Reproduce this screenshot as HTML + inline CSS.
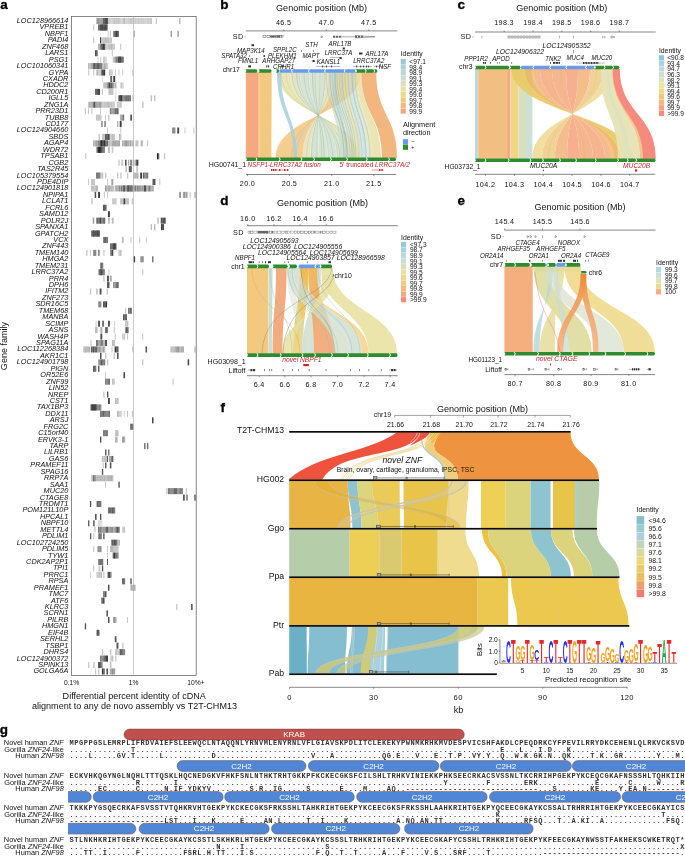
<!DOCTYPE html>
<html><head><meta charset="utf-8"><style>
html,body{margin:0;padding:0;background:#fff;}
body{width:685px;height:856px;overflow:hidden;}
svg{display:block;font-family:"Liberation Sans",sans-serif;will-change:transform;}
.ga{font-size:7.3px;font-style:italic;text-anchor:end;fill:#111;}
.tk{font-size:7.2px;fill:#111;letter-spacing:0.35px;}
.ttl{font-size:9.05px;fill:#111;}
.pl{font-size:13.5px;font-weight:bold;fill:#000;stroke:#000;stroke-width:0.3px;}
.gl{font-size:7.4px;fill:#111;}
.sq{font-family:"Liberation Mono",monospace;font-size:7.0px;font-weight:bold;fill:#333;}
.bl{font-size:8.0px;fill:#fff;}
.gn{font-size:6.7px;font-style:italic;fill:#111;}
.lg{font-size:6.85px;fill:#111;}
.tl{font-size:6.9px;fill:#111;}
.fl{font-size:8.7px;fill:#111;}
</style></head>
<body><svg width="685" height="856" viewBox="0 0 685 856">
<defs><linearGradient id="ge1" x1="0" y1="0" x2="0" y2="1"><stop offset="0" stop-color="#EE8A38"/><stop offset="0.5" stop-color="#F2A060"/><stop offset="1" stop-color="#F4B282"/></linearGradient><linearGradient id="ge2" x1="0" y1="0" x2="0" y2="1"><stop offset="0" stop-color="#EE8A38"/><stop offset="0.4" stop-color="#F2A468"/><stop offset="1" stop-color="#F4B486"/></linearGradient><linearGradient id="gd1" x1="0" y1="0" x2="0" y2="1"><stop offset="0" stop-color="#EEB44A"/><stop offset="0.45" stop-color="#F0A868"/><stop offset="1" stop-color="#F2A878"/></linearGradient><linearGradient id="gd2" x1="0" y1="0" x2="0" y2="1"><stop offset="0" stop-color="#EDAE30"/><stop offset="0.5" stop-color="#EDC050"/><stop offset="1" stop-color="#EDD070"/></linearGradient><clipPath id="gclip"><rect x="68" y="720" width="617" height="136"/></clipPath></defs>
<rect x="96.57" y="18.00" width="1.04" height="6.04" fill="#bfbfbf"/>
<rect x="97.56" y="18.00" width="1.34" height="6.04" fill="#bdbdbd"/>
<rect x="98.85" y="18.00" width="1.23" height="6.04" fill="#c4c4c4"/>
<rect x="100.03" y="18.00" width="0.80" height="6.04" fill="#c8c8c8"/>
<rect x="100.78" y="18.00" width="0.78" height="6.04" fill="#c6c6c6"/>
<rect x="101.52" y="18.00" width="0.81" height="6.04" fill="#bebebe"/>
<rect x="102.28" y="18.00" width="1.13" height="6.04" fill="#cfcfcf"/>
<rect x="103.36" y="18.00" width="0.86" height="6.04" fill="#c1c1c1"/>
<rect x="104.17" y="18.00" width="1.31" height="6.04" fill="#d2d2d2"/>
<rect x="105.44" y="18.00" width="1.27" height="6.04" fill="#c5c5c5"/>
<rect x="106.66" y="18.00" width="1.63" height="6.04" fill="#bdbdbd"/>
<rect x="108.24" y="18.00" width="1.52" height="6.04" fill="#c2c2c2"/>
<rect x="109.71" y="18.00" width="0.88" height="6.04" fill="#bebebe"/>
<rect x="110.54" y="18.00" width="1.03" height="6.04" fill="#cfcfcf"/>
<rect x="111.52" y="18.00" width="0.91" height="6.04" fill="#c9c9c9"/>
<rect x="112.38" y="18.00" width="1.33" height="6.04" fill="#c4c4c4"/>
<rect x="113.65" y="18.00" width="1.24" height="6.04" fill="#bdbdbd"/>
<rect x="114.85" y="18.00" width="0.80" height="6.04" fill="#c0c0c0"/>
<rect x="115.60" y="18.00" width="1.36" height="6.04" fill="#c6c6c6"/>
<rect x="116.91" y="18.00" width="1.03" height="6.04" fill="#cacaca"/>
<rect x="117.89" y="18.00" width="1.16" height="6.04" fill="#c3c3c3"/>
<rect x="119.00" y="18.00" width="1.46" height="6.04" fill="#cccccc"/>
<rect x="120.42" y="18.00" width="0.97" height="6.04" fill="#c9c9c9"/>
<rect x="121.34" y="18.00" width="1.22" height="6.04" fill="#d1d1d1"/>
<rect x="122.51" y="18.00" width="1.41" height="6.04" fill="#c2c2c2"/>
<rect x="123.87" y="18.00" width="1.63" height="6.04" fill="#bebebe"/>
<rect x="125.45" y="18.00" width="1.13" height="6.04" fill="#cecece"/>
<rect x="126.52" y="18.00" width="0.89" height="6.04" fill="#c7c7c7"/>
<rect x="127.36" y="18.00" width="0.79" height="6.04" fill="#cccccc"/>
<rect x="128.10" y="18.00" width="1.44" height="6.04" fill="#c9c9c9"/>
<rect x="129.48" y="18.00" width="1.54" height="6.04" fill="#c3c3c3"/>
<rect x="130.97" y="18.00" width="1.38" height="6.04" fill="#cacaca"/>
<rect x="132.30" y="18.00" width="1.27" height="6.04" fill="#c6c6c6"/>
<rect x="133.52" y="18.00" width="1.51" height="6.04" fill="#d2d2d2"/>
<rect x="134.98" y="18.00" width="1.18" height="6.04" fill="#cbcbcb"/>
<rect x="136.10" y="18.00" width="0.80" height="6.04" fill="#cccccc"/>
<rect x="136.86" y="18.00" width="1.33" height="6.04" fill="#d3d3d3"/>
<rect x="138.14" y="18.00" width="1.49" height="6.04" fill="#c2c2c2"/>
<rect x="139.58" y="18.00" width="1.10" height="6.04" fill="#cccccc"/>
<rect x="140.63" y="18.00" width="0.77" height="6.04" fill="#c7c7c7"/>
<rect x="141.35" y="18.00" width="0.90" height="6.04" fill="#bebebe"/>
<rect x="142.20" y="18.00" width="0.80" height="6.04" fill="#cecece"/>
<rect x="142.95" y="18.00" width="0.87" height="6.04" fill="#c1c1c1"/>
<rect x="143.77" y="18.00" width="1.10" height="6.04" fill="#d0d0d0"/>
<rect x="144.82" y="18.00" width="0.82" height="6.04" fill="#c6c6c6"/>
<rect x="145.59" y="18.00" width="1.24" height="6.04" fill="#d1d1d1"/>
<rect x="146.79" y="18.00" width="1.49" height="6.04" fill="#d0d0d0"/>
<rect x="148.22" y="18.00" width="1.00" height="6.04" fill="#c5c5c5"/>
<rect x="149.17" y="18.00" width="1.07" height="6.04" fill="#d1d1d1"/>
<rect x="150.20" y="18.00" width="1.61" height="6.04" fill="#bfbfbf"/>
<rect x="151.76" y="18.00" width="0.28" height="6.04" fill="#c1c1c1"/>
<rect x="96.57" y="18.00" width="0.96" height="6.04" fill="#959595"/>
<rect x="97.48" y="18.00" width="1.28" height="6.04" fill="#888888"/>
<rect x="98.71" y="18.00" width="0.75" height="6.04" fill="#919191"/>
<rect x="99.41" y="18.00" width="1.08" height="6.04" fill="#999999"/>
<rect x="100.45" y="18.00" width="1.61" height="6.04" fill="#a0a0a0"/>
<rect x="102.00" y="18.00" width="1.21" height="6.04" fill="#9c9c9c"/>
<rect x="103.17" y="18.00" width="0.09" height="6.04" fill="#7d7d7d"/>
<rect x="103.21" y="18.00" width="1.56" height="6.04" fill="#4b4b4b"/>
<rect x="104.72" y="18.00" width="1.54" height="6.04" fill="#4c4c4c"/>
<rect x="106.21" y="18.00" width="1.10" height="6.04" fill="#363636"/>
<rect x="107.26" y="18.00" width="0.74" height="6.04" fill="#434343"/>
<rect x="155.78" y="18.00" width="1.14" height="6.04" fill="#c8c8c8"/>
<rect x="179.13" y="18.00" width="1.33" height="6.04" fill="#b4b4b4"/>
<rect x="93.15" y="24.44" width="1.14" height="6.04" fill="#c8c8c8"/>
<rect x="98.09" y="24.44" width="0.81" height="6.04" fill="#555555"/>
<rect x="98.84" y="24.44" width="0.94" height="6.04" fill="#5b5b5b"/>
<rect x="99.73" y="24.44" width="1.06" height="6.04" fill="#545454"/>
<rect x="100.74" y="24.44" width="0.75" height="6.04" fill="#5a5a5a"/>
<rect x="101.44" y="24.44" width="0.84" height="6.04" fill="#666666"/>
<rect x="102.23" y="24.44" width="0.77" height="6.04" fill="#828282"/>
<rect x="102.95" y="24.44" width="1.30" height="6.04" fill="#5a5a5a"/>
<rect x="104.21" y="24.44" width="0.98" height="6.04" fill="#656565"/>
<rect x="105.13" y="24.44" width="1.08" height="6.04" fill="#585858"/>
<rect x="106.16" y="24.44" width="1.51" height="6.04" fill="#898989"/>
<rect x="107.62" y="24.44" width="0.38" height="6.04" fill="#6d6d6d"/>
<rect x="100.37" y="24.44" width="0.83" height="6.04" fill="#3e3e3e"/>
<rect x="101.14" y="24.44" width="1.06" height="6.04" fill="#474747"/>
<rect x="102.15" y="24.44" width="1.50" height="6.04" fill="#424242"/>
<rect x="103.60" y="24.44" width="0.77" height="6.04" fill="#6e6e6e"/>
<rect x="104.32" y="24.44" width="1.23" height="6.04" fill="#414141"/>
<rect x="105.49" y="24.44" width="1.24" height="6.04" fill="#3a3a3a"/>
<rect x="106.68" y="24.44" width="0.38" height="6.04" fill="#6f6f6f"/>
<rect x="107.58" y="30.88" width="0.95" height="6.04" fill="#c8c8c8"/>
<rect x="109.86" y="30.88" width="1.14" height="6.04" fill="#c8c8c8"/>
<rect x="113.27" y="30.88" width="1.53" height="6.04" fill="#646464"/>
<rect x="114.75" y="30.88" width="0.99" height="6.04" fill="#525252"/>
<rect x="115.68" y="30.88" width="0.90" height="6.04" fill="#696969"/>
<rect x="116.53" y="30.88" width="1.23" height="6.04" fill="#696969"/>
<rect x="117.71" y="30.88" width="1.05" height="6.04" fill="#4a4a4a"/>
<rect x="118.71" y="30.88" width="0.31" height="6.04" fill="#757575"/>
<rect x="115.55" y="30.88" width="1.90" height="6.04" fill="#3c3c3c"/>
<rect x="133.77" y="30.88" width="1.14" height="6.04" fill="#aaaaaa"/>
<rect x="170.59" y="30.88" width="1.33" height="6.04" fill="#969696"/>
<rect x="177.42" y="30.88" width="1.33" height="6.04" fill="#969696"/>
<rect x="93.15" y="37.32" width="1.14" height="6.04" fill="#c8c8c8"/>
<rect x="99.99" y="37.32" width="1.33" height="6.04" fill="#3c3c3c"/>
<rect x="101.32" y="37.32" width="1.52" height="6.04" fill="#c5c5c5"/>
<rect x="102.78" y="37.32" width="1.49" height="6.04" fill="#c3c3c3"/>
<rect x="104.22" y="37.32" width="0.95" height="6.04" fill="#bebebe"/>
<rect x="105.12" y="37.32" width="1.07" height="6.04" fill="#b2b2b2"/>
<rect x="106.14" y="37.32" width="0.78" height="6.04" fill="#b8b8b8"/>
<rect x="106.87" y="37.32" width="0.98" height="6.04" fill="#c2c2c2"/>
<rect x="107.80" y="37.32" width="1.61" height="6.04" fill="#bcbcbc"/>
<rect x="109.36" y="37.32" width="1.59" height="6.04" fill="#c9c9c9"/>
<rect x="110.91" y="37.32" width="0.90" height="6.04" fill="#bababa"/>
<rect x="98.09" y="43.76" width="0.95" height="6.04" fill="#adadad"/>
<rect x="98.99" y="43.76" width="0.93" height="6.04" fill="#acacac"/>
<rect x="99.86" y="43.76" width="0.55" height="6.04" fill="#bdbdbd"/>
<rect x="100.37" y="43.76" width="1.51" height="6.04" fill="#585858"/>
<rect x="101.82" y="43.76" width="1.34" height="6.04" fill="#6a6a6a"/>
<rect x="103.11" y="43.76" width="0.83" height="6.04" fill="#626262"/>
<rect x="103.89" y="43.76" width="1.27" height="6.04" fill="#696969"/>
<rect x="102.64" y="43.76" width="1.90" height="6.04" fill="#3c3c3c"/>
<rect x="105.11" y="43.76" width="1.43" height="6.04" fill="#bdbdbd"/>
<rect x="106.49" y="43.76" width="0.91" height="6.04" fill="#c4c4c4"/>
<rect x="107.35" y="43.76" width="1.05" height="6.04" fill="#c5c5c5"/>
<rect x="108.35" y="43.76" width="1.62" height="6.04" fill="#bbbbbb"/>
<rect x="109.92" y="43.76" width="1.11" height="6.04" fill="#c8c8c8"/>
<rect x="110.98" y="43.76" width="1.40" height="6.04" fill="#b6b6b6"/>
<rect x="112.33" y="43.76" width="0.86" height="6.04" fill="#b5b5b5"/>
<rect x="113.15" y="43.76" width="1.56" height="6.04" fill="#c5c5c5"/>
<rect x="114.66" y="43.76" width="0.18" height="6.04" fill="#c5c5c5"/>
<rect x="120.10" y="43.76" width="1.14" height="6.04" fill="#c8c8c8"/>
<rect x="95.05" y="50.20" width="1.63" height="6.04" fill="#444444"/>
<rect x="96.63" y="50.20" width="0.93" height="6.04" fill="#3e3e3e"/>
<rect x="111.75" y="50.20" width="1.14" height="6.04" fill="#c8c8c8"/>
<rect x="97.52" y="56.64" width="0.95" height="6.04" fill="#c8c8c8"/>
<rect x="99.99" y="56.64" width="1.33" height="6.04" fill="#d2d2d2"/>
<rect x="103.21" y="56.64" width="0.87" height="6.04" fill="#bcbcbc"/>
<rect x="104.03" y="56.64" width="1.62" height="6.04" fill="#cbcbcb"/>
<rect x="105.60" y="56.64" width="1.07" height="6.04" fill="#d2d2d2"/>
<rect x="112.70" y="56.64" width="1.14" height="6.04" fill="#c6c6c6"/>
<rect x="113.79" y="56.64" width="1.49" height="6.04" fill="#b7b7b7"/>
<rect x="115.24" y="56.64" width="0.36" height="6.04" fill="#b9b9b9"/>
<rect x="115.55" y="56.64" width="0.97" height="6.04" fill="#5e5e5e"/>
<rect x="116.47" y="56.64" width="0.98" height="6.04" fill="#555555"/>
<rect x="117.40" y="56.64" width="0.87" height="6.04" fill="#707070"/>
<rect x="118.22" y="56.64" width="1.07" height="6.04" fill="#575757"/>
<rect x="119.24" y="56.64" width="1.28" height="6.04" fill="#707070"/>
<rect x="120.46" y="56.64" width="1.13" height="6.04" fill="#717171"/>
<rect x="121.54" y="56.64" width="1.20" height="6.04" fill="#5b5b5b"/>
<rect x="122.69" y="56.64" width="0.88" height="6.04" fill="#3f3f3f"/>
<rect x="118.40" y="56.64" width="1.15" height="6.04" fill="#2a2a2a"/>
<rect x="119.49" y="56.64" width="0.75" height="6.04" fill="#4c4c4c"/>
<rect x="120.20" y="56.64" width="0.91" height="6.04" fill="#3a3a3a"/>
<rect x="121.05" y="56.64" width="0.24" height="6.04" fill="#3f3f3f"/>
<rect x="88.22" y="63.08" width="1.04" height="6.04" fill="#ababab"/>
<rect x="89.21" y="63.08" width="1.25" height="6.04" fill="#b9b9b9"/>
<rect x="90.41" y="63.08" width="0.85" height="6.04" fill="#adadad"/>
<rect x="91.21" y="63.08" width="0.97" height="6.04" fill="#9d9d9d"/>
<rect x="92.13" y="63.08" width="0.69" height="6.04" fill="#aaaaaa"/>
<rect x="92.77" y="63.08" width="1.26" height="6.04" fill="#686868"/>
<rect x="93.98" y="63.08" width="1.57" height="6.04" fill="#565656"/>
<rect x="95.50" y="63.08" width="1.30" height="6.04" fill="#5a5a5a"/>
<rect x="96.75" y="63.08" width="1.21" height="6.04" fill="#646464"/>
<rect x="97.91" y="63.08" width="1.16" height="6.04" fill="#5b5b5b"/>
<rect x="99.02" y="63.08" width="1.18" height="6.04" fill="#727272"/>
<rect x="100.15" y="63.08" width="1.38" height="6.04" fill="#6f6f6f"/>
<rect x="101.48" y="63.08" width="0.83" height="6.04" fill="#4c4c4c"/>
<rect x="102.26" y="63.08" width="1.25" height="6.04" fill="#bebebe"/>
<rect x="103.47" y="63.08" width="1.51" height="6.04" fill="#ababab"/>
<rect x="104.92" y="63.08" width="0.86" height="6.04" fill="#b2b2b2"/>
<rect x="105.73" y="63.08" width="0.82" height="6.04" fill="#adadad"/>
<rect x="106.50" y="63.08" width="0.82" height="6.04" fill="#b8b8b8"/>
<rect x="107.26" y="63.08" width="0.74" height="6.04" fill="#bdbdbd"/>
<rect x="88.22" y="69.52" width="1.14" height="6.04" fill="#c8c8c8"/>
<rect x="93.15" y="69.52" width="1.14" height="6.04" fill="#c8c8c8"/>
<rect x="96.19" y="69.52" width="0.89" height="6.04" fill="#c3c3c3"/>
<rect x="97.03" y="69.52" width="1.34" height="6.04" fill="#b5b5b5"/>
<rect x="98.32" y="69.52" width="1.54" height="6.04" fill="#c9c9c9"/>
<rect x="99.82" y="69.52" width="0.95" height="6.04" fill="#c8c8c8"/>
<rect x="100.72" y="69.52" width="0.65" height="6.04" fill="#bdbdbd"/>
<rect x="101.32" y="69.52" width="1.64" height="6.04" fill="#4e4e4e"/>
<rect x="102.91" y="69.52" width="0.90" height="6.04" fill="#383838"/>
<rect x="103.75" y="69.52" width="1.21" height="6.04" fill="#323232"/>
<rect x="104.92" y="69.52" width="0.25" height="6.04" fill="#313131"/>
<rect x="108.91" y="69.52" width="1.40" height="6.04" fill="#bcbcbc"/>
<rect x="110.26" y="69.52" width="1.25" height="6.04" fill="#c6c6c6"/>
<rect x="111.46" y="69.52" width="0.77" height="6.04" fill="#c3c3c3"/>
<rect x="112.17" y="69.52" width="0.58" height="6.04" fill="#c8c8c8"/>
<rect x="114.98" y="69.52" width="0.95" height="6.04" fill="#c8c8c8"/>
<rect x="118.40" y="69.52" width="0.95" height="6.04" fill="#c8c8c8"/>
<rect x="122.19" y="69.52" width="0.95" height="6.04" fill="#c8c8c8"/>
<rect x="132.25" y="69.52" width="0.95" height="6.04" fill="#c8c8c8"/>
<rect x="102.26" y="75.96" width="0.57" height="6.04" fill="#c8c8c8"/>
<rect x="110.24" y="75.96" width="1.90" height="6.04" fill="#646464"/>
<rect x="113.27" y="75.96" width="1.90" height="6.04" fill="#3c3c3c"/>
<rect x="103.21" y="82.40" width="0.81" height="6.04" fill="#c5c5c5"/>
<rect x="103.97" y="82.40" width="1.46" height="6.04" fill="#c4c4c4"/>
<rect x="105.38" y="82.40" width="0.84" height="6.04" fill="#9c9c9c"/>
<rect x="106.17" y="82.40" width="0.79" height="6.04" fill="#b9b9b9"/>
<rect x="106.91" y="82.40" width="0.72" height="6.04" fill="#959595"/>
<rect x="107.58" y="82.40" width="1.13" height="6.04" fill="#676767"/>
<rect x="108.66" y="82.40" width="1.49" height="6.04" fill="#424242"/>
<rect x="110.10" y="82.40" width="0.88" height="6.04" fill="#676767"/>
<rect x="110.93" y="82.40" width="1.26" height="6.04" fill="#5b5b5b"/>
<rect x="112.14" y="82.40" width="0.61" height="6.04" fill="#373737"/>
<rect x="112.70" y="82.40" width="1.37" height="6.04" fill="#a5a5a5"/>
<rect x="114.02" y="82.40" width="0.82" height="6.04" fill="#c2c2c2"/>
<rect x="114.79" y="82.40" width="1.32" height="6.04" fill="#bababa"/>
<rect x="116.06" y="82.40" width="0.49" height="6.04" fill="#bdbdbd"/>
<rect x="120.29" y="82.40" width="0.81" height="6.04" fill="#d0d0d0"/>
<rect x="121.05" y="82.40" width="1.16" height="6.04" fill="#c4c4c4"/>
<rect x="122.16" y="82.40" width="1.25" height="6.04" fill="#d2d2d2"/>
<rect x="123.36" y="82.40" width="0.21" height="6.04" fill="#bfbfbf"/>
<rect x="95.24" y="88.84" width="1.22" height="6.04" fill="#414141"/>
<rect x="96.42" y="88.84" width="0.85" height="6.04" fill="#3d3d3d"/>
<rect x="97.21" y="88.84" width="0.80" height="6.04" fill="#3f3f3f"/>
<rect x="97.96" y="88.84" width="1.03" height="6.04" fill="#454545"/>
<rect x="98.94" y="88.84" width="1.10" height="6.04" fill="#444444"/>
<rect x="101.88" y="88.84" width="1.14" height="6.04" fill="#c8c8c8"/>
<rect x="108.53" y="88.84" width="1.20" height="6.04" fill="#b6b6b6"/>
<rect x="109.68" y="88.84" width="1.06" height="6.04" fill="#b2b2b2"/>
<rect x="110.69" y="88.84" width="0.98" height="6.04" fill="#b2b2b2"/>
<rect x="111.62" y="88.84" width="1.41" height="6.04" fill="#bfbfbf"/>
<rect x="112.97" y="88.84" width="0.35" height="6.04" fill="#bdbdbd"/>
<rect x="115.55" y="88.84" width="0.76" height="6.04" fill="#d2d2d2"/>
<rect x="115.17" y="95.28" width="1.14" height="6.04" fill="#d2d2d2"/>
<rect x="118.40" y="95.28" width="1.59" height="6.04" fill="#4d4d4d"/>
<rect x="119.94" y="95.28" width="1.49" height="6.04" fill="#606060"/>
<rect x="121.37" y="95.28" width="1.20" height="6.04" fill="#767676"/>
<rect x="122.52" y="95.28" width="1.10" height="6.04" fill="#646464"/>
<rect x="123.57" y="95.28" width="1.37" height="6.04" fill="#7f7f7f"/>
<rect x="124.89" y="95.28" width="1.06" height="6.04" fill="#767676"/>
<rect x="125.90" y="95.28" width="1.39" height="6.04" fill="#6b6b6b"/>
<rect x="127.24" y="95.28" width="1.11" height="6.04" fill="#5b5b5b"/>
<rect x="128.30" y="95.28" width="0.80" height="6.04" fill="#4f4f4f"/>
<rect x="129.05" y="95.28" width="0.81" height="6.04" fill="#717171"/>
<rect x="129.81" y="95.28" width="0.97" height="6.04" fill="#515151"/>
<rect x="120.29" y="95.28" width="1.90" height="6.04" fill="#3c3c3c"/>
<rect x="132.25" y="95.28" width="0.95" height="6.04" fill="#c8c8c8"/>
<rect x="150.66" y="95.28" width="1.33" height="6.04" fill="#bebebe"/>
<rect x="154.08" y="95.28" width="1.33" height="6.04" fill="#bebebe"/>
<rect x="88.22" y="101.72" width="0.83" height="6.04" fill="#bdbdbd"/>
<rect x="89.00" y="101.72" width="1.53" height="6.04" fill="#b3b3b3"/>
<rect x="90.48" y="101.72" width="1.00" height="6.04" fill="#9b9b9b"/>
<rect x="91.43" y="101.72" width="1.01" height="6.04" fill="#a7a7a7"/>
<rect x="92.40" y="101.72" width="0.43" height="6.04" fill="#a6a6a6"/>
<rect x="92.77" y="101.72" width="0.99" height="6.04" fill="#696969"/>
<rect x="93.71" y="101.72" width="1.63" height="6.04" fill="#525252"/>
<rect x="95.29" y="101.72" width="0.38" height="6.04" fill="#6a6a6a"/>
<rect x="95.62" y="101.72" width="1.03" height="6.04" fill="#8d8d8d"/>
<rect x="96.60" y="101.72" width="0.75" height="6.04" fill="#8f8f8f"/>
<rect x="97.30" y="101.72" width="1.18" height="6.04" fill="#969696"/>
<rect x="98.43" y="101.72" width="0.93" height="6.04" fill="#969696"/>
<rect x="99.31" y="101.72" width="0.75" height="6.04" fill="#888888"/>
<rect x="100.01" y="101.72" width="0.83" height="6.04" fill="#909090"/>
<rect x="100.79" y="101.72" width="0.57" height="6.04" fill="#7b7b7b"/>
<rect x="101.32" y="101.72" width="1.02" height="6.04" fill="#b7b7b7"/>
<rect x="102.29" y="101.72" width="1.28" height="6.04" fill="#bebebe"/>
<rect x="103.52" y="101.72" width="1.43" height="6.04" fill="#c1c1c1"/>
<rect x="104.89" y="101.72" width="1.39" height="6.04" fill="#c7c7c7"/>
<rect x="106.24" y="101.72" width="1.10" height="6.04" fill="#b9b9b9"/>
<rect x="107.29" y="101.72" width="1.64" height="6.04" fill="#b5b5b5"/>
<rect x="108.87" y="101.72" width="1.40" height="6.04" fill="#c1c1c1"/>
<rect x="110.22" y="101.72" width="0.79" height="6.04" fill="#c6c6c6"/>
<rect x="110.96" y="101.72" width="1.55" height="6.04" fill="#c1c1c1"/>
<rect x="112.47" y="101.72" width="1.41" height="6.04" fill="#c5c5c5"/>
<rect x="113.83" y="101.72" width="0.82" height="6.04" fill="#bebebe"/>
<rect x="117.07" y="101.72" width="1.20" height="6.04" fill="#c6c6c6"/>
<rect x="118.22" y="101.72" width="1.47" height="6.04" fill="#c5c5c5"/>
<rect x="119.65" y="101.72" width="1.28" height="6.04" fill="#c7c7c7"/>
<rect x="120.87" y="101.72" width="0.80" height="6.04" fill="#c2c2c2"/>
<rect x="142.12" y="101.72" width="1.52" height="6.04" fill="#c8c8c8"/>
<rect x="84.80" y="108.16" width="1.14" height="6.04" fill="#c8c8c8"/>
<rect x="88.03" y="108.16" width="0.95" height="6.04" fill="#c8c8c8"/>
<rect x="91.26" y="108.16" width="1.14" height="6.04" fill="#c8c8c8"/>
<rect x="99.99" y="108.16" width="0.95" height="6.04" fill="#c8c8c8"/>
<rect x="109.86" y="108.16" width="0.96" height="6.04" fill="#676767"/>
<rect x="110.76" y="108.16" width="0.87" height="6.04" fill="#7a7a7a"/>
<rect x="111.58" y="108.16" width="0.84" height="6.04" fill="#949494"/>
<rect x="112.38" y="108.16" width="1.25" height="6.04" fill="#898989"/>
<rect x="113.58" y="108.16" width="1.31" height="6.04" fill="#8c8c8c"/>
<rect x="114.84" y="108.16" width="0.38" height="6.04" fill="#666666"/>
<rect x="115.17" y="108.16" width="1.47" height="6.04" fill="#5d5d5d"/>
<rect x="116.59" y="108.16" width="1.20" height="6.04" fill="#515151"/>
<rect x="117.74" y="108.16" width="0.71" height="6.04" fill="#373737"/>
<rect x="96.19" y="114.60" width="1.41" height="6.04" fill="#b8b8b8"/>
<rect x="97.55" y="114.60" width="0.82" height="6.04" fill="#b8b8b8"/>
<rect x="98.32" y="114.60" width="1.41" height="6.04" fill="#b6b6b6"/>
<rect x="99.68" y="114.60" width="1.42" height="6.04" fill="#c9c9c9"/>
<rect x="101.04" y="114.60" width="0.32" height="6.04" fill="#bbbbbb"/>
<rect x="105.11" y="114.60" width="0.95" height="6.04" fill="#c8c8c8"/>
<rect x="107.96" y="114.60" width="1.52" height="6.04" fill="#c8c8c8"/>
<rect x="120.29" y="114.60" width="1.18" height="6.04" fill="#969696"/>
<rect x="121.43" y="114.60" width="1.44" height="6.04" fill="#929292"/>
<rect x="122.82" y="114.60" width="1.32" height="6.04" fill="#747474"/>
<rect x="130.35" y="114.60" width="1.52" height="6.04" fill="#3c3c3c"/>
<rect x="101.32" y="121.04" width="1.33" height="6.04" fill="#787878"/>
<rect x="104.16" y="121.04" width="1.90" height="6.04" fill="#969696"/>
<rect x="117.07" y="121.04" width="1.33" height="6.04" fill="#b4b4b4"/>
<rect x="119.72" y="121.04" width="1.90" height="6.04" fill="#3c3c3c"/>
<rect x="107.01" y="127.48" width="0.95" height="6.04" fill="#c8c8c8"/>
<rect x="120.29" y="127.48" width="0.95" height="6.04" fill="#c8c8c8"/>
<rect x="172.11" y="127.48" width="0.88" height="6.04" fill="#888888"/>
<rect x="172.94" y="127.48" width="1.42" height="6.04" fill="#8b8b8b"/>
<rect x="174.31" y="127.48" width="1.07" height="6.04" fill="#7a7a7a"/>
<rect x="177.23" y="127.48" width="1.90" height="6.04" fill="#464646"/>
<rect x="184.44" y="127.48" width="0.95" height="6.04" fill="#c8c8c8"/>
<rect x="193.36" y="127.48" width="0.95" height="6.04" fill="#c8c8c8"/>
<rect x="98.47" y="133.92" width="1.52" height="6.04" fill="#c8c8c8"/>
<rect x="102.26" y="133.92" width="0.80" height="6.04" fill="#b8b8b8"/>
<rect x="103.02" y="133.92" width="1.35" height="6.04" fill="#c2c2c2"/>
<rect x="104.32" y="133.92" width="0.84" height="6.04" fill="#b8b8b8"/>
<rect x="105.11" y="133.92" width="1.21" height="6.04" fill="#4e4e4e"/>
<rect x="106.28" y="133.92" width="1.17" height="6.04" fill="#3a3a3a"/>
<rect x="107.40" y="133.92" width="1.55" height="6.04" fill="#3f3f3f"/>
<rect x="108.90" y="133.92" width="1.01" height="6.04" fill="#686868"/>
<rect x="109.86" y="133.92" width="0.77" height="6.04" fill="#bdbdbd"/>
<rect x="110.57" y="133.92" width="1.49" height="6.04" fill="#c9c9c9"/>
<rect x="112.01" y="133.92" width="1.15" height="6.04" fill="#b8b8b8"/>
<rect x="113.11" y="133.92" width="0.94" height="6.04" fill="#c8c8c8"/>
<rect x="114.00" y="133.92" width="0.94" height="6.04" fill="#bfbfbf"/>
<rect x="114.89" y="133.92" width="0.14" height="6.04" fill="#bebebe"/>
<rect x="118.97" y="133.92" width="1.61" height="6.04" fill="#b5b5b5"/>
<rect x="120.52" y="133.92" width="0.77" height="6.04" fill="#bebebe"/>
<rect x="93.15" y="140.36" width="1.55" height="6.04" fill="#ababab"/>
<rect x="94.65" y="140.36" width="0.96" height="6.04" fill="#b6b6b6"/>
<rect x="95.56" y="140.36" width="1.19" height="6.04" fill="#858585"/>
<rect x="96.70" y="140.36" width="0.75" height="6.04" fill="#9f9f9f"/>
<rect x="97.40" y="140.36" width="1.12" height="6.04" fill="#949494"/>
<rect x="98.47" y="140.36" width="0.88" height="6.04" fill="#515151"/>
<rect x="99.30" y="140.36" width="1.03" height="6.04" fill="#6d6d6d"/>
<rect x="100.28" y="140.36" width="0.75" height="6.04" fill="#686868"/>
<rect x="100.98" y="140.36" width="1.51" height="6.04" fill="#444444"/>
<rect x="102.44" y="140.36" width="1.58" height="6.04" fill="#656565"/>
<rect x="103.97" y="140.36" width="1.56" height="6.04" fill="#4e4e4e"/>
<rect x="105.48" y="140.36" width="1.08" height="6.04" fill="#545454"/>
<rect x="106.52" y="140.36" width="1.49" height="6.04" fill="#5e5e5e"/>
<rect x="100.37" y="140.36" width="1.07" height="6.04" fill="#373737"/>
<rect x="101.39" y="140.36" width="1.00" height="6.04" fill="#232323"/>
<rect x="102.34" y="140.36" width="0.84" height="6.04" fill="#4e4e4e"/>
<rect x="103.13" y="140.36" width="1.01" height="6.04" fill="#545454"/>
<rect x="104.09" y="140.36" width="0.97" height="6.04" fill="#2e2e2e"/>
<rect x="105.01" y="140.36" width="0.15" height="6.04" fill="#2a2a2a"/>
<rect x="107.96" y="140.36" width="1.09" height="6.04" fill="#c3c3c3"/>
<rect x="108.99" y="140.36" width="1.55" height="6.04" fill="#bbbbbb"/>
<rect x="110.49" y="140.36" width="1.32" height="6.04" fill="#c1c1c1"/>
<rect x="111.76" y="140.36" width="1.60" height="6.04" fill="#acacac"/>
<rect x="113.30" y="140.36" width="1.40" height="6.04" fill="#909090"/>
<rect x="114.65" y="140.36" width="1.41" height="6.04" fill="#a7a7a7"/>
<rect x="116.01" y="140.36" width="1.43" height="6.04" fill="#b2b2b2"/>
<rect x="117.39" y="140.36" width="1.01" height="6.04" fill="#909090"/>
<rect x="118.35" y="140.36" width="1.43" height="6.04" fill="#959595"/>
<rect x="122.19" y="140.36" width="1.17" height="6.04" fill="#a1a1a1"/>
<rect x="123.32" y="140.36" width="1.02" height="6.04" fill="#b7b7b7"/>
<rect x="124.29" y="140.36" width="1.63" height="6.04" fill="#9c9c9c"/>
<rect x="125.86" y="140.36" width="1.34" height="6.04" fill="#9e9e9e"/>
<rect x="127.15" y="140.36" width="1.25" height="6.04" fill="#a4a4a4"/>
<rect x="128.36" y="140.36" width="0.90" height="6.04" fill="#979797"/>
<rect x="129.21" y="140.36" width="0.94" height="6.04" fill="#c0c0c0"/>
<rect x="130.09" y="140.36" width="1.20" height="6.04" fill="#9a9a9a"/>
<rect x="131.24" y="140.36" width="1.57" height="6.04" fill="#c5c5c5"/>
<rect x="132.76" y="140.36" width="0.87" height="6.04" fill="#959595"/>
<rect x="135.48" y="140.36" width="0.92" height="6.04" fill="#b4b4b4"/>
<rect x="136.35" y="140.36" width="1.06" height="6.04" fill="#b4b4b4"/>
<rect x="137.36" y="140.36" width="0.97" height="6.04" fill="#b8b8b8"/>
<rect x="138.27" y="140.36" width="0.10" height="6.04" fill="#c7c7c7"/>
<rect x="140.60" y="140.36" width="1.42" height="6.04" fill="#bbbbbb"/>
<rect x="141.98" y="140.36" width="1.12" height="6.04" fill="#bebebe"/>
<rect x="143.05" y="140.36" width="0.07" height="6.04" fill="#bababa"/>
<rect x="146.86" y="140.36" width="1.33" height="6.04" fill="#c8c8c8"/>
<rect x="96.57" y="146.80" width="0.81" height="6.04" fill="#434343"/>
<rect x="97.33" y="146.80" width="1.62" height="6.04" fill="#3b3b3b"/>
<rect x="98.90" y="146.80" width="1.20" height="6.04" fill="#575757"/>
<rect x="100.05" y="146.80" width="1.53" height="6.04" fill="#404040"/>
<rect x="101.53" y="146.80" width="0.99" height="6.04" fill="#414141"/>
<rect x="102.47" y="146.80" width="1.11" height="6.04" fill="#4c4c4c"/>
<rect x="103.53" y="146.80" width="1.25" height="6.04" fill="#636363"/>
<rect x="98.47" y="146.80" width="1.54" height="6.04" fill="#232323"/>
<rect x="99.95" y="146.80" width="0.78" height="6.04" fill="#3d3d3d"/>
<rect x="100.68" y="146.80" width="0.68" height="6.04" fill="#303030"/>
<rect x="107.96" y="146.80" width="1.90" height="6.04" fill="#bebebe"/>
<rect x="111.75" y="146.80" width="1.52" height="6.04" fill="#c8c8c8"/>
<rect x="85.18" y="153.24" width="1.14" height="6.04" fill="#c8c8c8"/>
<rect x="156.92" y="153.24" width="1.28" height="6.04" fill="#232323"/>
<rect x="158.15" y="153.24" width="1.10" height="6.04" fill="#535353"/>
<rect x="163.95" y="153.24" width="1.33" height="6.04" fill="#c8c8c8"/>
<rect x="118.40" y="159.68" width="1.33" height="6.04" fill="#c8c8c8"/>
<rect x="121.24" y="159.68" width="1.90" height="6.04" fill="#c8c8c8"/>
<rect x="125.04" y="159.68" width="1.52" height="6.04" fill="#505050"/>
<rect x="127.89" y="159.68" width="1.33" height="6.04" fill="#aaaaaa"/>
<rect x="130.35" y="159.68" width="1.33" height="6.04" fill="#505050"/>
<rect x="132.63" y="159.68" width="1.90" height="6.04" fill="#b4b4b4"/>
<rect x="135.48" y="159.68" width="1.49" height="6.04" fill="#636363"/>
<rect x="136.92" y="159.68" width="1.45" height="6.04" fill="#414141"/>
<rect x="125.42" y="166.12" width="1.52" height="6.04" fill="#bebebe"/>
<rect x="128.83" y="166.12" width="0.85" height="6.04" fill="#282828"/>
<rect x="129.63" y="166.12" width="1.22" height="6.04" fill="#464646"/>
<rect x="130.80" y="166.12" width="0.93" height="6.04" fill="#484848"/>
<rect x="136.43" y="166.12" width="1.52" height="6.04" fill="#bebebe"/>
<rect x="96.19" y="172.56" width="1.33" height="6.04" fill="#5e5e5e"/>
<rect x="97.47" y="172.56" width="1.16" height="6.04" fill="#525252"/>
<rect x="98.59" y="172.56" width="0.79" height="6.04" fill="#5f5f5f"/>
<rect x="99.32" y="172.56" width="0.96" height="6.04" fill="#676767"/>
<rect x="100.23" y="172.56" width="0.19" height="6.04" fill="#454545"/>
<rect x="101.32" y="172.56" width="1.90" height="6.04" fill="#bebebe"/>
<rect x="105.11" y="172.56" width="1.33" height="6.04" fill="#c8c8c8"/>
<rect x="117.07" y="172.56" width="1.33" height="6.04" fill="#c8c8c8"/>
<rect x="120.29" y="172.56" width="1.33" height="6.04" fill="#c8c8c8"/>
<rect x="126.94" y="172.56" width="1.33" height="6.04" fill="#c8c8c8"/>
<rect x="133.58" y="172.56" width="0.87" height="6.04" fill="#9c9c9c"/>
<rect x="134.39" y="172.56" width="1.32" height="6.04" fill="#b5b5b5"/>
<rect x="135.67" y="172.56" width="0.85" height="6.04" fill="#919191"/>
<rect x="136.47" y="172.56" width="1.22" height="6.04" fill="#aeaeae"/>
<rect x="137.64" y="172.56" width="0.73" height="6.04" fill="#9a9a9a"/>
<rect x="140.22" y="172.56" width="1.90" height="6.04" fill="#3c3c3c"/>
<rect x="143.07" y="172.56" width="1.29" height="6.04" fill="#5c5c5c"/>
<rect x="144.31" y="172.56" width="1.02" height="6.04" fill="#757575"/>
<rect x="145.28" y="172.56" width="1.61" height="6.04" fill="#808080"/>
<rect x="146.84" y="172.56" width="1.40" height="6.04" fill="#767676"/>
<rect x="88.03" y="179.00" width="0.95" height="6.04" fill="#c8c8c8"/>
<rect x="91.26" y="179.00" width="0.96" height="6.04" fill="#b7b7b7"/>
<rect x="92.17" y="179.00" width="1.61" height="6.04" fill="#c2c2c2"/>
<rect x="93.73" y="179.00" width="0.99" height="6.04" fill="#b2b2b2"/>
<rect x="107.01" y="179.00" width="0.95" height="6.04" fill="#c8c8c8"/>
<rect x="111.37" y="179.00" width="1.90" height="6.04" fill="#a0a0a0"/>
<rect x="152.56" y="179.00" width="1.20" height="6.04" fill="#454545"/>
<rect x="153.71" y="179.00" width="1.13" height="6.04" fill="#2e2e2e"/>
<rect x="154.78" y="179.00" width="0.67" height="6.04" fill="#535353"/>
<rect x="159.20" y="179.00" width="1.14" height="6.04" fill="#c8c8c8"/>
<rect x="91.26" y="185.44" width="0.95" height="6.04" fill="#b2b2b2"/>
<rect x="92.16" y="185.44" width="1.05" height="6.04" fill="#bcbcbc"/>
<rect x="93.16" y="185.44" width="1.36" height="6.04" fill="#b6b6b6"/>
<rect x="94.48" y="185.44" width="1.47" height="6.04" fill="#c3c3c3"/>
<rect x="95.90" y="185.44" width="1.20" height="6.04" fill="#b6b6b6"/>
<rect x="97.05" y="185.44" width="1.09" height="6.04" fill="#b9b9b9"/>
<rect x="105.11" y="185.44" width="1.49" height="6.04" fill="#909090"/>
<rect x="106.55" y="185.44" width="0.95" height="6.04" fill="#aeaeae"/>
<rect x="107.45" y="185.44" width="1.02" height="6.04" fill="#b9b9b9"/>
<rect x="108.41" y="185.44" width="1.20" height="6.04" fill="#8e8e8e"/>
<rect x="109.56" y="185.44" width="0.95" height="6.04" fill="#9b9b9b"/>
<rect x="110.46" y="185.44" width="1.35" height="6.04" fill="#b9b9b9"/>
<rect x="111.76" y="185.44" width="0.88" height="6.04" fill="#9a9a9a"/>
<rect x="112.59" y="185.44" width="0.94" height="6.04" fill="#bababa"/>
<rect x="113.48" y="185.44" width="0.22" height="6.04" fill="#868686"/>
<rect x="114.79" y="185.44" width="0.80" height="6.04" fill="#909090"/>
<rect x="115.54" y="185.44" width="1.56" height="6.04" fill="#ababab"/>
<rect x="117.05" y="185.44" width="1.41" height="6.04" fill="#b1b1b1"/>
<rect x="118.41" y="185.44" width="1.59" height="6.04" fill="#8c8c8c"/>
<rect x="119.95" y="185.44" width="0.92" height="6.04" fill="#aeaeae"/>
<rect x="120.82" y="185.44" width="1.42" height="6.04" fill="#7b7b7b"/>
<rect x="122.19" y="185.44" width="1.35" height="6.04" fill="#8f8f8f"/>
<rect x="123.49" y="185.44" width="1.09" height="6.04" fill="#8c8c8c"/>
<rect x="124.52" y="185.44" width="0.90" height="6.04" fill="#7a7a7a"/>
<rect x="125.38" y="185.44" width="1.00" height="6.04" fill="#8d8d8d"/>
<rect x="126.33" y="185.44" width="1.61" height="6.04" fill="#808080"/>
<rect x="127.89" y="185.44" width="1.62" height="6.04" fill="#858585"/>
<rect x="129.46" y="185.44" width="1.07" height="6.04" fill="#a8a8a8"/>
<rect x="130.48" y="185.44" width="1.49" height="6.04" fill="#929292"/>
<rect x="131.92" y="185.44" width="0.79" height="6.04" fill="#949494"/>
<rect x="132.66" y="185.44" width="1.09" height="6.04" fill="#adadad"/>
<rect x="133.70" y="185.44" width="0.92" height="6.04" fill="#8e8e8e"/>
<rect x="134.57" y="185.44" width="1.56" height="6.04" fill="#7b7b7b"/>
<rect x="136.08" y="185.44" width="1.12" height="6.04" fill="#a7a7a7"/>
<rect x="137.15" y="185.44" width="1.44" height="6.04" fill="#7c7c7c"/>
<rect x="138.54" y="185.44" width="0.78" height="6.04" fill="#7d7d7d"/>
<rect x="139.27" y="185.44" width="1.58" height="6.04" fill="#888888"/>
<rect x="140.80" y="185.44" width="1.42" height="6.04" fill="#acacac"/>
<rect x="142.17" y="185.44" width="1.06" height="6.04" fill="#898989"/>
<rect x="143.17" y="185.44" width="1.61" height="6.04" fill="#9c9c9c"/>
<rect x="144.74" y="185.44" width="0.99" height="6.04" fill="#a2a2a2"/>
<rect x="145.67" y="185.44" width="1.03" height="6.04" fill="#898989"/>
<rect x="146.66" y="185.44" width="0.75" height="6.04" fill="#a4a4a4"/>
<rect x="147.36" y="185.44" width="1.57" height="6.04" fill="#9d9d9d"/>
<rect x="148.89" y="185.44" width="1.60" height="6.04" fill="#7b7b7b"/>
<rect x="150.43" y="185.44" width="0.96" height="6.04" fill="#949494"/>
<rect x="151.34" y="185.44" width="1.61" height="6.04" fill="#afafaf"/>
<rect x="152.91" y="185.44" width="0.65" height="6.04" fill="#888888"/>
<rect x="123.14" y="185.44" width="1.90" height="6.04" fill="#5a5a5a"/>
<rect x="126.94" y="185.44" width="1.14" height="6.04" fill="#636363"/>
<rect x="128.02" y="185.44" width="1.59" height="6.04" fill="#525252"/>
<rect x="129.56" y="185.44" width="1.47" height="6.04" fill="#717171"/>
<rect x="130.98" y="185.44" width="1.49" height="6.04" fill="#737373"/>
<rect x="132.42" y="185.44" width="0.26" height="6.04" fill="#5a5a5a"/>
<rect x="144.02" y="185.44" width="1.90" height="6.04" fill="#505050"/>
<rect x="94.67" y="191.88" width="1.52" height="6.04" fill="#505050"/>
<rect x="98.09" y="191.88" width="1.90" height="6.04" fill="#3c3c3c"/>
<rect x="103.78" y="191.88" width="1.14" height="6.04" fill="#c8c8c8"/>
<rect x="107.01" y="191.88" width="0.95" height="6.04" fill="#c8c8c8"/>
<rect x="179.13" y="191.88" width="1.90" height="6.04" fill="#969696"/>
<rect x="182.92" y="191.88" width="1.04" height="6.04" fill="#a2a2a2"/>
<rect x="183.91" y="191.88" width="1.45" height="6.04" fill="#929292"/>
<rect x="185.32" y="191.88" width="0.93" height="6.04" fill="#b8b8b8"/>
<rect x="186.19" y="191.88" width="0.97" height="6.04" fill="#919191"/>
<rect x="187.12" y="191.88" width="0.60" height="6.04" fill="#acacac"/>
<rect x="189.57" y="191.88" width="1.14" height="6.04" fill="#c8c8c8"/>
<rect x="194.31" y="191.88" width="1.33" height="6.04" fill="#b4b4b4"/>
<rect x="91.26" y="198.32" width="1.52" height="6.04" fill="#c8c8c8"/>
<rect x="112.13" y="198.32" width="1.04" height="6.04" fill="#c9c9c9"/>
<rect x="113.13" y="198.32" width="1.55" height="6.04" fill="#c9c9c9"/>
<rect x="114.62" y="198.32" width="0.99" height="6.04" fill="#b4b4b4"/>
<rect x="115.56" y="198.32" width="0.84" height="6.04" fill="#bdbdbd"/>
<rect x="116.35" y="198.32" width="0.20" height="6.04" fill="#bcbcbc"/>
<rect x="120.29" y="198.32" width="0.96" height="6.04" fill="#b2b2b2"/>
<rect x="121.20" y="198.32" width="1.31" height="6.04" fill="#b8b8b8"/>
<rect x="122.46" y="198.32" width="1.11" height="6.04" fill="#bcbcbc"/>
<rect x="123.52" y="198.32" width="1.52" height="6.04" fill="#3c3c3c"/>
<rect x="125.04" y="198.32" width="1.35" height="6.04" fill="#b4b4b4"/>
<rect x="126.34" y="198.32" width="1.51" height="6.04" fill="#b9b9b9"/>
<rect x="127.79" y="198.32" width="1.09" height="6.04" fill="#bababa"/>
<rect x="131.68" y="198.32" width="1.33" height="6.04" fill="#c8c8c8"/>
<rect x="103.21" y="204.76" width="1.41" height="6.04" fill="#2b2b2b"/>
<rect x="104.58" y="204.76" width="0.97" height="6.04" fill="#2d2d2d"/>
<rect x="105.50" y="204.76" width="0.89" height="6.04" fill="#515151"/>
<rect x="106.34" y="204.76" width="0.15" height="6.04" fill="#323232"/>
<rect x="107.96" y="211.20" width="1.90" height="6.04" fill="#3c3c3c"/>
<rect x="92.77" y="217.64" width="1.52" height="6.04" fill="#a0a0a0"/>
<rect x="96.19" y="217.64" width="1.11" height="6.04" fill="#757575"/>
<rect x="97.25" y="217.64" width="1.21" height="6.04" fill="#4a4a4a"/>
<rect x="98.40" y="217.64" width="1.48" height="6.04" fill="#626262"/>
<rect x="99.83" y="217.64" width="1.64" height="6.04" fill="#434343"/>
<rect x="101.42" y="217.64" width="1.18" height="6.04" fill="#6b6b6b"/>
<rect x="102.55" y="217.64" width="1.51" height="6.04" fill="#717171"/>
<rect x="104.01" y="217.64" width="0.79" height="6.04" fill="#4e4e4e"/>
<rect x="104.74" y="217.64" width="0.42" height="6.04" fill="#484848"/>
<rect x="107.96" y="217.64" width="1.90" height="6.04" fill="#bebebe"/>
<rect x="111.75" y="217.64" width="1.90" height="6.04" fill="#bebebe"/>
<rect x="157.30" y="217.64" width="1.52" height="6.04" fill="#bebebe"/>
<rect x="160.72" y="217.64" width="1.63" height="6.04" fill="#545454"/>
<rect x="162.29" y="217.64" width="1.59" height="6.04" fill="#484848"/>
<rect x="163.83" y="217.64" width="1.53" height="6.04" fill="#4d4d4d"/>
<rect x="165.31" y="217.64" width="0.58" height="6.04" fill="#5f5f5f"/>
<rect x="150.66" y="224.08" width="1.33" height="6.04" fill="#bebebe"/>
<rect x="154.08" y="224.08" width="1.33" height="6.04" fill="#b4b4b4"/>
<rect x="161.10" y="224.08" width="1.60" height="6.04" fill="#252525"/>
<rect x="162.65" y="224.08" width="1.29" height="6.04" fill="#424242"/>
<rect x="163.89" y="224.08" width="0.11" height="6.04" fill="#343434"/>
<rect x="91.26" y="230.52" width="0.88" height="6.04" fill="#535353"/>
<rect x="92.08" y="230.52" width="0.98" height="6.04" fill="#696969"/>
<rect x="93.01" y="230.52" width="1.34" height="6.04" fill="#535353"/>
<rect x="94.30" y="230.52" width="0.76" height="6.04" fill="#5a5a5a"/>
<rect x="95.01" y="230.52" width="1.36" height="6.04" fill="#525252"/>
<rect x="96.32" y="230.52" width="1.03" height="6.04" fill="#535353"/>
<rect x="97.30" y="230.52" width="1.47" height="6.04" fill="#666666"/>
<rect x="98.72" y="230.52" width="0.81" height="6.04" fill="#4d4d4d"/>
<rect x="99.47" y="230.52" width="0.56" height="6.04" fill="#666666"/>
<rect x="92.77" y="230.52" width="1.90" height="6.04" fill="#505050"/>
<rect x="96.57" y="230.52" width="1.33" height="6.04" fill="#393939"/>
<rect x="97.85" y="230.52" width="0.90" height="6.04" fill="#5a5a5a"/>
<rect x="98.69" y="230.52" width="0.77" height="6.04" fill="#434343"/>
<rect x="103.21" y="236.96" width="1.03" height="6.04" fill="#696969"/>
<rect x="104.19" y="236.96" width="1.03" height="6.04" fill="#535353"/>
<rect x="105.17" y="236.96" width="1.07" height="6.04" fill="#4b4b4b"/>
<rect x="106.19" y="236.96" width="1.53" height="6.04" fill="#6b6b6b"/>
<rect x="107.67" y="236.96" width="0.34" height="6.04" fill="#3f3f3f"/>
<rect x="122.19" y="236.96" width="1.33" height="6.04" fill="#aaaaaa"/>
<rect x="130.35" y="236.96" width="1.14" height="6.04" fill="#c8c8c8"/>
<rect x="139.27" y="236.96" width="0.95" height="6.04" fill="#c8c8c8"/>
<rect x="145.92" y="236.96" width="0.95" height="6.04" fill="#c8c8c8"/>
<rect x="110.24" y="243.40" width="1.41" height="6.04" fill="#3f3f3f"/>
<rect x="111.59" y="243.40" width="0.76" height="6.04" fill="#666666"/>
<rect x="112.30" y="243.40" width="1.13" height="6.04" fill="#616161"/>
<rect x="113.38" y="243.40" width="1.12" height="6.04" fill="#656565"/>
<rect x="114.44" y="243.40" width="1.16" height="6.04" fill="#3d3d3d"/>
<rect x="115.56" y="243.40" width="0.76" height="6.04" fill="#525252"/>
<rect x="116.27" y="243.40" width="0.28" height="6.04" fill="#666666"/>
<rect x="112.70" y="243.40" width="0.83" height="6.04" fill="#424242"/>
<rect x="113.48" y="243.40" width="1.08" height="6.04" fill="#3c3c3c"/>
<rect x="114.52" y="243.40" width="0.88" height="6.04" fill="#2f2f2f"/>
<rect x="115.35" y="243.40" width="0.25" height="6.04" fill="#535353"/>
<rect x="86.13" y="249.84" width="1.33" height="6.04" fill="#c8c8c8"/>
<rect x="89.93" y="249.84" width="0.95" height="6.04" fill="#c8c8c8"/>
<rect x="93.34" y="249.84" width="0.85" height="6.04" fill="#636363"/>
<rect x="94.14" y="249.84" width="1.47" height="6.04" fill="#7e7e7e"/>
<rect x="95.57" y="249.84" width="0.67" height="6.04" fill="#4f4f4f"/>
<rect x="98.09" y="249.84" width="1.52" height="6.04" fill="#787878"/>
<rect x="103.40" y="249.84" width="1.14" height="6.04" fill="#c8c8c8"/>
<rect x="110.24" y="249.84" width="1.60" height="6.04" fill="#747474"/>
<rect x="111.78" y="249.84" width="1.18" height="6.04" fill="#404040"/>
<rect x="112.92" y="249.84" width="0.40" height="6.04" fill="#535353"/>
<rect x="118.40" y="249.84" width="1.56" height="6.04" fill="#cacaca"/>
<rect x="119.91" y="249.84" width="1.49" height="6.04" fill="#bfbfbf"/>
<rect x="121.35" y="249.84" width="0.32" height="6.04" fill="#c1c1c1"/>
<rect x="133.58" y="256.28" width="1.52" height="6.04" fill="#3c3c3c"/>
<rect x="140.22" y="256.28" width="1.11" height="6.04" fill="#9f9f9f"/>
<rect x="141.29" y="256.28" width="1.50" height="6.04" fill="#7a7a7a"/>
<rect x="142.73" y="256.28" width="0.95" height="6.04" fill="#868686"/>
<rect x="151.99" y="256.28" width="1.52" height="6.04" fill="#787878"/>
<rect x="100.37" y="262.72" width="1.22" height="6.04" fill="#494949"/>
<rect x="101.53" y="262.72" width="0.86" height="6.04" fill="#414141"/>
<rect x="102.34" y="262.72" width="0.92" height="6.04" fill="#666666"/>
<rect x="98.47" y="269.16" width="0.79" height="6.04" fill="#717171"/>
<rect x="99.21" y="269.16" width="1.43" height="6.04" fill="#545454"/>
<rect x="100.59" y="269.16" width="1.50" height="6.04" fill="#585858"/>
<rect x="102.04" y="269.16" width="1.29" height="6.04" fill="#707070"/>
<rect x="103.28" y="269.16" width="1.31" height="6.04" fill="#636363"/>
<rect x="104.55" y="269.16" width="0.24" height="6.04" fill="#727272"/>
<rect x="100.37" y="269.16" width="1.90" height="6.04" fill="#505050"/>
<rect x="108.34" y="269.16" width="1.14" height="6.04" fill="#d2d2d2"/>
<rect x="142.12" y="269.16" width="1.14" height="6.04" fill="#c8c8c8"/>
<rect x="103.21" y="275.60" width="1.33" height="6.04" fill="#c8c8c8"/>
<rect x="107.01" y="275.60" width="1.90" height="6.04" fill="#505050"/>
<rect x="109.86" y="275.60" width="1.90" height="6.04" fill="#aaaaaa"/>
<rect x="107.01" y="282.04" width="1.13" height="6.04" fill="#585858"/>
<rect x="108.09" y="282.04" width="1.15" height="6.04" fill="#4c4c4c"/>
<rect x="109.19" y="282.04" width="0.33" height="6.04" fill="#565656"/>
<rect x="113.27" y="282.04" width="1.19" height="6.04" fill="#737373"/>
<rect x="114.41" y="282.04" width="1.44" height="6.04" fill="#919191"/>
<rect x="115.80" y="282.04" width="1.16" height="6.04" fill="#707070"/>
<rect x="116.91" y="282.04" width="1.18" height="6.04" fill="#6b6b6b"/>
<rect x="118.04" y="282.04" width="0.79" height="6.04" fill="#7e7e7e"/>
<rect x="89.93" y="288.48" width="1.33" height="6.04" fill="#c8c8c8"/>
<rect x="96.19" y="288.48" width="1.52" height="6.04" fill="#bebebe"/>
<rect x="99.61" y="288.48" width="1.90" height="6.04" fill="#505050"/>
<rect x="106.63" y="288.48" width="1.33" height="6.04" fill="#c8c8c8"/>
<rect x="98.09" y="301.36" width="0.83" height="6.04" fill="#9c9c9c"/>
<rect x="98.87" y="301.36" width="1.21" height="6.04" fill="#868686"/>
<rect x="100.03" y="301.36" width="1.32" height="6.04" fill="#888888"/>
<rect x="101.30" y="301.36" width="0.06" height="6.04" fill="#afafaf"/>
<rect x="103.21" y="301.36" width="1.21" height="6.04" fill="#2d2d2d"/>
<rect x="104.37" y="301.36" width="1.20" height="6.04" fill="#3f3f3f"/>
<rect x="105.53" y="301.36" width="1.53" height="6.04" fill="#313131"/>
<rect x="125.04" y="307.80" width="1.14" height="6.04" fill="#c8c8c8"/>
<rect x="128.08" y="307.80" width="1.52" height="6.04" fill="#6b6b6b"/>
<rect x="129.55" y="307.80" width="1.41" height="6.04" fill="#616161"/>
<rect x="130.91" y="307.80" width="0.92" height="6.04" fill="#6a6a6a"/>
<rect x="131.78" y="307.80" width="0.14" height="6.04" fill="#696969"/>
<rect x="123.14" y="314.24" width="1.57" height="6.04" fill="#3d3d3d"/>
<rect x="124.67" y="314.24" width="1.46" height="6.04" fill="#686868"/>
<rect x="126.07" y="314.24" width="0.81" height="6.04" fill="#474747"/>
<rect x="126.83" y="314.24" width="0.15" height="6.04" fill="#3c3c3c"/>
<rect x="95.62" y="320.68" width="0.95" height="6.04" fill="#c8c8c8"/>
<rect x="98.09" y="320.68" width="1.90" height="6.04" fill="#505050"/>
<rect x="102.26" y="320.68" width="1.52" height="6.04" fill="#505050"/>
<rect x="107.96" y="320.68" width="1.90" height="6.04" fill="#505050"/>
<rect x="114.03" y="320.68" width="0.76" height="6.04" fill="#c8c8c8"/>
<rect x="125.04" y="320.68" width="1.56" height="6.04" fill="#c2c2c2"/>
<rect x="126.55" y="320.68" width="1.48" height="6.04" fill="#bfbfbf"/>
<rect x="127.98" y="320.68" width="0.53" height="6.04" fill="#d2d2d2"/>
<rect x="95.05" y="327.12" width="0.94" height="6.04" fill="#b8b8b8"/>
<rect x="95.94" y="327.12" width="1.21" height="6.04" fill="#b9b9b9"/>
<rect x="97.10" y="327.12" width="0.47" height="6.04" fill="#b6b6b6"/>
<rect x="100.37" y="327.12" width="1.90" height="6.04" fill="#aaaaaa"/>
<rect x="105.11" y="327.12" width="0.90" height="6.04" fill="#686868"/>
<rect x="105.96" y="327.12" width="1.36" height="6.04" fill="#666666"/>
<rect x="107.27" y="327.12" width="0.74" height="6.04" fill="#5f5f5f"/>
<rect x="113.65" y="327.12" width="1.14" height="6.04" fill="#c8c8c8"/>
<rect x="125.42" y="327.12" width="0.85" height="6.04" fill="#474747"/>
<rect x="126.22" y="327.12" width="1.32" height="6.04" fill="#3e3e3e"/>
<rect x="127.49" y="327.12" width="1.01" height="6.04" fill="#494949"/>
<rect x="100.37" y="333.56" width="1.90" height="6.04" fill="#505050"/>
<rect x="114.79" y="333.56" width="1.14" height="6.04" fill="#c8c8c8"/>
<rect x="122.19" y="333.56" width="1.27" height="6.04" fill="#c7c7c7"/>
<rect x="123.41" y="333.56" width="0.84" height="6.04" fill="#c9c9c9"/>
<rect x="124.21" y="333.56" width="0.88" height="6.04" fill="#bbbbbb"/>
<rect x="126.94" y="333.56" width="1.14" height="6.04" fill="#c8c8c8"/>
<rect x="142.12" y="333.56" width="1.14" height="6.04" fill="#c8c8c8"/>
<rect x="90.50" y="340.00" width="1.14" height="6.04" fill="#c8c8c8"/>
<rect x="96.19" y="340.00" width="1.47" height="6.04" fill="#565656"/>
<rect x="97.61" y="340.00" width="0.91" height="6.04" fill="#686868"/>
<rect x="98.47" y="340.00" width="1.07" height="6.04" fill="#a4a4a4"/>
<rect x="99.49" y="340.00" width="1.15" height="6.04" fill="#838383"/>
<rect x="100.59" y="340.00" width="1.42" height="6.04" fill="#7c7c7c"/>
<rect x="101.96" y="340.00" width="1.49" height="6.04" fill="#888888"/>
<rect x="103.40" y="340.00" width="1.33" height="6.04" fill="#b1b1b1"/>
<rect x="104.67" y="340.00" width="0.49" height="6.04" fill="#9f9f9f"/>
<rect x="105.11" y="340.00" width="1.90" height="6.04" fill="#505050"/>
<rect x="112.13" y="340.00" width="1.03" height="6.04" fill="#b2b2b2"/>
<rect x="113.11" y="340.00" width="0.78" height="6.04" fill="#b5b5b5"/>
<rect x="113.85" y="340.00" width="1.00" height="6.04" fill="#bcbcbc"/>
<rect x="83.29" y="346.44" width="1.21" height="6.04" fill="#bdbdbd"/>
<rect x="84.45" y="346.44" width="0.87" height="6.04" fill="#adadad"/>
<rect x="85.27" y="346.44" width="1.34" height="6.04" fill="#a8a8a8"/>
<rect x="86.55" y="346.44" width="0.75" height="6.04" fill="#b0b0b0"/>
<rect x="87.26" y="346.44" width="0.85" height="6.04" fill="#b0b0b0"/>
<rect x="88.05" y="346.44" width="0.95" height="6.04" fill="#b6b6b6"/>
<rect x="88.95" y="346.44" width="1.02" height="6.04" fill="#acacac"/>
<rect x="90.88" y="346.44" width="1.31" height="6.04" fill="#585858"/>
<rect x="92.14" y="346.44" width="0.87" height="6.04" fill="#727272"/>
<rect x="92.96" y="346.44" width="0.97" height="6.04" fill="#464646"/>
<rect x="93.88" y="346.44" width="0.84" height="6.04" fill="#616161"/>
<rect x="94.67" y="346.44" width="1.53" height="6.04" fill="#696969"/>
<rect x="96.15" y="346.44" width="1.11" height="6.04" fill="#4c4c4c"/>
<rect x="97.21" y="346.44" width="0.36" height="6.04" fill="#626262"/>
<rect x="97.52" y="346.44" width="1.26" height="6.04" fill="#979797"/>
<rect x="98.73" y="346.44" width="1.33" height="6.04" fill="#9c9c9c"/>
<rect x="100.01" y="346.44" width="1.59" height="6.04" fill="#adadad"/>
<rect x="101.55" y="346.44" width="0.97" height="6.04" fill="#b6b6b6"/>
<rect x="102.47" y="346.44" width="0.79" height="6.04" fill="#a1a1a1"/>
<rect x="103.21" y="346.44" width="1.12" height="6.04" fill="#919191"/>
<rect x="104.28" y="346.44" width="0.80" height="6.04" fill="#afafaf"/>
<rect x="105.03" y="346.44" width="0.13" height="6.04" fill="#a2a2a2"/>
<rect x="111.37" y="346.44" width="1.33" height="6.04" fill="#d2d2d2"/>
<rect x="114.60" y="346.44" width="1.60" height="6.04" fill="#3b3b3b"/>
<rect x="116.15" y="346.44" width="0.93" height="6.04" fill="#565656"/>
<rect x="117.03" y="346.44" width="1.21" height="6.04" fill="#575757"/>
<rect x="118.18" y="346.44" width="0.26" height="6.04" fill="#3d3d3d"/>
<rect x="132.25" y="346.44" width="1.14" height="6.04" fill="#bebebe"/>
<rect x="145.54" y="346.44" width="1.52" height="6.04" fill="#505050"/>
<rect x="170.59" y="346.44" width="1.03" height="6.04" fill="#9e9e9e"/>
<rect x="171.57" y="346.44" width="0.79" height="6.04" fill="#bfbfbf"/>
<rect x="172.31" y="346.44" width="1.45" height="6.04" fill="#b6b6b6"/>
<rect x="173.72" y="346.44" width="0.76" height="6.04" fill="#bdbdbd"/>
<rect x="174.42" y="346.44" width="1.42" height="6.04" fill="#a8a8a8"/>
<rect x="175.79" y="346.44" width="1.42" height="6.04" fill="#a7a7a7"/>
<rect x="177.16" y="346.44" width="0.95" height="6.04" fill="#939393"/>
<rect x="178.06" y="346.44" width="0.96" height="6.04" fill="#909090"/>
<rect x="178.97" y="346.44" width="1.05" height="6.04" fill="#b7b7b7"/>
<rect x="179.97" y="346.44" width="1.38" height="6.04" fill="#bdbdbd"/>
<rect x="181.30" y="346.44" width="1.39" height="6.04" fill="#9c9c9c"/>
<rect x="182.64" y="346.44" width="1.25" height="6.04" fill="#a6a6a6"/>
<rect x="183.84" y="346.44" width="0.09" height="6.04" fill="#ababab"/>
<rect x="194.31" y="346.44" width="1.33" height="6.04" fill="#bebebe"/>
<rect x="99.99" y="352.88" width="1.52" height="6.04" fill="#505050"/>
<rect x="105.11" y="352.88" width="1.33" height="6.04" fill="#c8c8c8"/>
<rect x="113.65" y="352.88" width="1.14" height="6.04" fill="#bebebe"/>
<rect x="117.07" y="352.88" width="1.52" height="6.04" fill="#505050"/>
<rect x="98.09" y="359.32" width="0.99" height="6.04" fill="#a7a7a7"/>
<rect x="99.03" y="359.32" width="1.39" height="6.04" fill="#909090"/>
<rect x="100.37" y="359.32" width="1.54" height="6.04" fill="#525252"/>
<rect x="101.86" y="359.32" width="0.98" height="6.04" fill="#5f5f5f"/>
<rect x="102.79" y="359.32" width="1.42" height="6.04" fill="#868686"/>
<rect x="104.16" y="359.32" width="1.00" height="6.04" fill="#646464"/>
<rect x="107.01" y="359.32" width="1.33" height="6.04" fill="#c8c8c8"/>
<rect x="142.12" y="359.32" width="1.14" height="6.04" fill="#bebebe"/>
<rect x="187.67" y="359.32" width="1.52" height="6.04" fill="#464646"/>
<rect x="93.15" y="365.76" width="1.54" height="6.04" fill="#3c3c3c"/>
<rect x="94.65" y="365.76" width="0.97" height="6.04" fill="#5c5c5c"/>
<rect x="95.56" y="365.76" width="0.68" height="6.04" fill="#505050"/>
<rect x="98.09" y="365.76" width="1.33" height="6.04" fill="#505050"/>
<rect x="105.11" y="372.20" width="0.95" height="6.04" fill="#c8c8c8"/>
<rect x="123.52" y="372.20" width="1.52" height="6.04" fill="#464646"/>
<rect x="105.11" y="378.64" width="1.35" height="6.04" fill="#747474"/>
<rect x="106.41" y="378.64" width="1.17" height="6.04" fill="#6d6d6d"/>
<rect x="107.53" y="378.64" width="1.38" height="6.04" fill="#6e6e6e"/>
<rect x="108.86" y="378.64" width="1.05" height="6.04" fill="#666666"/>
<rect x="112.13" y="378.64" width="1.26" height="6.04" fill="#b9b9b9"/>
<rect x="113.35" y="378.64" width="0.94" height="6.04" fill="#c0c0c0"/>
<rect x="114.24" y="378.64" width="0.60" height="6.04" fill="#c7c7c7"/>
<rect x="172.49" y="378.64" width="1.14" height="6.04" fill="#c8c8c8"/>
<rect x="103.21" y="391.52" width="1.33" height="6.04" fill="#c8c8c8"/>
<rect x="107.01" y="391.52" width="1.33" height="6.04" fill="#505050"/>
<rect x="107.96" y="397.96" width="1.90" height="6.04" fill="#464646"/>
<rect x="115.17" y="397.96" width="0.88" height="6.04" fill="#b2b2b2"/>
<rect x="116.00" y="397.96" width="0.85" height="6.04" fill="#c8c8c8"/>
<rect x="116.80" y="397.96" width="1.06" height="6.04" fill="#b5b5b5"/>
<rect x="117.81" y="397.96" width="0.64" height="6.04" fill="#b2b2b2"/>
<rect x="90.50" y="404.40" width="1.37" height="6.04" fill="#757575"/>
<rect x="91.82" y="404.40" width="1.38" height="6.04" fill="#7b7b7b"/>
<rect x="93.15" y="404.40" width="0.81" height="6.04" fill="#737373"/>
<rect x="93.91" y="404.40" width="1.08" height="6.04" fill="#7f7f7f"/>
<rect x="94.93" y="404.40" width="1.49" height="6.04" fill="#838383"/>
<rect x="96.37" y="404.40" width="0.81" height="6.04" fill="#828282"/>
<rect x="97.13" y="404.40" width="1.57" height="6.04" fill="#868686"/>
<rect x="98.65" y="404.40" width="0.85" height="6.04" fill="#5d5d5d"/>
<rect x="99.45" y="404.40" width="0.85" height="6.04" fill="#535353"/>
<rect x="100.25" y="404.40" width="1.11" height="6.04" fill="#7f7f7f"/>
<rect x="90.88" y="404.40" width="1.32" height="6.04" fill="#585858"/>
<rect x="92.15" y="404.40" width="1.32" height="6.04" fill="#3a3a3a"/>
<rect x="93.42" y="404.40" width="0.84" height="6.04" fill="#2f2f2f"/>
<rect x="94.21" y="404.40" width="1.43" height="6.04" fill="#353535"/>
<rect x="95.59" y="404.40" width="1.03" height="6.04" fill="#414141"/>
<rect x="99.99" y="410.84" width="0.77" height="6.04" fill="#565656"/>
<rect x="100.71" y="410.84" width="1.00" height="6.04" fill="#707070"/>
<rect x="101.66" y="410.84" width="1.08" height="6.04" fill="#595959"/>
<rect x="102.69" y="410.84" width="1.62" height="6.04" fill="#646464"/>
<rect x="104.26" y="410.84" width="1.52" height="6.04" fill="#6a6a6a"/>
<rect x="105.72" y="410.84" width="0.78" height="6.04" fill="#5f5f5f"/>
<rect x="106.45" y="410.84" width="1.14" height="6.04" fill="#737373"/>
<rect x="107.55" y="410.84" width="1.06" height="6.04" fill="#6f6f6f"/>
<rect x="108.56" y="410.84" width="1.23" height="6.04" fill="#545454"/>
<rect x="109.74" y="410.84" width="0.16" height="6.04" fill="#4d4d4d"/>
<rect x="117.07" y="410.84" width="1.49" height="6.04" fill="#b6b6b6"/>
<rect x="118.51" y="410.84" width="0.75" height="6.04" fill="#b6b6b6"/>
<rect x="119.21" y="410.84" width="1.44" height="6.04" fill="#c9c9c9"/>
<rect x="120.59" y="410.84" width="0.75" height="6.04" fill="#bdbdbd"/>
<rect x="121.30" y="410.84" width="0.38" height="6.04" fill="#c5c5c5"/>
<rect x="123.71" y="410.84" width="0.95" height="6.04" fill="#c8c8c8"/>
<rect x="126.94" y="410.84" width="1.14" height="6.04" fill="#bebebe"/>
<rect x="131.87" y="410.84" width="1.14" height="6.04" fill="#c8c8c8"/>
<rect x="151.99" y="417.28" width="1.52" height="6.04" fill="#464646"/>
<rect x="130.35" y="423.72" width="0.92" height="6.04" fill="#454545"/>
<rect x="131.22" y="423.72" width="1.06" height="6.04" fill="#585858"/>
<rect x="132.23" y="423.72" width="0.98" height="6.04" fill="#5e5e5e"/>
<rect x="133.17" y="423.72" width="0.08" height="6.04" fill="#363636"/>
<rect x="103.21" y="430.16" width="1.38" height="6.04" fill="#595959"/>
<rect x="104.54" y="430.16" width="0.85" height="6.04" fill="#616161"/>
<rect x="105.34" y="430.16" width="0.82" height="6.04" fill="#6a6a6a"/>
<rect x="106.11" y="430.16" width="1.38" height="6.04" fill="#6a6a6a"/>
<rect x="107.44" y="430.16" width="0.57" height="6.04" fill="#515151"/>
<rect x="115.17" y="430.16" width="1.11" height="6.04" fill="#bbbbbb"/>
<rect x="116.23" y="430.16" width="1.55" height="6.04" fill="#b4b4b4"/>
<rect x="117.73" y="430.16" width="0.71" height="6.04" fill="#b2b2b2"/>
<rect x="99.99" y="436.60" width="1.33" height="6.04" fill="#505050"/>
<rect x="115.17" y="436.60" width="0.94" height="6.04" fill="#aeaeae"/>
<rect x="116.06" y="436.60" width="1.56" height="6.04" fill="#b4b4b4"/>
<rect x="117.57" y="436.60" width="0.31" height="6.04" fill="#bdbdbd"/>
<rect x="122.19" y="436.60" width="0.96" height="6.04" fill="#898989"/>
<rect x="123.10" y="436.60" width="1.23" height="6.04" fill="#9a9a9a"/>
<rect x="124.28" y="436.60" width="0.81" height="6.04" fill="#949494"/>
<rect x="144.02" y="443.04" width="1.52" height="6.04" fill="#787878"/>
<rect x="146.86" y="443.04" width="1.52" height="6.04" fill="#787878"/>
<rect x="105.11" y="449.48" width="1.33" height="6.04" fill="#505050"/>
<rect x="107.96" y="449.48" width="1.52" height="6.04" fill="#787878"/>
<rect x="101.88" y="455.92" width="1.06" height="6.04" fill="#b9b9b9"/>
<rect x="102.90" y="455.92" width="0.89" height="6.04" fill="#c6c6c6"/>
<rect x="103.74" y="455.92" width="1.35" height="6.04" fill="#c3c3c3"/>
<rect x="105.03" y="455.92" width="0.90" height="6.04" fill="#bcbcbc"/>
<rect x="105.89" y="455.92" width="1.17" height="6.04" fill="#bfbfbf"/>
<rect x="107.01" y="455.92" width="0.95" height="6.04" fill="#505050"/>
<rect x="108.91" y="455.92" width="1.90" height="6.04" fill="#aaaaaa"/>
<rect x="110.80" y="455.92" width="0.86" height="6.04" fill="#6b6b6b"/>
<rect x="111.62" y="455.92" width="1.55" height="6.04" fill="#5f5f5f"/>
<rect x="113.11" y="455.92" width="0.21" height="6.04" fill="#626262"/>
<rect x="102.64" y="462.36" width="1.14" height="6.04" fill="#c8c8c8"/>
<rect x="105.11" y="462.36" width="1.33" height="6.04" fill="#505050"/>
<rect x="109.86" y="462.36" width="1.52" height="6.04" fill="#505050"/>
<rect x="101.88" y="468.80" width="1.33" height="6.04" fill="#505050"/>
<rect x="91.26" y="475.24" width="1.38" height="6.04" fill="#b7b7b7"/>
<rect x="92.59" y="475.24" width="0.89" height="6.04" fill="#a6a6a6"/>
<rect x="93.43" y="475.24" width="0.97" height="6.04" fill="#aaaaaa"/>
<rect x="94.35" y="475.24" width="1.22" height="6.04" fill="#a6a6a6"/>
<rect x="95.52" y="475.24" width="1.05" height="6.04" fill="#a7a7a7"/>
<rect x="96.52" y="475.24" width="1.63" height="6.04" fill="#b4b4b4"/>
<rect x="98.09" y="475.24" width="0.84" height="6.04" fill="#bababa"/>
<rect x="98.89" y="475.24" width="0.84" height="6.04" fill="#acacac"/>
<rect x="99.68" y="475.24" width="1.64" height="6.04" fill="#b6b6b6"/>
<rect x="101.26" y="475.24" width="1.41" height="6.04" fill="#adadad"/>
<rect x="102.62" y="475.24" width="0.93" height="6.04" fill="#b2b2b2"/>
<rect x="103.50" y="475.24" width="0.85" height="6.04" fill="#a7a7a7"/>
<rect x="104.30" y="475.24" width="1.10" height="6.04" fill="#a3a3a3"/>
<rect x="105.34" y="475.24" width="1.11" height="6.04" fill="#b5b5b5"/>
<rect x="106.40" y="475.24" width="1.37" height="6.04" fill="#afafaf"/>
<rect x="107.73" y="475.24" width="1.32" height="6.04" fill="#aeaeae"/>
<rect x="109.00" y="475.24" width="0.88" height="6.04" fill="#b1b1b1"/>
<rect x="109.82" y="475.24" width="1.11" height="6.04" fill="#b4b4b4"/>
<rect x="110.89" y="475.24" width="1.57" height="6.04" fill="#adadad"/>
<rect x="112.41" y="475.24" width="0.92" height="6.04" fill="#b4b4b4"/>
<rect x="93.15" y="475.24" width="1.13" height="6.04" fill="#686868"/>
<rect x="94.23" y="475.24" width="1.40" height="6.04" fill="#8d8d8d"/>
<rect x="95.58" y="475.24" width="0.09" height="6.04" fill="#838383"/>
<rect x="105.11" y="481.68" width="0.95" height="6.04" fill="#c8c8c8"/>
<rect x="118.40" y="481.68" width="1.33" height="6.04" fill="#505050"/>
<rect x="165.84" y="488.12" width="0.95" height="6.04" fill="#c8c8c8"/>
<rect x="167.74" y="488.12" width="1.52" height="6.04" fill="#787878"/>
<rect x="169.21" y="488.12" width="1.33" height="6.04" fill="#6b6b6b"/>
<rect x="170.49" y="488.12" width="1.03" height="6.04" fill="#757575"/>
<rect x="171.47" y="488.12" width="0.84" height="6.04" fill="#696969"/>
<rect x="172.26" y="488.12" width="1.45" height="6.04" fill="#797979"/>
<rect x="173.66" y="488.12" width="1.32" height="6.04" fill="#606060"/>
<rect x="174.93" y="488.12" width="1.13" height="6.04" fill="#6b6b6b"/>
<rect x="176.01" y="488.12" width="1.31" height="6.04" fill="#686868"/>
<rect x="177.27" y="488.12" width="1.36" height="6.04" fill="#868686"/>
<rect x="178.58" y="488.12" width="0.91" height="6.04" fill="#767676"/>
<rect x="179.44" y="488.12" width="1.45" height="6.04" fill="#676767"/>
<rect x="180.84" y="488.12" width="1.19" height="6.04" fill="#888888"/>
<rect x="181.98" y="488.12" width="0.78" height="6.04" fill="#707070"/>
<rect x="182.72" y="488.12" width="0.26" height="6.04" fill="#7d7d7d"/>
<rect x="185.77" y="488.12" width="0.95" height="6.04" fill="#bebebe"/>
<rect x="182.92" y="494.56" width="1.90" height="6.04" fill="#5a5a5a"/>
<rect x="186.34" y="494.56" width="1.33" height="6.04" fill="#646464"/>
<rect x="194.31" y="494.56" width="1.33" height="6.04" fill="#505050"/>
<rect x="89.93" y="501.00" width="1.33" height="6.04" fill="#505050"/>
<rect x="96.57" y="501.00" width="1.60" height="6.04" fill="#656565"/>
<rect x="98.12" y="501.00" width="0.84" height="6.04" fill="#686868"/>
<rect x="98.91" y="501.00" width="1.24" height="6.04" fill="#707070"/>
<rect x="100.09" y="501.00" width="1.21" height="6.04" fill="#6b6b6b"/>
<rect x="101.26" y="501.00" width="0.11" height="6.04" fill="#656565"/>
<rect x="107.96" y="507.44" width="1.12" height="6.04" fill="#737373"/>
<rect x="109.03" y="507.44" width="0.94" height="6.04" fill="#646464"/>
<rect x="109.92" y="507.44" width="1.10" height="6.04" fill="#686868"/>
<rect x="110.97" y="507.44" width="0.86" height="6.04" fill="#757575"/>
<rect x="111.78" y="507.44" width="1.07" height="6.04" fill="#414141"/>
<rect x="112.80" y="507.44" width="1.00" height="6.04" fill="#545454"/>
<rect x="113.75" y="507.44" width="0.76" height="6.04" fill="#555555"/>
<rect x="114.46" y="507.44" width="0.76" height="6.04" fill="#656565"/>
<rect x="95.05" y="513.88" width="1.52" height="6.04" fill="#505050"/>
<rect x="99.99" y="513.88" width="1.33" height="6.04" fill="#505050"/>
<rect x="88.03" y="520.32" width="1.33" height="6.04" fill="#5a5a5a"/>
<rect x="93.15" y="520.32" width="1.52" height="6.04" fill="#5a5a5a"/>
<rect x="98.09" y="520.32" width="1.07" height="6.04" fill="#d1d1d1"/>
<rect x="99.11" y="520.32" width="0.95" height="6.04" fill="#dcdcdc"/>
<rect x="100.01" y="520.32" width="1.60" height="6.04" fill="#d7d7d7"/>
<rect x="101.55" y="520.32" width="0.76" height="6.04" fill="#dedede"/>
<rect x="94.29" y="526.76" width="1.33" height="6.04" fill="#c8c8c8"/>
<rect x="98.09" y="526.76" width="1.10" height="6.04" fill="#676767"/>
<rect x="99.14" y="526.76" width="0.87" height="6.04" fill="#878787"/>
<rect x="99.96" y="526.76" width="1.48" height="6.04" fill="#7f7f7f"/>
<rect x="101.39" y="526.76" width="1.17" height="6.04" fill="#7b7b7b"/>
<rect x="102.51" y="526.76" width="0.95" height="6.04" fill="#919191"/>
<rect x="103.41" y="526.76" width="1.07" height="6.04" fill="#7f7f7f"/>
<rect x="104.43" y="526.76" width="1.49" height="6.04" fill="#898989"/>
<rect x="105.87" y="526.76" width="1.17" height="6.04" fill="#6c6c6c"/>
<rect x="106.99" y="526.76" width="1.02" height="6.04" fill="#636363"/>
<rect x="107.96" y="526.76" width="1.50" height="6.04" fill="#979797"/>
<rect x="109.41" y="526.76" width="1.52" height="6.04" fill="#929292"/>
<rect x="110.87" y="526.76" width="1.09" height="6.04" fill="#929292"/>
<rect x="111.91" y="526.76" width="1.13" height="6.04" fill="#8e8e8e"/>
<rect x="113.00" y="526.76" width="0.75" height="6.04" fill="#acacac"/>
<rect x="113.70" y="526.76" width="1.00" height="6.04" fill="#919191"/>
<rect x="114.65" y="526.76" width="0.95" height="6.04" fill="#9e9e9e"/>
<rect x="115.55" y="526.76" width="1.14" height="6.04" fill="#616161"/>
<rect x="116.64" y="526.76" width="1.34" height="6.04" fill="#525252"/>
<rect x="117.93" y="526.76" width="1.59" height="6.04" fill="#6d6d6d"/>
<rect x="119.46" y="526.76" width="0.31" height="6.04" fill="#6c6c6c"/>
<rect x="122.19" y="526.76" width="1.57" height="6.04" fill="#c4c4c4"/>
<rect x="123.71" y="526.76" width="0.88" height="6.04" fill="#c5c5c5"/>
<rect x="124.53" y="526.76" width="0.56" height="6.04" fill="#b2b2b2"/>
<rect x="89.93" y="533.20" width="1.33" height="6.04" fill="#5a5a5a"/>
<rect x="93.15" y="533.20" width="1.14" height="6.04" fill="#c8c8c8"/>
<rect x="98.09" y="533.20" width="0.76" height="6.04" fill="#919191"/>
<rect x="98.80" y="533.20" width="1.34" height="6.04" fill="#6a6a6a"/>
<rect x="100.09" y="533.20" width="0.84" height="6.04" fill="#636363"/>
<rect x="100.88" y="533.20" width="0.96" height="6.04" fill="#878787"/>
<rect x="101.79" y="533.20" width="0.14" height="6.04" fill="#646464"/>
<rect x="103.21" y="533.20" width="1.33" height="6.04" fill="#505050"/>
<rect x="111.37" y="539.64" width="1.56" height="6.04" fill="#565656"/>
<rect x="112.89" y="539.64" width="0.90" height="6.04" fill="#5b5b5b"/>
<rect x="113.74" y="539.64" width="1.30" height="6.04" fill="#555555"/>
<rect x="114.99" y="539.64" width="1.35" height="6.04" fill="#5c5c5c"/>
<rect x="116.29" y="539.64" width="1.21" height="6.04" fill="#585858"/>
<rect x="118.40" y="539.64" width="1.33" height="6.04" fill="#a0a0a0"/>
<rect x="93.15" y="546.08" width="1.14" height="6.04" fill="#c8c8c8"/>
<rect x="97.52" y="546.08" width="0.93" height="6.04" fill="#787878"/>
<rect x="98.40" y="546.08" width="1.23" height="6.04" fill="#7b7b7b"/>
<rect x="99.57" y="546.08" width="1.14" height="6.04" fill="#838383"/>
<rect x="100.67" y="546.08" width="0.70" height="6.04" fill="#606060"/>
<rect x="107.01" y="546.08" width="0.95" height="6.04" fill="#c8c8c8"/>
<rect x="110.24" y="546.08" width="0.96" height="6.04" fill="#ababab"/>
<rect x="111.15" y="546.08" width="1.19" height="6.04" fill="#a9a9a9"/>
<rect x="112.29" y="546.08" width="1.17" height="6.04" fill="#ababab"/>
<rect x="113.41" y="546.08" width="1.19" height="6.04" fill="#b3b3b3"/>
<rect x="114.55" y="546.08" width="1.24" height="6.04" fill="#bcbcbc"/>
<rect x="115.74" y="546.08" width="0.76" height="6.04" fill="#bcbcbc"/>
<rect x="116.44" y="546.08" width="1.17" height="6.04" fill="#b5b5b5"/>
<rect x="117.57" y="546.08" width="0.88" height="6.04" fill="#bcbcbc"/>
<rect x="107.01" y="552.52" width="0.95" height="6.04" fill="#c8c8c8"/>
<rect x="112.70" y="552.52" width="1.09" height="6.04" fill="#4b4b4b"/>
<rect x="113.74" y="552.52" width="1.61" height="6.04" fill="#383838"/>
<rect x="115.30" y="552.52" width="1.32" height="6.04" fill="#575757"/>
<rect x="116.58" y="552.52" width="0.78" height="6.04" fill="#565656"/>
<rect x="117.30" y="552.52" width="1.14" height="6.04" fill="#686868"/>
<rect x="98.09" y="558.96" width="1.05" height="6.04" fill="#888888"/>
<rect x="99.09" y="558.96" width="1.21" height="6.04" fill="#6d6d6d"/>
<rect x="100.25" y="558.96" width="1.56" height="6.04" fill="#535353"/>
<rect x="101.75" y="558.96" width="1.40" height="6.04" fill="#757575"/>
<rect x="103.10" y="558.96" width="0.16" height="6.04" fill="#828282"/>
<rect x="107.01" y="558.96" width="0.95" height="6.04" fill="#505050"/>
<rect x="93.15" y="565.40" width="1.14" height="6.04" fill="#c8c8c8"/>
<rect x="98.47" y="565.40" width="1.90" height="6.04" fill="#c8c8c8"/>
<rect x="101.88" y="565.40" width="1.33" height="6.04" fill="#505050"/>
<rect x="89.93" y="571.84" width="0.95" height="6.04" fill="#d2d2d2"/>
<rect x="96.57" y="571.84" width="1.08" height="6.04" fill="#bdbdbd"/>
<rect x="97.60" y="571.84" width="1.22" height="6.04" fill="#c4c4c4"/>
<rect x="98.77" y="571.84" width="0.94" height="6.04" fill="#bcbcbc"/>
<rect x="99.66" y="571.84" width="1.13" height="6.04" fill="#bfbfbf"/>
<rect x="100.74" y="571.84" width="1.19" height="6.04" fill="#b9b9b9"/>
<rect x="103.21" y="571.84" width="1.33" height="6.04" fill="#c8c8c8"/>
<rect x="107.58" y="571.84" width="1.49" height="6.04" fill="#545454"/>
<rect x="109.02" y="571.84" width="1.20" height="6.04" fill="#4d4d4d"/>
<rect x="110.18" y="571.84" width="1.21" height="6.04" fill="#747474"/>
<rect x="111.33" y="571.84" width="0.09" height="6.04" fill="#6a6a6a"/>
<rect x="122.19" y="578.28" width="1.05" height="6.04" fill="#454545"/>
<rect x="123.19" y="578.28" width="1.02" height="6.04" fill="#545454"/>
<rect x="124.16" y="578.28" width="0.93" height="6.04" fill="#5f5f5f"/>
<rect x="130.35" y="578.28" width="1.33" height="6.04" fill="#505050"/>
<rect x="107.96" y="584.72" width="1.52" height="6.04" fill="#505050"/>
<rect x="130.35" y="584.72" width="0.79" height="6.04" fill="#b6b6b6"/>
<rect x="131.09" y="584.72" width="1.55" height="6.04" fill="#acacac"/>
<rect x="132.59" y="584.72" width="0.79" height="6.04" fill="#9e9e9e"/>
<rect x="133.33" y="584.72" width="0.76" height="6.04" fill="#989898"/>
<rect x="134.04" y="584.72" width="1.49" height="6.04" fill="#b0b0b0"/>
<rect x="103.21" y="591.16" width="1.34" height="6.04" fill="#606060"/>
<rect x="104.51" y="591.16" width="1.57" height="6.04" fill="#565656"/>
<rect x="106.02" y="591.16" width="0.47" height="6.04" fill="#575757"/>
<rect x="101.32" y="597.60" width="1.38" height="6.04" fill="#5f5f5f"/>
<rect x="102.64" y="597.60" width="1.36" height="6.04" fill="#494949"/>
<rect x="103.95" y="597.60" width="0.64" height="6.04" fill="#575757"/>
<rect x="176.28" y="604.04" width="1.14" height="6.04" fill="#bebebe"/>
<rect x="191.09" y="604.04" width="1.52" height="6.04" fill="#505050"/>
<rect x="106.44" y="610.48" width="1.52" height="6.04" fill="#505050"/>
<rect x="107.96" y="616.92" width="1.52" height="6.04" fill="#505050"/>
<rect x="113.27" y="616.92" width="1.44" height="6.04" fill="#7f7f7f"/>
<rect x="114.66" y="616.92" width="0.91" height="6.04" fill="#7c7c7c"/>
<rect x="115.52" y="616.92" width="1.03" height="6.04" fill="#adadad"/>
<rect x="126.94" y="616.92" width="1.14" height="6.04" fill="#c8c8c8"/>
<rect x="84.80" y="623.36" width="1.33" height="6.04" fill="#505050"/>
<rect x="96.57" y="629.80" width="1.34" height="6.04" fill="#484848"/>
<rect x="97.86" y="629.80" width="1.49" height="6.04" fill="#606060"/>
<rect x="99.30" y="629.80" width="0.17" height="6.04" fill="#424242"/>
<rect x="114.79" y="636.24" width="1.71" height="6.04" fill="#505050"/>
<rect x="116.50" y="642.68" width="1.90" height="6.04" fill="#505050"/>
<rect x="122.19" y="642.68" width="1.33" height="6.04" fill="#c8c8c8"/>
<rect x="101.88" y="649.12" width="1.33" height="6.04" fill="#c8c8c8"/>
<rect x="109.86" y="649.12" width="1.52" height="6.04" fill="#c8c8c8"/>
<rect x="115.17" y="649.12" width="1.02" height="6.04" fill="#bcbcbc"/>
<rect x="116.14" y="649.12" width="1.04" height="6.04" fill="#bcbcbc"/>
<rect x="117.13" y="649.12" width="1.33" height="6.04" fill="#c8c8c8"/>
<rect x="118.41" y="649.12" width="0.80" height="6.04" fill="#bfbfbf"/>
<rect x="119.16" y="649.12" width="0.62" height="6.04" fill="#b4b4b4"/>
<rect x="119.72" y="649.12" width="1.48" height="6.04" fill="#5e5e5e"/>
<rect x="121.15" y="649.12" width="1.58" height="6.04" fill="#575757"/>
<rect x="122.68" y="649.12" width="0.76" height="6.04" fill="#535353"/>
<rect x="123.39" y="649.12" width="1.28" height="6.04" fill="#727272"/>
<rect x="124.63" y="649.12" width="0.46" height="6.04" fill="#585858"/>
<rect x="99.99" y="655.56" width="1.12" height="6.04" fill="#7f7f7f"/>
<rect x="101.06" y="655.56" width="1.33" height="6.04" fill="#858585"/>
<rect x="102.34" y="655.56" width="0.89" height="6.04" fill="#7a7a7a"/>
<rect x="103.17" y="655.56" width="0.09" height="6.04" fill="#a0a0a0"/>
<rect x="103.21" y="655.56" width="0.86" height="6.04" fill="#6a6a6a"/>
<rect x="104.02" y="655.56" width="0.83" height="6.04" fill="#646464"/>
<rect x="104.80" y="655.56" width="0.87" height="6.04" fill="#343434"/>
<rect x="105.62" y="655.56" width="1.40" height="6.04" fill="#414141"/>
<rect x="106.97" y="655.56" width="1.04" height="6.04" fill="#3e3e3e"/>
<rect x="109.86" y="655.56" width="0.80" height="6.04" fill="#cecece"/>
<rect x="110.60" y="655.56" width="1.39" height="6.04" fill="#d0d0d0"/>
<rect x="111.94" y="655.56" width="1.38" height="6.04" fill="#bebebe"/>
<rect x="115.17" y="655.56" width="1.33" height="6.04" fill="#c8c8c8"/>
<rect x="88.03" y="662.00" width="1.33" height="6.04" fill="#c8c8c8"/>
<rect x="93.15" y="662.00" width="1.52" height="6.04" fill="#c8c8c8"/>
<rect x="98.09" y="662.00" width="1.90" height="6.04" fill="#505050"/>
<rect x="99.99" y="662.00" width="1.32" height="6.04" fill="#656565"/>
<rect x="101.25" y="662.00" width="1.16" height="6.04" fill="#727272"/>
<rect x="102.37" y="662.00" width="0.33" height="6.04" fill="#747474"/>
<rect x="109.86" y="662.00" width="1.52" height="6.04" fill="#bebebe"/>
<rect x="95.05" y="668.44" width="1.14" height="6.04" fill="#c8c8c8"/>
<rect x="98.09" y="668.44" width="1.33" height="6.04" fill="#c8c8c8"/>
<rect x="101.88" y="668.44" width="1.40" height="6.04" fill="#343434"/>
<rect x="103.23" y="668.44" width="0.76" height="6.04" fill="#585858"/>
<rect x="103.94" y="668.44" width="0.65" height="6.04" fill="#383838"/>
<rect x="106.44" y="668.44" width="1.52" height="6.04" fill="#505050"/>
<rect x="109.86" y="668.44" width="1.03" height="6.04" fill="#a2a2a2"/>
<rect x="110.84" y="668.44" width="0.90" height="6.04" fill="#aaaaaa"/>
<rect x="111.69" y="668.44" width="1.19" height="6.04" fill="#7d7d7d"/>
<rect x="112.82" y="668.44" width="1.08" height="6.04" fill="#9a9a9a"/>
<rect x="113.85" y="668.44" width="1.14" height="6.04" fill="#9f9f9f"/>
<rect x="114.95" y="668.44" width="0.27" height="6.04" fill="#a6a6a6"/>
<text x="68.3" y="23.00" class="ga">LOC128966614</text>
<text x="68.3" y="29.44" class="ga">VPREB1</text>
<text x="68.3" y="35.88" class="ga">NBPF1</text>
<text x="68.3" y="42.32" class="ga">PADI4</text>
<text x="68.3" y="48.76" class="ga">ZNF468</text>
<text x="68.3" y="55.20" class="ga">LARS1</text>
<text x="68.3" y="61.64" class="ga">PSG1</text>
<text x="68.3" y="68.08" class="ga">LOC101060341</text>
<text x="68.3" y="74.52" class="ga">GYPA</text>
<text x="68.3" y="80.96" class="ga">CXADR</text>
<text x="68.3" y="87.40" class="ga">HDDC2</text>
<text x="68.3" y="93.84" class="ga">CD200R1</text>
<text x="68.3" y="100.28" class="ga">IGLL5</text>
<text x="68.3" y="106.72" class="ga">ZNG1A</text>
<text x="68.3" y="113.16" class="ga">PRR23D1</text>
<text x="68.3" y="119.60" class="ga">TUBB8</text>
<text x="68.3" y="126.04" class="ga">CD177</text>
<text x="68.3" y="132.48" class="ga">LOC124904660</text>
<text x="68.3" y="138.92" class="ga">SBDS</text>
<text x="68.3" y="145.36" class="ga">AGAP4</text>
<text x="68.3" y="151.80" class="ga">WDR72</text>
<text x="68.3" y="158.24" class="ga">TPSAB1</text>
<text x="68.3" y="164.68" class="ga">CGB2</text>
<text x="68.3" y="171.12" class="ga">TAS2R45</text>
<text x="68.3" y="177.56" class="ga">LOC105379554</text>
<text x="68.3" y="184.00" class="ga">PDE4DIP</text>
<text x="68.3" y="190.44" class="ga">LOC124901818</text>
<text x="68.3" y="196.88" class="ga">NPIPA1</text>
<text x="68.3" y="203.32" class="ga">LCLAT1</text>
<text x="68.3" y="209.76" class="ga">FCRL6</text>
<text x="68.3" y="216.20" class="ga">SAMD12</text>
<text x="68.3" y="222.64" class="ga">POLR2J</text>
<text x="68.3" y="229.08" class="ga">SPANXA1</text>
<text x="68.3" y="235.52" class="ga">GPATCH2</text>
<text x="68.3" y="241.96" class="ga">VCX</text>
<text x="68.3" y="248.40" class="ga">ZNF443</text>
<text x="68.3" y="254.84" class="ga">TMEM140</text>
<text x="68.3" y="261.28" class="ga">HMGA2</text>
<text x="68.3" y="267.72" class="ga">TMEM231</text>
<text x="68.3" y="274.16" class="ga">LRRC37A2</text>
<text x="68.3" y="280.60" class="ga">PRR4</text>
<text x="68.3" y="287.04" class="ga">DPH6</text>
<text x="68.3" y="293.48" class="ga">IFITM2</text>
<text x="68.3" y="299.92" class="ga">ZNF273</text>
<text x="68.3" y="306.36" class="ga">SDR16C5</text>
<text x="68.3" y="312.80" class="ga">TMEM68</text>
<text x="68.3" y="319.24" class="ga">MANBA</text>
<text x="68.3" y="325.68" class="ga">SCIMP</text>
<text x="68.3" y="332.12" class="ga">ASNS</text>
<text x="68.3" y="338.56" class="ga">WASH4P</text>
<text x="68.3" y="345.00" class="ga">SPAG11A</text>
<text x="68.3" y="351.44" class="ga">LOC112268384</text>
<text x="68.3" y="357.88" class="ga">AKR1C1</text>
<text x="68.3" y="364.32" class="ga">LOC124901798</text>
<text x="68.3" y="370.76" class="ga">PIGN</text>
<text x="68.3" y="377.20" class="ga">OR52E6</text>
<text x="68.3" y="383.64" class="ga">ZNF99</text>
<text x="68.3" y="390.08" class="ga">LIN52</text>
<text x="68.3" y="396.52" class="ga">NREP</text>
<text x="68.3" y="402.96" class="ga">CST1</text>
<text x="68.3" y="409.40" class="ga">TAX1BP3</text>
<text x="68.3" y="415.84" class="ga">DDX11</text>
<text x="68.3" y="422.28" class="ga">ARSJ</text>
<text x="68.3" y="428.72" class="ga">FRG2C</text>
<text x="68.3" y="435.16" class="ga">C15orf40</text>
<text x="68.3" y="441.60" class="ga">ERVK3-1</text>
<text x="68.3" y="448.04" class="ga">TARP</text>
<text x="68.3" y="454.48" class="ga">LILRB1</text>
<text x="68.3" y="460.92" class="ga">GAS6</text>
<text x="68.3" y="467.36" class="ga">PRAMEF11</text>
<text x="68.3" y="473.80" class="ga">SPAG16</text>
<text x="68.3" y="480.24" class="ga">RRP7A</text>
<text x="68.3" y="486.68" class="ga">SAA1</text>
<text x="68.3" y="493.12" class="ga">MUC20</text>
<text x="68.3" y="499.56" class="ga">CTAGE8</text>
<text x="68.3" y="506.00" class="ga">TRDMT1</text>
<text x="68.3" y="512.44" class="ga">POM121L10P</text>
<text x="68.3" y="518.88" class="ga">HPCAL1</text>
<text x="68.3" y="525.32" class="ga">NBPF10</text>
<text x="68.3" y="531.76" class="ga">METTL4</text>
<text x="68.3" y="538.20" class="ga">PDLIM1</text>
<text x="68.3" y="544.64" class="ga">LOC102724250</text>
<text x="68.3" y="551.08" class="ga">PDLIM5</text>
<text x="68.3" y="557.52" class="ga">TYW1</text>
<text x="68.3" y="563.96" class="ga">CDK2AP2P1</text>
<text x="68.3" y="570.40" class="ga">TPI1</text>
<text x="68.3" y="576.84" class="ga">PRRC1</text>
<text x="68.3" y="583.28" class="ga">RPSA</text>
<text x="68.3" y="589.72" class="ga">PRAMEF1</text>
<text x="68.3" y="596.16" class="ga">TMC7</text>
<text x="68.3" y="602.60" class="ga">ATF6</text>
<text x="68.3" y="609.04" class="ga">KLRC3</text>
<text x="68.3" y="615.48" class="ga">SCRN1</text>
<text x="68.3" y="621.92" class="ga">PILRB</text>
<text x="68.3" y="628.36" class="ga">HMGN1</text>
<text x="68.3" y="634.80" class="ga">EIF4B</text>
<text x="68.3" y="641.24" class="ga">SERHL2</text>
<text x="68.3" y="647.68" class="ga">TSBP1</text>
<text x="68.3" y="654.12" class="ga">DHRS4</text>
<text x="68.3" y="660.56" class="ga">LOC124900372</text>
<text x="68.3" y="667.00" class="ga">SPINK13</text>
<text x="68.3" y="673.44" class="ga">GOLGA6A</text>
<rect x="71.5" y="16.5" width="124.7" height="659" fill="none" stroke="#555" stroke-width="0.7"/>
<line x1="133.5" y1="16.5" x2="133.5" y2="675.5" stroke="#aaa" stroke-width="0.6"/>
<text x="71.5" y="684.5" class="tk" text-anchor="middle" style="font-size:6.7px;letter-spacing:0">0.1%</text>
<text x="133.5" y="684.5" class="tk" text-anchor="middle" style="font-size:6.7px;letter-spacing:0">1%</text>
<text x="196" y="684.5" class="tk" text-anchor="middle" style="font-size:6.7px;letter-spacing:0">10%+</text>
<text x="134.2" y="698.8" class="ttl" text-anchor="middle">Differential percent identity of cDNA</text>
<text x="134.5" y="709.1" class="ttl" text-anchor="middle">alignment to any de novo assembly vs T2T-CHM13</text>
<text transform="translate(7.2,346) rotate(-90)" class="ttl" text-anchor="middle">Gene family</text>
<text x="0.2" y="8.8" class="pl">a</text>
<text x="220.30" y="8.80" class="pl">b</text>
<text x="321.60" y="10.60" class="ttl" text-anchor="middle">Genomic position (Mb)</text>
<line x1="245.90" y1="30.90" x2="397.40" y2="30.90" stroke="#333" stroke-width="0.6"/>
<line x1="283.70" y1="30.90" x2="283.70" y2="29.30" stroke="#333" stroke-width="0.5"/>
<text x="283.70" y="25.00" class="tk" text-anchor="middle">46.5</text>
<line x1="326.30" y1="30.90" x2="326.30" y2="29.30" stroke="#333" stroke-width="0.5"/>
<text x="326.30" y="25.00" class="tk" text-anchor="middle">47.0</text>
<line x1="368.80" y1="30.90" x2="368.80" y2="29.30" stroke="#333" stroke-width="0.5"/>
<text x="368.80" y="25.00" class="tk" text-anchor="middle">47.5</text>
<text x="243.50" y="39.00" class="tk" text-anchor="end">SD</text>
<line x1="244.3" y1="37" x2="245.6" y2="37" stroke="#555" stroke-width="0.5"/>
<rect x="263" y="35.6" width="3" height="2" fill="none" stroke="#555" stroke-width="0.45"/>
<rect x="267" y="35.6" width="3" height="2" fill="none" stroke="#555" stroke-width="0.45"/>
<rect x="271" y="35.6" width="3" height="2" fill="none" stroke="#555" stroke-width="0.45"/>
<rect x="275" y="35.6" width="2" height="2" fill="none" stroke="#555" stroke-width="0.45"/>
<rect x="277.5" y="35.6" width="1.5" height="2" fill="none" stroke="#555" stroke-width="0.45"/>
<rect x="279.5" y="35.6" width="1.5" height="2" fill="none" stroke="#555" stroke-width="0.45"/>
<rect x="281.5" y="35.6" width="1.5" height="2" fill="none" stroke="#555" stroke-width="0.45"/>
<rect x="270" y="35.8" width="6" height="1.6" fill="#666"/>
<rect x="276.5" y="35.8" width="3.5" height="1.6" fill="#666"/>
<path d="M321,35.8 L323,36.8 L321,37.8Z" fill="none" stroke="#555" stroke-width="0.45"/>
<path d="M333,36.8 L355,36.8 M355,35.6 L375,36.8 L355,38" fill="none" stroke="#555" stroke-width="0.5"/>
<rect x="333" y="35.7" width="2" height="2" fill="#666"/>
<rect x="336" y="35.7" width="2" height="2" fill="#666"/>
<rect x="339" y="35.7" width="2" height="2" fill="#666"/>
<rect x="355" y="35.7" width="2" height="2" fill="#666"/>
<rect x="358" y="35.7" width="2" height="2" fill="#666"/>
<rect x="361" y="35.7" width="2" height="2" fill="#666"/>
<text transform="translate(237.00,52.60) scale(0.92,1)" class="gn">MAP3K14</text>
<text transform="translate(221.30,57.90) scale(0.92,1)" class="gn">SPATA32</text>
<text transform="translate(238.00,63.40) scale(0.92,1)" class="gn">FMNL1</text>
<text transform="translate(273.00,52.20) scale(0.92,1)" class="gn">SPPL2C</text>
<text transform="translate(268.00,58.30) scale(0.92,1)" class="gn">PLEKHM1</text>
<text transform="translate(262.30,63.40) scale(0.92,1)" class="gn">ARHGAP27</text>
<text transform="translate(273.00,69.10) scale(0.92,1)" class="gn">CRHR1</text>
<text transform="translate(305.30,46.90) scale(0.92,1)" class="gn">STH</text>
<text transform="translate(302.50,58.30) scale(0.92,1)" class="gn">MAPT</text>
<text transform="translate(316.70,64.00) scale(0.92,1)" class="gn">KANSL1</text>
<text transform="translate(328.50,46.00) scale(0.92,1)" class="gn">ARL17B</text>
<text transform="translate(324.70,55.10) scale(0.92,1)" class="gn">LRRC37A</text>
<text transform="translate(365.50,55.80) scale(0.92,1)" class="gn">ARL17A</text>
<text transform="translate(353.20,63.00) scale(0.92,1)" class="gn">LRRC37A2</text>
<text transform="translate(378.80,68.70) scale(0.92,1)" class="gn">NSF</text>
<rect x="251.5" y="44.2" width="2.5" height="2" fill="#333"/>
<rect x="248.2" y="65.4" width="2.8" height="2" fill="#333"/>
<rect x="249.5" y="55.0" width="0.6" height="2" fill="#333"/>
<rect x="263.5" y="55.0" width="1.4" height="2" fill="#333"/>
<rect x="266.3" y="65.3" width="1.1" height="2" fill="#333"/>
<rect x="268" y="65.3" width="1.1" height="2" fill="#333"/>
<rect x="281.2" y="65.3" width="2.6" height="2" fill="#333"/>
<rect x="301.5" y="50.0" width="0.5" height="2" fill="#333"/>
<rect x="313.3" y="50" width="0.5" height="2" fill="#333"/>
<rect x="312.5" y="60" width="2.2" height="2" fill="#333"/>
<rect x="342.7" y="47.5" width="2.2" height="2" fill="#333"/>
<rect x="339.5" y="57" width="2.2" height="2" fill="#333"/>
<rect x="359" y="52.5" width="3.5" height="2" fill="#333"/>
<line x1="316" y1="66.5" x2="340" y2="66.5" stroke="#555" stroke-width="0.4"/>
<line x1="330" y1="57.5" x2="340" y2="57.5" stroke="#555" stroke-width="0.4"/>
<line x1="353" y1="66.5" x2="372" y2="66.5" stroke="#555" stroke-width="0.4"/>
<line x1="374" y1="66.5" x2="384" y2="66.5" stroke="#555" stroke-width="0.4"/>
<rect x="322" y="65.6" width="1.1" height="1.8" fill="#444"/>
<rect x="326" y="65.6" width="1.1" height="1.8" fill="#444"/>
<rect x="331" y="65.6" width="1.1" height="1.8" fill="#444"/>
<rect x="356" y="65.6" width="1.1" height="1.8" fill="#444"/>
<rect x="360" y="65.6" width="1.1" height="1.8" fill="#444"/>
<rect x="363" y="65.6" width="1.1" height="1.8" fill="#444"/>
<rect x="366" y="65.6" width="1.1" height="1.8" fill="#444"/>
<rect x="368" y="65.6" width="1.1" height="1.8" fill="#444"/>
<rect x="376" y="65.6" width="1.1" height="1.8" fill="#444"/>
<rect x="379" y="65.6" width="1.1" height="1.8" fill="#444"/>
<rect x="382" y="65.6" width="1.1" height="1.8" fill="#444"/>
<path d="M245.80,72.30L258.70,72.30C258.70,115.20 258.70,115.20 258.70,158.10L245.80,158.10C245.80,115.20 245.80,115.20 245.80,72.30Z" fill="#F4A97F"/>
<path d="M259.20,72.30L271.70,72.30C271.70,115.20 271.50,115.20 271.50,158.10L259.20,158.10C259.20,115.20 259.20,115.20 259.20,72.30Z" fill="#F2C97E"/>
<path d="M277.40,72.30L290.00,72.30C290.00,115.20 346.60,115.20 346.60,158.10L359.20,158.10C359.20,115.20 277.40,115.20 277.40,72.30Z" fill="#E9E2A8" fill-opacity="0.85"/>
<path d="M290.00,72.30L300.00,72.30C300.00,115.20 336.60,115.20 336.60,158.10L346.60,158.10C346.60,115.20 290.00,115.20 290.00,72.30Z" fill="#DCE0B8" fill-opacity="0.8"/>
<path d="M300.00,72.30L309.00,72.30C309.00,115.20 327.60,115.20 327.60,158.10L336.60,158.10C336.60,115.20 300.00,115.20 300.00,72.30Z" fill="#CADDCF" fill-opacity="0.8"/>
<path d="M309.00,72.30L318.00,72.30C318.00,115.20 318.60,115.20 318.60,158.10L327.60,158.10C327.60,115.20 309.00,115.20 309.00,72.30Z" fill="#D2DEC4" fill-opacity="0.8"/>
<path d="M318.00,72.30L326.00,72.30C326.00,115.20 310.60,115.20 310.60,158.10L318.60,158.10C318.60,115.20 318.00,115.20 318.00,72.30Z" fill="#CDDDCB" fill-opacity="0.8"/>
<path d="M326.00,72.30L334.00,72.30C334.00,115.20 302.60,115.20 302.60,158.10L310.60,158.10C310.60,115.20 326.00,115.20 326.00,72.30Z" fill="#DDE0B6" fill-opacity="0.8"/>
<path d="M334.00,72.30L361.00,72.30C361.00,115.20 275.60,115.20 275.60,158.10L302.60,158.10C302.60,115.20 334.00,115.20 334.00,72.30Z" fill="#F2C47E" fill-opacity="0.85"/>
<path d="M296.00,72.30L297.20,72.30C297.20,115.20 339.40,115.20 339.40,158.10L340.60,158.10C340.60,115.20 296.00,115.20 296.00,72.30Z" fill="#A8D1DE" fill-opacity="0.8"/>
<path d="M312.00,72.30L313.00,72.30C313.00,115.20 323.60,115.20 323.60,158.10L324.60,158.10C324.60,115.20 312.00,115.20 312.00,72.30Z" fill="#9fc9d8" fill-opacity="0.8"/>
<path d="M340.00,72.30L341.20,72.30C341.20,115.20 295.40,115.20 295.40,158.10L296.60,158.10C296.60,115.20 340.00,115.20 340.00,72.30Z" fill="#A8D1DE" fill-opacity="0.8"/>
<path d="M281,72.3 C281,115.19999999999999 355.6,115.19999999999999 355.6,158.1" fill="none" stroke="#9ab89a" stroke-width="0.3"/>
<path d="M286,72.3 C286,115.19999999999999 350.6,115.19999999999999 350.6,158.1" fill="none" stroke="#b0c8a8" stroke-width="0.3"/>
<path d="M292,72.3 C292,115.19999999999999 344.6,115.19999999999999 344.6,158.1" fill="none" stroke="#8fb08f" stroke-width="0.3"/>
<path d="M299,72.3 C299,115.19999999999999 337.6,115.19999999999999 337.6,158.1" fill="none" stroke="#a0c0a0" stroke-width="0.3"/>
<path d="M304,72.3 C304,115.19999999999999 332.6,115.19999999999999 332.6,158.1" fill="none" stroke="#8fb08f" stroke-width="0.3"/>
<path d="M308,72.3 C308,115.19999999999999 328.6,115.19999999999999 328.6,158.1" fill="none" stroke="#b8c8a0" stroke-width="0.3"/>
<path d="M315,72.3 C315,115.19999999999999 321.6,115.19999999999999 321.6,158.1" fill="none" stroke="#8fb08f" stroke-width="0.3"/>
<path d="M320,72.3 C320,115.19999999999999 316.6,115.19999999999999 316.6,158.1" fill="none" stroke="#a0c0a0" stroke-width="0.3"/>
<path d="M325,72.3 C325,115.19999999999999 311.6,115.19999999999999 311.6,158.1" fill="none" stroke="#8fb08f" stroke-width="0.3"/>
<path d="M330,72.3 C330,115.19999999999999 306.6,115.19999999999999 306.6,158.1" fill="none" stroke="#c8b070" stroke-width="0.3"/>
<path d="M345,72.3 C345,115.19999999999999 291.6,115.19999999999999 291.6,158.1" fill="none" stroke="#d0a060" stroke-width="0.3"/>
<path d="M277.00,72.30L281.00,72.30C281.00,115.20 297.00,115.20 297.00,158.10L293.70,158.10C293.70,115.20 277.00,115.20 277.00,72.30Z" fill="#A5D0DE" fill-opacity="0.85"/>
<path d="M328.00,72.30L333.00,72.30C333.00,115.20 345.00,115.20 345.00,158.10L340.00,158.10C340.00,115.20 328.00,115.20 328.00,72.30Z" fill="#CADDCF" fill-opacity="0.75"/>
<path d="M333.00,72.30L336.00,72.30C336.00,115.20 348.00,115.20 348.00,158.10L345.00,158.10C345.00,115.20 333.00,115.20 333.00,72.30Z" fill="#A5D0DE" fill-opacity="0.7"/>
<path d="M336.00,72.30L340.00,72.30C340.00,115.20 352.00,115.20 352.00,158.10L348.00,158.10C348.00,115.20 336.00,115.20 336.00,72.30Z" fill="#DCE0B8" fill-opacity="0.75"/>
<path d="M340.00,72.30L343.00,72.30C343.00,115.20 355.00,115.20 355.00,158.10L352.00,158.10C352.00,115.20 340.00,115.20 340.00,72.30Z" fill="#B8D8D8" fill-opacity="0.7"/>
<path d="M343.00,72.30L347.00,72.30C347.00,115.20 359.00,115.20 359.00,158.10L355.00,158.10C355.00,115.20 343.00,115.20 343.00,72.30Z" fill="#E6DE9E" fill-opacity="0.75"/>
<path d="M347.00,72.30L351.00,72.30C351.00,115.20 363.00,115.20 363.00,158.10L359.00,158.10C359.00,115.20 347.00,115.20 347.00,72.30Z" fill="#CADDCF" fill-opacity="0.75"/>
<path d="M351.00,72.30L354.00,72.30C354.00,115.20 367.00,115.20 367.00,158.10L363.00,158.10C363.00,115.20 351.00,115.20 351.00,72.30Z" fill="#BCD8DA" fill-opacity="0.7"/>
<path d="M354.00,72.30L357.00,72.30C357.00,115.20 372.00,115.20 372.00,158.10L367.00,158.10C367.00,115.20 354.00,115.20 354.00,72.30Z" fill="#DCE0B8" fill-opacity="0.75"/>
<path d="M357.00,72.30L361.50,72.30C361.50,115.20 381.00,115.20 381.00,158.10L372.00,158.10C372.00,115.20 357.00,115.20 357.00,72.30Z" fill="#E8E1A8" fill-opacity="0.85"/>
<path d="M330,72.3 C330,115.19999999999999 344,115.19999999999999 344,158.1" fill="none" stroke="#6f9f8f" stroke-width="0.35"/>
<path d="M332,72.3 C332,115.19999999999999 347,115.19999999999999 347,158.1" fill="none" stroke="#7fa8c0" stroke-width="0.35"/>
<path d="M335,72.3 C335,115.19999999999999 350,115.19999999999999 350,158.1" fill="none" stroke="#8fb08f" stroke-width="0.35"/>
<path d="M337,72.3 C337,115.19999999999999 352,115.19999999999999 352,158.1" fill="none" stroke="#6fa0b8" stroke-width="0.35"/>
<path d="M339,72.3 C339,115.19999999999999 354,115.19999999999999 354,158.1" fill="none" stroke="#e0a040" stroke-width="0.35"/>
<path d="M342,72.3 C342,115.19999999999999 356,115.19999999999999 356,158.1" fill="none" stroke="#8fb08f" stroke-width="0.35"/>
<path d="M345,72.3 C345,115.19999999999999 359,115.19999999999999 359,158.1" fill="none" stroke="#7fa8c0" stroke-width="0.35"/>
<path d="M348,72.3 C348,115.19999999999999 362,115.19999999999999 362,158.1" fill="none" stroke="#8fb08f" stroke-width="0.35"/>
<path d="M352,72.3 C352,115.19999999999999 366,115.19999999999999 366,158.1" fill="none" stroke="#6fa0b8" stroke-width="0.35"/>
<path d="M355,72.3 C355,115.19999999999999 370,115.19999999999999 370,158.1" fill="none" stroke="#8fb08f" stroke-width="0.35"/>
<path d="M326,72.3 C326,115.19999999999999 348,115.19999999999999 348,158.1" fill="none" stroke="#e89050" stroke-width="0.35"/>
<path d="M361.30,72.30L376.20,72.30C376.20,115.20 397.00,115.20 397.00,158.10L382.00,158.10C382.00,115.20 361.30,115.20 361.30,72.30Z" fill="#F4B67F"/>
<path d="M245.50,69.20L256.50,69.20L257.50,71.00L256.50,72.80L245.50,72.80L246.50,71.00Z" fill="#2E8B2E"/>
<path d="M258.60,69.20L270.70,69.20L271.70,71.00L270.70,72.80L258.60,72.80L259.60,71.00Z" fill="#2E8B2E"/>
<path d="M276.00,69.20L278.40,69.20L279.40,71.00L278.40,72.80L276.00,72.80L277.00,71.00Z" fill="#2E8B2E"/>
<path d="M280.40,69.20L291.99,69.20L290.99,71.00L291.99,72.80L280.40,72.80L279.40,71.00Z" fill="#6A9BE8"/>
<path d="M292.99,69.20L308.91,69.20L307.91,71.00L308.91,72.80L292.99,72.80L291.99,71.00Z" fill="#6A9BE8"/>
<path d="M309.91,69.20L325.00,69.20L324.00,71.00L325.00,72.80L309.91,72.80L308.91,71.00Z" fill="#6A9BE8"/>
<path d="M326.00,69.20L344.73,69.20L343.73,71.00L344.73,72.80L326.00,72.80L325.00,71.00Z" fill="#6A9BE8"/>
<path d="M345.73,69.20L356.00,69.20L355.00,71.00L356.00,72.80L345.73,72.80L344.73,71.00Z" fill="#6A9BE8"/>
<path d="M356.00,69.20L364.69,69.20L365.69,71.00L364.69,72.80L356.00,72.80L357.00,71.00Z" fill="#2E8B2E"/>
<path d="M365.69,69.20L373.20,69.20L374.20,71.00L373.20,72.80L365.69,72.80L366.69,71.00Z" fill="#2E8B2E"/>
<path d="M374.20,69.20L376.50,69.20L377.50,71.00L376.50,72.80L374.20,72.80L375.20,71.00Z" fill="#2E8B2E"/>
<path d="M246.00,157.50L255.42,157.50L256.42,159.30L255.42,161.10L246.00,161.10L247.00,159.30Z" fill="#2E8B2E"/>
<path d="M256.42,157.50L278.67,157.50L279.67,159.30L278.67,161.10L256.42,161.10L257.42,159.30Z" fill="#2E8B2E"/>
<path d="M279.67,157.50L300.42,157.50L301.42,159.30L300.42,161.10L279.67,161.10L280.67,159.30Z" fill="#2E8B2E"/>
<path d="M301.42,157.50L313.01,157.50L314.01,159.30L313.01,161.10L301.42,161.10L302.42,159.30Z" fill="#2E8B2E"/>
<path d="M314.01,157.50L329.93,157.50L330.93,159.30L329.93,161.10L314.01,161.10L315.01,159.30Z" fill="#2E8B2E"/>
<path d="M330.93,157.50L346.02,157.50L347.02,159.30L346.02,161.10L330.93,161.10L331.93,159.30Z" fill="#2E8B2E"/>
<path d="M347.02,157.50L365.75,157.50L366.75,159.30L365.75,161.10L347.02,161.10L348.02,159.30Z" fill="#2E8B2E"/>
<path d="M366.75,157.50L387.95,157.50L388.95,159.30L387.95,161.10L366.75,161.10L367.75,159.30Z" fill="#2E8B2E"/>
<path d="M388.95,157.50L395.20,157.50L396.20,159.30L395.20,161.10L388.95,161.10L389.95,159.30Z" fill="#2E8B2E"/>
<text x="239.90" y="72.30" class="tl" text-anchor="end">chr17</text>
<text x="246.00" y="167.30" class="tl" text-anchor="end">HG00741_1</text>
<text x="247.50" y="167.20" class="gn" style="fill:#C8262B;font-size:6.35px">NSFP1-LRRC37A2 fusion</text>
<text x="339.50" y="167.20" class="lg" style="fill:#C8262B;font-size:6.5px">5' truncated <tspan font-style='italic'>LRRC37A/2</tspan></text>
<line x1="271" y1="170" x2="288.3" y2="170" stroke="#C8262B" stroke-width="0.5"/>
<line x1="371.7" y1="170" x2="383.3" y2="170" stroke="#C8262B" stroke-width="0.5"/>
<rect x="271" y="169" width="1.3" height="2" fill="#C8262B"/>
<rect x="273" y="169" width="1.3" height="2" fill="#C8262B"/>
<rect x="275" y="169" width="1.3" height="2" fill="#C8262B"/>
<rect x="279" y="169" width="1.3" height="2" fill="#C8262B"/>
<rect x="284" y="169" width="1.3" height="2" fill="#C8262B"/>
<rect x="287" y="169" width="1.3" height="2" fill="#C8262B"/>
<rect x="379" y="169" width="1.3" height="2" fill="#C8262B"/>
<rect x="381.5" y="169" width="1.3" height="2" fill="#C8262B"/>
<line x1="246.00" y1="174.50" x2="396.20" y2="174.50" stroke="#333" stroke-width="0.6"/>
<line x1="247.50" y1="174.50" x2="247.50" y2="176.10" stroke="#333" stroke-width="0.5"/>
<text x="247.50" y="185.60" class="tk" text-anchor="middle">20.0</text>
<line x1="289.50" y1="174.50" x2="289.50" y2="176.10" stroke="#333" stroke-width="0.5"/>
<text x="289.50" y="185.60" class="tk" text-anchor="middle">20.5</text>
<line x1="331.80" y1="174.50" x2="331.80" y2="176.10" stroke="#333" stroke-width="0.5"/>
<text x="331.80" y="185.60" class="tk" text-anchor="middle">21.0</text>
<line x1="373.80" y1="174.50" x2="373.80" y2="176.10" stroke="#333" stroke-width="0.5"/>
<text x="373.80" y="185.60" class="tk" text-anchor="middle">21.5</text>
<text x="400.70" y="56.30" class="lg">Identity</text>
<rect x="400.70" y="58.90" width="5.10" height="5.21" fill="#97C9DA"/>
<text x="409.30" y="64.03" class="lg" style="font-size:6.6px">&lt;97.1</text>
<rect x="400.70" y="64.41" width="5.10" height="5.21" fill="#A8D1DE"/>
<text x="409.30" y="69.54" class="lg" style="font-size:6.6px">98.4</text>
<rect x="400.70" y="69.92" width="5.10" height="5.21" fill="#BCD8DA"/>
<text x="409.30" y="75.05" class="lg" style="font-size:6.6px">98.9</text>
<rect x="400.70" y="75.43" width="5.10" height="5.21" fill="#CADDCF"/>
<text x="409.30" y="80.56" class="lg" style="font-size:6.6px">99.1</text>
<rect x="400.70" y="80.94" width="5.10" height="5.21" fill="#DCE0B8"/>
<text x="409.30" y="86.07" class="lg" style="font-size:6.6px">99.3</text>
<rect x="400.70" y="86.45" width="5.10" height="5.21" fill="#EAE2A2"/>
<text x="409.30" y="91.58" class="lg" style="font-size:6.6px">99.4</text>
<rect x="400.70" y="91.96" width="5.10" height="5.21" fill="#EFD88A"/>
<text x="409.30" y="97.09" class="lg" style="font-size:6.6px">99.6</text>
<rect x="400.70" y="97.47" width="5.10" height="5.21" fill="#F2C97E"/>
<text x="409.30" y="102.60" class="lg" style="font-size:6.6px">99.7</text>
<rect x="400.70" y="102.98" width="5.10" height="5.21" fill="#F4B87E"/>
<text x="409.30" y="108.11" class="lg" style="font-size:6.6px">99.8</text>
<rect x="400.70" y="108.49" width="5.10" height="5.21" fill="#F4A77F"/>
<text x="409.30" y="113.62" class="lg" style="font-size:6.6px">99.9</text>
<text x="402.90" y="127.00" class="lg" style="font-size:7.3px">Alignment</text>
<text x="402.90" y="134.70" class="lg" style="font-size:7.3px">direction</text>
<rect x="402.9" y="139.2" width="5.1" height="5.2" fill="#6A9BE8"/>
<rect x="402.9" y="144.6" width="5.1" height="5.2" fill="#2E8B2E"/>
<text x="411.20" y="143.30" class="lg" style="font-size:5.5px">–</text>
<text x="411.20" y="148.80" class="lg" style="font-size:5.5px">+</text>
<text x="457.50" y="9.30" class="pl">c</text>
<text x="561.70" y="10.60" class="ttl" text-anchor="middle">Genomic position (Mb)</text>
<line x1="475.10" y1="32.00" x2="655.60" y2="32.00" stroke="#333" stroke-width="0.6"/>
<line x1="504.10" y1="32.00" x2="504.10" y2="30.40" stroke="#333" stroke-width="0.5"/>
<text x="504.10" y="25.00" class="tk" text-anchor="middle">198.3</text>
<line x1="533.00" y1="32.00" x2="533.00" y2="30.40" stroke="#333" stroke-width="0.5"/>
<text x="533.00" y="25.00" class="tk" text-anchor="middle">198.4</text>
<line x1="561.80" y1="32.00" x2="561.80" y2="30.40" stroke="#333" stroke-width="0.5"/>
<text x="561.80" y="25.00" class="tk" text-anchor="middle">198.5</text>
<line x1="590.60" y1="32.00" x2="590.60" y2="30.40" stroke="#333" stroke-width="0.5"/>
<text x="590.60" y="25.00" class="tk" text-anchor="middle">198.6</text>
<line x1="619.40" y1="32.00" x2="619.40" y2="30.40" stroke="#333" stroke-width="0.5"/>
<text x="619.40" y="25.00" class="tk" text-anchor="middle">198.7</text>
<text x="471.30" y="39.00" class="tk" text-anchor="end">SD</text>
<line x1="472.3" y1="37" x2="473.6" y2="37" stroke="#555" stroke-width="0.5"/>
<path d="M481,36 L482.5,37 L481,38" fill="none" stroke="#777" stroke-width="0.4"/>
<rect x="508" y="36" width="2" height="2" fill="none" stroke="#555" stroke-width="0.45"/>
<rect x="511" y="36" width="2" height="2" fill="none" stroke="#555" stroke-width="0.45"/>
<rect x="514" y="36" width="2" height="2" fill="none" stroke="#555" stroke-width="0.45"/>
<rect x="517" y="36" width="2" height="2" fill="none" stroke="#555" stroke-width="0.45"/>
<rect x="520" y="36" width="2" height="2" fill="none" stroke="#555" stroke-width="0.45"/>
<rect x="523" y="36" width="2" height="2" fill="none" stroke="#555" stroke-width="0.45"/>
<rect x="526" y="36" width="2" height="2" fill="none" stroke="#555" stroke-width="0.45"/>
<rect x="529" y="36" width="2" height="2" fill="none" stroke="#555" stroke-width="0.45"/>
<rect x="532" y="36" width="2" height="2" fill="none" stroke="#555" stroke-width="0.45"/>
<rect x="535" y="36" width="2" height="2" fill="none" stroke="#555" stroke-width="0.45"/>
<rect x="538" y="36" width="2" height="2" fill="none" stroke="#555" stroke-width="0.45"/>
<line x1="559.5" y1="35.6" x2="559.5" y2="38.4" stroke="#666" stroke-width="0.5"/>
<line x1="573.5" y1="35.6" x2="573.5" y2="38.4" stroke="#666" stroke-width="0.5"/>
<path d="M602,36 L603.5,37 L602,38 M604,36 L605.5,37 L604,38 M611,36 L615,37 L611,38Z" fill="none" stroke="#555" stroke-width="0.45"/>
<text transform="translate(542.50,48.30) scale(0.92,1)" class="gn" textLength="52.2" lengthAdjust="spacingAndGlyphs">LOC124905352</text>
<text transform="translate(496.00,53.80) scale(0.92,1)" class="gn" textLength="52.2" lengthAdjust="spacingAndGlyphs">LOC124906322</text>
<text transform="translate(464.30,60.70) scale(0.92,1)" class="gn">PPP1R2</text>
<text transform="translate(492.20,60.70) scale(0.92,1)" class="gn">APOD</text>
<text transform="translate(545.30,60.70) scale(0.92,1)" class="gn">TNK2</text>
<text transform="translate(566.40,60.10) scale(0.92,1)" class="gn">MUC4</text>
<text transform="translate(591.40,60.10) scale(0.92,1)" class="gn">MUC20</text>
<line x1="573.5" y1="50" x2="573.5" y2="53.5" stroke="#444" stroke-width="0.5"/>
<rect x="483" y="62" width="1.5" height="1.8" fill="#333"/>
<rect x="485" y="62" width="1" height="1.8" fill="#333"/>
<rect x="490" y="62" width="0.7" height="1.8" fill="#333"/>
<rect x="497" y="62" width="0.5" height="1.8" fill="#333"/>
<rect x="499" y="62" width="0.5" height="1.8" fill="#333"/>
<rect x="511.5" y="62" width="0.6" height="1.8" fill="#333"/>
<rect x="550" y="62" width="0.8" height="1.8" fill="#333"/>
<rect x="553" y="62" width="2.5" height="1.8" fill="#333"/>
<rect x="556" y="62" width="2.5" height="1.8" fill="#333"/>
<rect x="559" y="62" width="1" height="1.8" fill="#333"/>
<line x1="576" y1="63" x2="605" y2="63" stroke="#555" stroke-width="0.4"/>
<rect x="583" y="62" width="0.9" height="2" fill="#222"/>
<rect x="584.6" y="62" width="0.9" height="2" fill="#222"/>
<rect x="586.2" y="62" width="0.9" height="2" fill="#222"/>
<rect x="587.8" y="62" width="0.9" height="2" fill="#222"/>
<rect x="589.4" y="62" width="0.9" height="2" fill="#222"/>
<rect x="591" y="62" width="0.9" height="2" fill="#222"/>
<rect x="592.6" y="62" width="0.9" height="2" fill="#222"/>
<rect x="594.2" y="62" width="0.9" height="2" fill="#222"/>
<rect x="595.8" y="62" width="0.9" height="2" fill="#222"/>
<rect x="597.4" y="62" width="0.9" height="2" fill="#222"/>
<path d="M475.00,69.00L478.30,69.00C478.30,113.90 478.30,113.90 478.30,158.80L475.00,158.80C475.00,113.90 475.00,113.90 475.00,69.00Z" fill="#BFD9DD"/>
<path d="M478.30,69.00L509.70,69.00C509.70,113.90 509.70,113.90 509.70,158.80L478.30,158.80C478.30,113.90 478.30,113.90 478.30,69.00Z" fill="#F2BE82"/>
<path d="M507.50,69.00L510.50,69.00C510.50,113.90 510.50,113.90 510.50,158.80L507.50,158.80C507.50,113.90 507.50,113.90 507.50,69.00Z" fill="#F5A27A" fill-opacity="0.8"/>
<path d="M511.00,69.00L518.50,69.00C518.50,113.90 518.50,113.90 518.50,158.80L511.00,158.80C511.00,113.90 511.00,113.90 511.00,69.00Z" fill="#EFD680"/>
<path d="M518.50,69.00L526.00,69.00C526.00,113.90 526.00,113.90 526.00,158.80L518.50,158.80C518.50,113.90 518.50,113.90 518.50,69.00Z" fill="#D7DFC0"/>
<path d="M526.00,69.00L532.40,69.00C532.40,113.90 532.40,113.90 532.40,158.80L526.00,158.80C526.00,113.90 526.00,113.90 526.00,69.00Z" fill="#C8DDD2" fill-opacity="0.9"/>
<path d="M511.60,69.00L525.00,69.00C525.00,113.90 620.20,113.90 620.20,158.80L633.60,158.80C633.60,113.90 511.60,113.90 511.60,69.00Z" fill="#ECD98A" fill-opacity="0.85"/>
<path d="M525.00,69.00L540.00,69.00C540.00,113.90 605.20,113.90 605.20,158.80L620.20,158.80C620.20,113.90 525.00,113.90 525.00,69.00Z" fill="#F2B07A" fill-opacity="0.85"/>
<path d="M540.00,69.00L552.00,69.00C552.00,113.90 593.20,113.90 593.20,158.80L605.20,158.80C605.20,113.90 540.00,113.90 540.00,69.00Z" fill="#F4A67C" fill-opacity="0.85"/>
<path d="M552.00,69.00L566.00,69.00C566.00,113.90 579.20,113.90 579.20,158.80L593.20,158.80C593.20,113.90 552.00,113.90 552.00,69.00Z" fill="#F3AA7C" fill-opacity="0.85"/>
<path d="M566.00,69.00L578.00,69.00C578.00,113.90 567.20,113.90 567.20,158.80L579.20,158.80C579.20,113.90 566.00,113.90 566.00,69.00Z" fill="#F4A27C" fill-opacity="0.85"/>
<path d="M578.00,69.00L590.00,69.00C590.00,113.90 555.20,113.90 555.20,158.80L567.20,158.80C567.20,113.90 578.00,113.90 578.00,69.00Z" fill="#F2B27C" fill-opacity="0.85"/>
<path d="M590.00,69.00L603.00,69.00C603.00,113.90 542.20,113.90 542.20,158.80L555.20,158.80C555.20,113.90 590.00,113.90 590.00,69.00Z" fill="#F0C888" fill-opacity="0.85"/>
<path d="M603.00,69.00L612.80,69.00C612.80,113.90 532.40,113.90 532.40,158.80L542.20,158.80C542.20,113.90 603.00,113.90 603.00,69.00Z" fill="#EDD98F" fill-opacity="0.85"/>
<path d="M511.60,69.00L530.00,69.00C530.00,113.90 615.20,113.90 615.20,158.80L633.60,158.80C633.60,113.90 511.60,113.90 511.60,69.00Z" fill="#E5BC40" fill-opacity="0.45"/>
<path d="M520.00,69.00L522.00,69.00C522.00,113.90 623.20,113.90 623.20,158.80L625.20,158.80C625.20,113.90 520.00,113.90 520.00,69.00Z" fill="#F5C06E" fill-opacity="0.7"/>
<path d="M532.00,69.00L533.50,69.00C533.50,113.90 611.70,113.90 611.70,158.80L613.20,158.80C613.20,113.90 532.00,113.90 532.00,69.00Z" fill="#F7D27A" fill-opacity="0.7"/>
<path d="M547.00,69.00L548.50,69.00C548.50,113.90 596.70,113.90 596.70,158.80L598.20,158.80C598.20,113.90 547.00,113.90 547.00,69.00Z" fill="#F0C080" fill-opacity="0.7"/>
<path d="M560.00,69.00L561.50,69.00C561.50,113.90 583.70,113.90 583.70,158.80L585.20,158.80C585.20,113.90 560.00,113.90 560.00,69.00Z" fill="#F7B070" fill-opacity="0.7"/>
<path d="M583.00,69.00L584.50,69.00C584.50,113.90 560.70,113.90 560.70,158.80L562.20,158.80C562.20,113.90 583.00,113.90 583.00,69.00Z" fill="#F5C070" fill-opacity="0.7"/>
<path d="M596.00,69.00L597.50,69.00C597.50,113.90 547.70,113.90 547.70,158.80L549.20,158.80C549.20,113.90 596.00,113.90 596.00,69.00Z" fill="#E9D070" fill-opacity="0.7"/>
<path d="M600.40,69.00L612.00,69.00C612.00,113.90 640.00,113.90 640.00,158.80L618.00,158.80C618.00,113.90 600.40,113.90 600.40,69.00Z" fill="#E6E3B5" fill-opacity="0.95"/>
<path d="M606.00,69.00L609.00,69.00C609.00,113.90 630.00,113.90 630.00,158.80L625.00,158.80C625.00,113.90 606.00,113.90 606.00,69.00Z" fill="#DDE3BF" fill-opacity="0.9"/>
<path d="M612.00,69.00L615.00,69.00C615.00,113.90 644.00,113.90 644.00,158.80L640.00,158.80C640.00,113.90 612.00,113.90 612.00,69.00Z" fill="#F4C07A" fill-opacity="0.9"/>
<path d="M612.80,69.00L619.80,69.00C619.80,113.90 655.80,113.90 655.80,158.80L643.00,158.80C643.00,113.90 612.80,113.90 612.80,69.00Z" fill="#F78A7E"/>
<path d="M475.10,65.70L484.52,65.70L485.52,67.50L484.52,69.30L475.10,69.30L476.10,67.50Z" fill="#2E8B2E"/>
<path d="M485.52,65.70L508.30,65.70L509.30,67.50L508.30,69.30L485.52,69.30L486.52,67.50Z" fill="#2E8B2E"/>
<path d="M510.00,65.70L519.70,65.70L520.70,67.50L519.70,69.30L510.00,69.30L511.00,67.50Z" fill="#2E8B2E"/>
<path d="M521.70,65.70L533.29,65.70L532.29,67.50L533.29,69.30L521.70,69.30L520.70,67.50Z" fill="#6A9BE8"/>
<path d="M534.29,65.70L550.21,65.70L549.21,67.50L550.21,69.30L534.29,69.30L533.29,67.50Z" fill="#6A9BE8"/>
<path d="M551.21,65.70L566.30,65.70L565.30,67.50L566.30,69.30L551.21,69.30L550.21,67.50Z" fill="#6A9BE8"/>
<path d="M567.30,65.70L586.03,65.70L585.03,67.50L586.03,69.30L567.30,69.30L566.30,67.50Z" fill="#6A9BE8"/>
<path d="M587.03,65.70L594.90,65.70L593.90,67.50L594.90,69.30L587.03,69.30L586.03,67.50Z" fill="#6A9BE8"/>
<path d="M594.90,65.70L603.59,65.70L604.59,67.50L603.59,69.30L594.90,69.30L595.90,67.50Z" fill="#2E8B2E"/>
<path d="M604.59,65.70L612.10,65.70L613.10,67.50L612.10,69.30L604.59,69.30L605.59,67.50Z" fill="#2E8B2E"/>
<path d="M613.10,65.70L618.50,65.70L619.50,67.50L618.50,69.30L613.10,69.30L614.10,67.50Z" fill="#2E8B2E"/>
<path d="M475.00,158.50L484.42,158.50L485.42,160.30L484.42,162.10L475.00,162.10L476.00,160.30Z" fill="#2E8B2E"/>
<path d="M485.42,158.50L507.67,158.50L508.67,160.30L507.67,162.10L485.42,162.10L486.42,160.30Z" fill="#2E8B2E"/>
<path d="M508.67,158.50L529.42,158.50L530.42,160.30L529.42,162.10L508.67,162.10L509.67,160.30Z" fill="#2E8B2E"/>
<path d="M530.42,158.50L542.01,158.50L543.01,160.30L542.01,162.10L530.42,162.10L531.42,160.30Z" fill="#2E8B2E"/>
<path d="M543.01,158.50L558.93,158.50L559.93,160.30L558.93,162.10L543.01,162.10L544.01,160.30Z" fill="#2E8B2E"/>
<path d="M559.93,158.50L575.02,158.50L576.02,160.30L575.02,162.10L559.93,162.10L560.93,160.30Z" fill="#2E8B2E"/>
<path d="M576.02,158.50L594.75,158.50L595.75,160.30L594.75,162.10L576.02,162.10L577.02,160.30Z" fill="#2E8B2E"/>
<path d="M595.75,158.50L616.95,158.50L617.95,160.30L616.95,162.10L595.75,162.10L596.75,160.30Z" fill="#2E8B2E"/>
<path d="M617.95,158.50L626.64,158.50L627.64,160.30L626.64,162.10L617.95,162.10L618.95,160.30Z" fill="#2E8B2E"/>
<path d="M627.64,158.50L635.15,158.50L636.15,160.30L635.15,162.10L627.64,162.10L628.64,160.30Z" fill="#2E8B2E"/>
<path d="M636.15,158.50L654.80,158.50L655.80,160.30L654.80,162.10L636.15,162.10L637.15,160.30Z" fill="#2E8B2E"/>
<text x="472.50" y="69.20" class="tl" text-anchor="end">chr3</text>
<text x="444.60" y="169.00" class="tl" textLength="36.0" lengthAdjust="spacingAndGlyphs">HG03732_1</text>
<text x="530.00" y="167.60" class="gn">MUC20A</text>
<text x="623.00" y="167.60" class="gn" style="fill:#C8262B">MUC20B</text>
<rect x="635" y="169.4" width="2.2" height="2.2" fill="#C8262B"/>
<rect x="543" y="169.6" width="1" height="1.6" fill="#666"/>
<line x1="475.00" y1="174.30" x2="655.30" y2="174.30" stroke="#333" stroke-width="0.6"/>
<line x1="485.40" y1="174.30" x2="485.40" y2="175.90" stroke="#333" stroke-width="0.5"/>
<text x="485.40" y="186.60" class="tk" text-anchor="middle">104.2</text>
<line x1="514.40" y1="174.30" x2="514.40" y2="175.90" stroke="#333" stroke-width="0.5"/>
<text x="514.40" y="186.60" class="tk" text-anchor="middle">104.3</text>
<line x1="543.30" y1="174.30" x2="543.30" y2="175.90" stroke="#333" stroke-width="0.5"/>
<text x="543.30" y="186.60" class="tk" text-anchor="middle">104.4</text>
<line x1="572.10" y1="174.30" x2="572.10" y2="175.90" stroke="#333" stroke-width="0.5"/>
<text x="572.10" y="186.60" class="tk" text-anchor="middle">104.5</text>
<line x1="601.00" y1="174.30" x2="601.00" y2="175.90" stroke="#333" stroke-width="0.5"/>
<text x="601.00" y="186.60" class="tk" text-anchor="middle">104.6</text>
<line x1="629.80" y1="174.30" x2="629.80" y2="175.90" stroke="#333" stroke-width="0.5"/>
<text x="629.80" y="186.60" class="tk" text-anchor="middle">104.7</text>
<text x="658.90" y="52.80" class="lg">Identity</text>
<rect x="658.90" y="55.20" width="5.10" height="5.25" fill="#8EC6DA"/>
<text x="667.20" y="60.35" class="lg" style="font-size:6.6px">&lt;90.8</text>
<rect x="658.90" y="60.75" width="5.10" height="5.25" fill="#A9D3E0"/>
<text x="667.20" y="65.90" class="lg" style="font-size:6.6px">93.4</text>
<rect x="658.90" y="66.30" width="5.10" height="5.25" fill="#BFD9DD"/>
<text x="667.20" y="71.45" class="lg" style="font-size:6.6px">94.7</text>
<rect x="658.90" y="71.85" width="5.10" height="5.25" fill="#CDE0D3"/>
<text x="667.20" y="77.00" class="lg" style="font-size:6.6px">96.3</text>
<rect x="658.90" y="77.40" width="5.10" height="5.25" fill="#DDE3BF"/>
<text x="667.20" y="82.55" class="lg" style="font-size:6.6px">98.2</text>
<rect x="658.90" y="82.95" width="5.10" height="5.25" fill="#EDE5A0"/>
<text x="667.20" y="88.10" class="lg" style="font-size:6.6px">99.1</text>
<rect x="658.90" y="88.50" width="5.10" height="5.25" fill="#F0D97E"/>
<text x="667.20" y="93.65" class="lg" style="font-size:6.6px">99.4</text>
<rect x="658.90" y="94.05" width="5.10" height="5.25" fill="#F2C477"/>
<text x="667.20" y="99.20" class="lg" style="font-size:6.6px">99.6</text>
<rect x="658.90" y="99.60" width="5.10" height="5.25" fill="#F4B67C"/>
<text x="667.20" y="104.75" class="lg" style="font-size:6.6px">99.7</text>
<rect x="658.90" y="105.15" width="5.10" height="5.25" fill="#F6A27C"/>
<text x="667.20" y="110.30" class="lg" style="font-size:6.6px">99.9</text>
<rect x="658.90" y="110.70" width="5.10" height="5.25" fill="#F78A7E"/>
<text x="667.20" y="115.85" class="lg" style="font-size:6.6px">&gt;99.9</text>
<text x="220.30" y="205.20" class="pl">d</text>
<text x="322.60" y="206.00" class="ttl" text-anchor="middle">Genomic position (Mb)</text>
<line x1="247.00" y1="225.70" x2="397.80" y2="225.70" stroke="#333" stroke-width="0.6"/>
<line x1="247.80" y1="225.70" x2="247.80" y2="224.10" stroke="#333" stroke-width="0.5"/>
<text x="247.80" y="220.50" class="tk" text-anchor="middle">16.0</text>
<line x1="274.00" y1="225.70" x2="274.00" y2="224.10" stroke="#333" stroke-width="0.5"/>
<text x="274.00" y="220.50" class="tk" text-anchor="middle">16.2</text>
<line x1="300.10" y1="225.70" x2="300.10" y2="224.10" stroke="#333" stroke-width="0.5"/>
<text x="300.10" y="220.50" class="tk" text-anchor="middle">16.4</text>
<line x1="326.20" y1="225.70" x2="326.20" y2="224.10" stroke="#333" stroke-width="0.5"/>
<text x="326.20" y="220.50" class="tk" text-anchor="middle">16.6</text>
<text x="243.80" y="234.50" class="tk" text-anchor="end">SD</text>
<rect x="248.0" y="231.1" width="1.9" height="2.1" fill="none" stroke="#666" stroke-width="0.45"/>
<rect x="250.5" y="231.1" width="2.5" height="2.1" fill="none" stroke="#555" stroke-width="0.45"/>
<rect x="253.9" y="231.1" width="3.0" height="2.1" fill="none" stroke="#888" stroke-width="0.45"/>
<rect x="257.5" y="231.1" width="1.9" height="2.1" fill="none" stroke="#888" stroke-width="0.45"/>
<rect x="260.2" y="231.1" width="2.4" height="2.1" fill="none" stroke="#888" stroke-width="0.45"/>
<rect x="263.5" y="231.1" width="1.8" height="2.1" fill="none" stroke="#666" stroke-width="0.45"/>
<rect x="266.3" y="231.1" width="2.4" height="2.1" fill="none" stroke="#555" stroke-width="0.45"/>
<rect x="269.6" y="231.1" width="1.6" height="2.1" fill="none" stroke="#555" stroke-width="0.45"/>
<rect x="271.8" y="231.1" width="1.6" height="2.1" fill="none" stroke="#777" stroke-width="0.45"/>
<rect x="274.1" y="231.1" width="2.7" height="2.1" fill="none" stroke="#888" stroke-width="0.45"/>
<rect x="277.7" y="231.1" width="3.1" height="2.1" fill="none" stroke="#888" stroke-width="0.45"/>
<rect x="281.8" y="231.1" width="2.5" height="2.1" fill="none" stroke="#666" stroke-width="0.45"/>
<rect x="285.3" y="231.1" width="1.7" height="2.1" fill="none" stroke="#666" stroke-width="0.45"/>
<rect x="287.7" y="231.1" width="1.9" height="2.1" fill="none" stroke="#888" stroke-width="0.45"/>
<rect x="290.7" y="231.1" width="3.0" height="2.1" fill="none" stroke="#888" stroke-width="0.45"/>
<rect x="294.4" y="231.1" width="2.2" height="2.1" fill="none" stroke="#777" stroke-width="0.45"/>
<rect x="297.3" y="231.1" width="2.2" height="2.1" fill="none" stroke="#666" stroke-width="0.45"/>
<rect x="300.6" y="231.1" width="2.7" height="2.1" fill="none" stroke="#555" stroke-width="0.45"/>
<rect x="304.4" y="231.1" width="3.2" height="2.1" fill="none" stroke="#666" stroke-width="0.45"/>
<rect x="308.5" y="231.1" width="2.1" height="2.1" fill="none" stroke="#555" stroke-width="0.45"/>
<rect x="311.5" y="231.1" width="1.9" height="2.1" fill="none" stroke="#777" stroke-width="0.45"/>
<rect x="313.9" y="231.1" width="1.6" height="2.1" fill="none" stroke="#888" stroke-width="0.45"/>
<rect x="315.9" y="231.1" width="2.9" height="2.1" fill="none" stroke="#888" stroke-width="0.45"/>
<rect x="319.8" y="231.1" width="1.5" height="2.1" fill="none" stroke="#888" stroke-width="0.45"/>
<rect x="322.4" y="231.1" width="3.0" height="2.1" fill="none" stroke="#555" stroke-width="0.45"/>
<rect x="326.2" y="231.1" width="2.8" height="2.1" fill="none" stroke="#888" stroke-width="0.45"/>
<rect x="329.9" y="231.1" width="2.1" height="2.1" fill="none" stroke="#777" stroke-width="0.45"/>
<rect x="332.8" y="231.1" width="3.2" height="2.1" fill="none" stroke="#777" stroke-width="0.45"/>
<rect x="258" y="231" width="10" height="2.3" fill="#666"/>
<text transform="translate(250.30,242.50) scale(0.92,1)" class="gn" textLength="52.4" lengthAdjust="spacingAndGlyphs">LOC124905693</text>
<text transform="translate(242.70,248.80) scale(0.92,1)" class="gn" textLength="52.4" lengthAdjust="spacingAndGlyphs">LOC124900386</text>
<text transform="translate(294.00,248.80) scale(0.92,1)" class="gn" textLength="52.4" lengthAdjust="spacingAndGlyphs">LOC124905556</text>
<text transform="translate(257.90,254.50) scale(0.92,1)" class="gn" textLength="52.4" lengthAdjust="spacingAndGlyphs">LOC124905564</text>
<text transform="translate(309.70,254.50) scale(0.92,1)" class="gn" textLength="52.4" lengthAdjust="spacingAndGlyphs">LOC124905699</text>
<text transform="translate(235.10,259.60) scale(0.92,1)" class="gn">NBPF1</text>
<text transform="translate(286.40,260.00) scale(0.92,1)" class="gn" textLength="52.4" lengthAdjust="spacingAndGlyphs">LOC124903857</text>
<text transform="translate(336.70,259.60) scale(0.92,1)" class="gn" textLength="52.4" lengthAdjust="spacingAndGlyphs">LOC128966598</text>
<rect x="248.5" y="261.2" width="4" height="2" fill="#333"/>
<rect x="253" y="261.2" width="1" height="2" fill="#333"/>
<rect x="258.8" y="261.2" width="0.6" height="2" fill="#333"/>
<rect x="262" y="261.2" width="0.6" height="2" fill="#333"/>
<rect x="265" y="261.2" width="1" height="2" fill="#333"/>
<rect x="268" y="261.2" width="3" height="2" fill="#333"/>
<rect x="284.6" y="261.2" width="0.5" height="2" fill="#333"/>
<rect x="288.5" y="261.2" width="0.5" height="2" fill="#333"/>
<rect x="307" y="261.2" width="0.5" height="2" fill="#333"/>
<rect x="328.5" y="261.2" width="2.5" height="2" fill="#333"/>
<path d="M247.00,268.00L268.50,268.00C268.50,310.80 268.50,310.80 268.50,353.60L247.00,353.60C247.00,310.80 247.00,310.80 247.00,268.00Z" fill="#F2C97E"/>
<path d="M269.00,268.00L272.60,268.00C272.60,310.80 272.00,310.80 272.00,353.60L269.00,353.60C269.00,310.80 269.00,310.80 269.00,268.00Z" fill="#C5DCD6" fill-opacity="0.95"/>
<path d="M276.00,268.00L286.60,268.00C286.60,310.80 282.50,310.80 282.50,353.60L272.60,353.60C272.60,310.80 276.00,310.80 276.00,268.00Z" fill="#F2A878" fill-opacity="0.95"/>
<path d="M300.00,268.00L308.80,268.00C308.80,310.80 302.40,310.80 302.40,353.60L293.00,353.60C293.00,310.80 300.00,310.80 300.00,268.00Z" fill="url(#gd2)" fill-opacity="0.85"/>
<path d="M317.00,268.00L321.00,268.00C321.00,310.80 314.00,310.80 314.00,353.60L302.40,353.60C302.40,310.80 317.00,310.80 317.00,268.00Z" fill="#CFDDCF" fill-opacity="0.85"/>
<path d="M308.80,268.00L317.00,268.00C317.00,310.80 334.30,310.80 334.30,353.60L314.00,353.60C314.00,310.80 308.80,310.80 308.80,268.00Z" fill="url(#gd1)" fill-opacity="0.92"/>
<path d="M287.00,268.00L293.00,268.00C293.00,310.80 350.40,310.80 350.40,353.60L334.30,353.60C334.30,310.80 287.00,310.80 287.00,268.00Z" fill="#D2DECC" fill-opacity="0.8"/>
<path d="M293.00,268.00L299.00,268.00C299.00,310.80 362.00,310.80 362.00,353.60L350.40,353.60C350.40,310.80 293.00,310.80 293.00,268.00Z" fill="#CCDCCF" fill-opacity="0.8"/>
<path d="M299.00,268.00L300.50,268.00C300.50,310.80 368.60,310.80 368.60,353.60L362.00,353.60C362.00,310.80 299.00,310.80 299.00,268.00Z" fill="#F5D590" fill-opacity="0.9"/>
<path d="M321.20,268.00L332.80,268.00C332.80,310.80 397.10,310.80 397.10,353.60L368.60,353.60C368.60,310.80 321.20,310.80 321.20,268.00Z" fill="#EAE3A6" fill-opacity="0.95"/>
<path d="M300.00,268.00L308.80,268.00C308.80,310.80 308.80,310.80 308.80,353.60L300.00,353.60C300.00,310.80 300.00,310.80 300.00,268.00Z" fill="#EDB030" fill-opacity="0.0"/>
<path d="M322.00,275.50L334.00,275.50C334.00,314.55 282.50,314.55 282.50,353.60L293.00,353.60C293.00,314.55 322.00,314.55 322.00,275.50Z" fill="#E9E0A0" fill-opacity="0.85"/>
<path d="M287.00,268.00L293.00,268.00C293.00,310.80 306.00,310.80 306.00,353.60L300.00,353.60C300.00,310.80 287.00,310.80 287.00,268.00Z" fill="#D5DFCB" fill-opacity="0.5"/>
<path d="M270,268.0 C270,310.8 292,310.8 292,353.6" fill="none" stroke="#8cc0d0" stroke-width="0.4"/>
<path d="M288,268.0 C288,310.8 330,310.8 330,353.6" fill="none" stroke="#8cc0d0" stroke-width="0.4"/>
<path d="M292,268.0 C292,310.8 338,310.8 338,353.6" fill="none" stroke="#8cc0d0" stroke-width="0.4"/>
<path d="M301,268.0 C301,310.8 352,310.8 352,353.6" fill="none" stroke="#8cc0d0" stroke-width="0.4"/>
<path d="M318,268.0 C318,310.8 360,310.8 360,353.6" fill="none" stroke="#8cc0d0" stroke-width="0.4"/>
<path d="M252,268.0 C252,310.8 300,310.8 300,353.6" fill="none" stroke="#d8a860" stroke-width="0.4"/>
<path d="M283,353 C285,300 330,300 333.5,275" fill="none" stroke="#6d7d6d" stroke-width="0.4"/>
<path d="M262,353 C264,300 328,300 332,268" fill="none" stroke="#6d7d6d" stroke-width="0.35"/>
<path d="M301,268 C303,320 330,300 335,353" fill="none" stroke="#6d7d6d" stroke-width="0.35"/>
<path d="M247.00,264.60L256.42,264.60L257.42,266.40L256.42,268.20L247.00,268.20L248.00,266.40Z" fill="#2E8B2E"/>
<path d="M257.42,264.60L268.20,264.60L269.20,266.40L268.20,268.20L257.42,268.20L258.42,266.40Z" fill="#2E8B2E"/>
<path d="M272.70,264.60L286.90,264.60L287.90,266.40L286.90,268.20L272.70,268.20L273.70,266.40Z" fill="#2E8B2E"/>
<path d="M289.00,264.60L296.20,264.60L297.20,266.40L296.20,268.20L289.00,268.20L290.00,266.40Z" fill="#2E8B2E"/>
<path d="M299.40,264.60L315.32,264.60L314.32,266.40L315.32,268.20L299.40,268.20L298.40,266.40Z" fill="#6A9BE8"/>
<path d="M316.32,264.60L320.60,264.60L319.60,266.40L320.60,268.20L316.32,268.20L315.32,266.40Z" fill="#6A9BE8"/>
<path d="M320.60,264.60L331.30,264.60L332.30,266.40L331.30,268.20L320.60,268.20L321.60,266.40Z" fill="#2E8B2E"/>
<path d="M332.30,274.10L333.25,274.10L334.20,275.20L333.25,276.30L332.30,276.30L333.25,275.20Z" fill="#2E8B2E"/>
<path d="M247.00,353.30L256.42,353.30L257.42,355.10L256.42,356.90L247.00,356.90L248.00,355.10Z" fill="#2E8B2E"/>
<path d="M257.42,353.30L279.67,353.30L280.67,355.10L279.67,356.90L257.42,356.90L258.42,355.10Z" fill="#2E8B2E"/>
<path d="M280.67,353.30L301.42,353.30L302.42,355.10L301.42,356.90L280.67,356.90L281.67,355.10Z" fill="#2E8B2E"/>
<path d="M302.42,353.30L314.01,353.30L315.01,355.10L314.01,356.90L302.42,356.90L303.42,355.10Z" fill="#2E8B2E"/>
<path d="M315.01,353.30L330.93,353.30L331.93,355.10L330.93,356.90L315.01,356.90L316.01,355.10Z" fill="#2E8B2E"/>
<path d="M331.93,353.30L347.02,353.30L348.02,355.10L347.02,356.90L331.93,356.90L332.93,355.10Z" fill="#2E8B2E"/>
<path d="M348.02,353.30L366.75,353.30L367.75,355.10L366.75,356.90L348.02,356.90L349.02,355.10Z" fill="#2E8B2E"/>
<path d="M367.75,353.30L388.95,353.30L389.95,355.10L388.95,356.90L367.75,356.90L368.75,355.10Z" fill="#2E8B2E"/>
<path d="M389.95,353.30L396.70,353.30L397.70,355.10L396.70,356.90L389.95,356.90L390.95,355.10Z" fill="#2E8B2E"/>
<text x="334.50" y="277.50" class="tl">chr10</text>
<text x="244.60" y="269.30" class="tl" text-anchor="end">chr1</text>
<text x="207.60" y="363.60" class="tl" textLength="38.2" lengthAdjust="spacingAndGlyphs">HG03098_1</text>
<text x="282.20" y="361.80" class="gn" style="fill:#C8262B">novel NBPF1</text>
<rect x="303.3" y="364" width="5.5" height="2.2" fill="#C8262B"/>
<text x="245.30" y="373.10" class="tl" text-anchor="end">Liftoff</text>
<line x1="248" y1="370.1" x2="256" y2="370.1" stroke="#555" stroke-width="0.45"/>
<rect x="250.5" y="369" width="1.8" height="2.2" fill="#333"/>
<rect x="253" y="369" width="2" height="2.2" fill="#333"/>
<rect x="264.2" y="369" width="0.6" height="2.2" fill="#333"/>
<rect x="269" y="369" width="0.6" height="2.2" fill="#333"/>
<rect x="271.5" y="369" width="0.6" height="2.2" fill="#333"/>
<rect x="282.8" y="369" width="0.6" height="2.2" fill="#333"/>
<rect x="292" y="369" width="0.6" height="2.2" fill="#333"/>
<rect x="298" y="369" width="0.6" height="2.2" fill="#333"/>
<rect x="308.8" y="369" width="0.6" height="2.2" fill="#333"/>
<rect x="325.7" y="369" width="0.6" height="2.2" fill="#333"/>
<rect x="350.2" y="369" width="0.6" height="2.2" fill="#333"/>
<rect x="359.4" y="369" width="0.6" height="2.2" fill="#333"/>
<rect x="368.6" y="369" width="0.6" height="2.2" fill="#333"/>
<rect x="380.9" y="369" width="0.6" height="2.2" fill="#333"/>
<rect x="391" y="369" width="2" height="2.2" fill="#333"/>
<rect x="393.6" y="369" width="2" height="2.2" fill="#333"/>
<line x1="389" y1="370.1" x2="397" y2="370.1" stroke="#555" stroke-width="0.45"/>
<line x1="247.00" y1="375.70" x2="397.70" y2="375.70" stroke="#333" stroke-width="0.6"/>
<line x1="259.20" y1="375.70" x2="259.20" y2="377.30" stroke="#333" stroke-width="0.5"/>
<text x="259.20" y="387.40" class="tk" text-anchor="middle">6.4</text>
<line x1="284.90" y1="375.70" x2="284.90" y2="377.30" stroke="#333" stroke-width="0.5"/>
<text x="284.90" y="387.40" class="tk" text-anchor="middle">6.6</text>
<line x1="311.00" y1="375.70" x2="311.00" y2="377.30" stroke="#333" stroke-width="0.5"/>
<text x="311.00" y="387.40" class="tk" text-anchor="middle">6.8</text>
<line x1="337.60" y1="375.70" x2="337.60" y2="377.30" stroke="#333" stroke-width="0.5"/>
<text x="337.60" y="387.40" class="tk" text-anchor="middle">7.0</text>
<line x1="364.00" y1="375.70" x2="364.00" y2="377.30" stroke="#333" stroke-width="0.5"/>
<text x="364.00" y="387.40" class="tk" text-anchor="middle">7.2</text>
<line x1="390.10" y1="375.70" x2="390.10" y2="377.30" stroke="#333" stroke-width="0.5"/>
<text x="390.10" y="387.40" class="tk" text-anchor="middle">7.4</text>
<text x="401.00" y="239.50" class="lg">Identity</text>
<rect x="401.00" y="241.80" width="5.10" height="5.23" fill="#97C9DA"/>
<text x="409.90" y="246.94" class="lg" style="font-size:6.6px">&lt;97.3</text>
<rect x="401.00" y="247.33" width="5.10" height="5.23" fill="#A8D1DE"/>
<text x="409.90" y="252.47" class="lg" style="font-size:6.6px">98.7</text>
<rect x="401.00" y="252.86" width="5.10" height="5.23" fill="#BCD8DA"/>
<text x="409.90" y="258.00" class="lg" style="font-size:6.6px">98.9</text>
<rect x="401.00" y="258.39" width="5.10" height="5.23" fill="#CADDCF"/>
<text x="409.90" y="263.53" class="lg" style="font-size:6.6px">99.1</text>
<rect x="401.00" y="263.92" width="5.10" height="5.23" fill="#DCE0B8"/>
<text x="409.90" y="269.06" class="lg" style="font-size:6.6px">99.3</text>
<rect x="401.00" y="269.45" width="5.10" height="5.23" fill="#EAE2A2"/>
<text x="409.90" y="274.59" class="lg" style="font-size:6.6px">99.5</text>
<rect x="401.00" y="274.98" width="5.10" height="5.23" fill="#EFD88A"/>
<text x="409.90" y="280.12" class="lg" style="font-size:6.6px">99.6</text>
<rect x="401.00" y="280.51" width="5.10" height="5.23" fill="#F2C97E"/>
<text x="409.90" y="285.65" class="lg" style="font-size:6.6px">99.7</text>
<rect x="401.00" y="286.04" width="5.10" height="5.23" fill="#F4B87E"/>
<text x="409.90" y="291.18" class="lg" style="font-size:6.6px">99.8</text>
<rect x="401.00" y="291.57" width="5.10" height="5.23" fill="#F4A77F"/>
<text x="409.90" y="296.71" class="lg" style="font-size:6.6px">99.9</text>
<rect x="401.00" y="297.10" width="5.10" height="5.23" fill="#F58A7E"/>
<text x="409.90" y="302.24" class="lg" style="font-size:6.6px">&gt;99.9</text>
<text x="457.60" y="205.00" class="pl">e</text>
<text x="580.00" y="210.00" class="ttl" text-anchor="middle">Genomic position (Mb)</text>
<line x1="504.60" y1="230.10" x2="655.60" y2="230.10" stroke="#333" stroke-width="0.6"/>
<line x1="504.60" y1="230.10" x2="504.60" y2="228.50" stroke="#333" stroke-width="0.5"/>
<text x="504.60" y="224.20" class="tk" text-anchor="middle">145.4</text>
<line x1="542.50" y1="230.10" x2="542.50" y2="228.50" stroke="#333" stroke-width="0.5"/>
<text x="542.50" y="224.20" class="tk" text-anchor="middle">145.5</text>
<line x1="580.10" y1="230.10" x2="580.10" y2="228.50" stroke="#333" stroke-width="0.5"/>
<text x="580.10" y="224.20" class="tk" text-anchor="middle">145.6</text>
<text x="501.50" y="238.90" class="tk" text-anchor="end">SD</text>
<line x1="502.5" y1="236.6" x2="503.8" y2="236.6" stroke="#555" stroke-width="0.5"/>
<path d="M527,235.6 L529,236.6 L527,237.6Z M530,235.6 L532,236.6 L530,237.6Z M535,235.6 L536.5,236.6 L535,237.6Z M555,235.6 L557,236.6 L555,237.6Z M584,235.6 L586,236.6 L584,237.6Z" fill="none" stroke="#555" stroke-width="0.45"/>
<line x1="542.5" y1="235.3" x2="542.5" y2="238" stroke="#666" stroke-width="0.5"/>
<text transform="translate(515.50,245.20) scale(0.92,1)" class="gn">CTAGE4</text>
<text transform="translate(557.80,245.20) scale(0.92,1)" class="gn">NOBOX</text>
<text transform="translate(497.40,251.30) scale(0.92,1)" class="gn">ARHGEF35</text>
<text transform="translate(536.30,251.30) scale(0.92,1)" class="gn">ARHGEF5</text>
<text transform="translate(479.90,257.50) scale(0.92,1)" class="gn">OR2A14</text>
<text transform="translate(528.70,257.50) scale(0.92,1)" class="gn">OR2A1</text>
<text transform="translate(560.90,257.50) scale(0.92,1)" class="gn">OR2A4</text>
<text transform="translate(585.30,257.00) scale(0.92,1)" class="gn">CTAGE9</text>
<rect x="506.5" y="259.8" width="0.5" height="2" fill="#333"/>
<rect x="529" y="259.8" width="1.3" height="2" fill="#333"/>
<rect x="542.5" y="259.8" width="0.5" height="2" fill="#333"/>
<rect x="558" y="259.8" width="4" height="2" fill="#333"/>
<rect x="563" y="259.8" width="2" height="2" fill="#333"/>
<rect x="573" y="259.8" width="3" height="2" fill="#333"/>
<rect x="577" y="259.8" width="1" height="2" fill="#333"/>
<rect x="585" y="259.8" width="0.5" height="2" fill="#333"/>
<rect x="588" y="259.8" width="0.5" height="2" fill="#333"/>
<path d="M504.40,266.40L532.70,266.40C532.70,309.35 532.70,309.35 532.70,352.30L504.40,352.30C504.40,309.35 504.40,309.35 504.40,266.40Z" fill="#F5AE7E"/>
<path d="M533.50,266.40L548.40,266.40C548.40,309.35 591.80,309.35 591.80,352.30L569.50,352.30C569.50,309.35 533.50,309.35 533.50,266.40Z" fill="#DAD790" fill-opacity="0.8"/>
<path d="M548.40,266.40L553.30,266.40C553.30,309.35 533.50,309.35 533.50,352.30L539.70,352.30C539.70,309.35 548.40,309.35 548.40,266.40Z" fill="#B5D8DC" fill-opacity="0.85"/>
<path d="M556.00,266.40L564.50,266.40C564.50,309.35 539.70,309.35 539.70,352.30L555.00,352.30C555.00,309.35 556.00,309.35 556.00,266.40Z" fill="#E6DC9A" fill-opacity="0.85"/>
<path d="M553.30,266.40L558.00,266.40C558.00,309.35 569.50,309.35 569.50,352.30L563.30,352.30C563.30,309.35 553.30,309.35 553.30,266.40Z" fill="#CCDFD2" fill-opacity="0.8"/>
<path d="M545.00,266.40L556.00,266.40C556.00,309.35 624.00,309.35 624.00,352.30L598.70,352.30C598.70,309.35 545.00,309.35 545.00,266.40Z" fill="#D6E0CC" fill-opacity="0.7"/>
<path d="M564.50,266.40L580.60,266.40C580.60,309.35 655.00,309.35 655.00,352.30L624.00,352.30C624.00,309.35 564.50,309.35 564.50,266.40Z" fill="#EFDA8E" fill-opacity="0.92"/>
<path d="M533.50,266.40L545.00,266.40C545.00,309.35 545.00,309.35 545.00,352.30L533.50,352.30C533.50,309.35 533.50,309.35 533.50,266.40Z" fill="#E2DC9C" fill-opacity="0.0"/>
<rect x="533.5" y="266.4" width="47" height="5" fill="#D8D488" fill-opacity="0.35"/>
<path d="M580.60,274.00L586.30,274.00C586.30,313.15 563.30,313.15 563.30,352.30L557.00,352.30C557.00,313.15 580.60,313.15 580.60,274.00Z" fill="url(#ge1)" fill-opacity="0.9"/>
<path d="M580.60,274.00L586.30,274.00C586.30,313.15 598.70,313.15 598.70,352.30L593.00,352.30C593.00,313.15 580.60,313.15 580.60,274.00Z" fill="url(#ge2)" fill-opacity="0.9"/>
<path d="M535,272 C540,320 555,320 560,352" fill="none" stroke="#E57060" stroke-width="0.4"/>
<path d="M504.60,263.10L514.02,263.10L515.02,264.90L514.02,266.70L504.60,266.70L505.60,264.90Z" fill="#2E8B2E"/>
<path d="M515.02,263.10L529.00,263.10L530.00,264.90L529.00,266.70L515.02,266.70L516.02,264.90Z" fill="#2E8B2E"/>
<path d="M531.00,263.10L545.00,263.10L546.00,264.90L545.00,266.70L531.00,266.70L532.00,264.90Z" fill="#2E8B2E"/>
<path d="M547.00,263.10L548.00,263.10L547.00,264.90L548.00,266.70L547.00,266.70L546.00,264.90Z" fill="#6A9BE8"/>
<path d="M548.00,263.10L555.00,263.10L556.00,264.90L555.00,266.70L548.00,266.70L549.00,264.90Z" fill="#2E8B2E"/>
<path d="M557.00,263.10L566.00,263.10L565.00,264.90L566.00,266.70L557.00,266.70L556.00,264.90Z" fill="#6A9BE8"/>
<path d="M566.00,263.10L579.60,263.10L580.60,264.90L579.60,266.70L566.00,266.70L567.00,264.90Z" fill="#2E8B2E"/>
<path d="M580.60,271.10L585.80,271.10L586.80,272.30L585.80,273.50L580.60,273.50L581.60,272.30Z" fill="#2E8B2E"/>
<path d="M504.40,352.00L513.82,352.00L514.82,353.80L513.82,355.60L504.40,355.60L505.40,353.80Z" fill="#2E8B2E"/>
<path d="M514.82,352.00L537.07,352.00L538.07,353.80L537.07,355.60L514.82,355.60L515.82,353.80Z" fill="#2E8B2E"/>
<path d="M538.07,352.00L558.82,352.00L559.82,353.80L558.82,355.60L538.07,355.60L539.07,353.80Z" fill="#2E8B2E"/>
<path d="M559.82,352.00L571.41,352.00L572.41,353.80L571.41,355.60L559.82,355.60L560.82,353.80Z" fill="#2E8B2E"/>
<path d="M572.41,352.00L588.33,352.00L589.33,353.80L588.33,355.60L572.41,355.60L573.41,353.80Z" fill="#2E8B2E"/>
<path d="M589.33,352.00L604.42,352.00L605.42,353.80L604.42,355.60L589.33,355.60L590.33,353.80Z" fill="#2E8B2E"/>
<path d="M605.42,352.00L624.15,352.00L625.15,353.80L624.15,355.60L605.42,355.60L606.42,353.80Z" fill="#2E8B2E"/>
<path d="M625.15,352.00L646.35,352.00L647.35,353.80L646.35,355.60L625.15,355.60L626.15,353.80Z" fill="#2E8B2E"/>
<path d="M647.35,352.00L654.10,352.00L655.10,353.80L654.10,355.60L647.35,355.60L648.35,353.80Z" fill="#2E8B2E"/>
<text x="503.10" y="266.50" class="tl" text-anchor="end">chr7</text>
<text x="588.80" y="275.30" class="tl">chr6</text>
<text x="468.50" y="362.00" class="tl" textLength="33.6" lengthAdjust="spacingAndGlyphs">HG01123_1</text>
<text x="535.90" y="361.20" class="gn" style="fill:#C8262B;font-size:6.9px">novel CTAGE</text>
<rect x="550" y="363.5" width="1" height="2" fill="#C8262B"/>
<text x="502.00" y="371.80" class="tl" text-anchor="end">Liftoff</text>
<line x1="504.4" y1="369.3" x2="508" y2="369.3" stroke="#666" stroke-width="0.45"/>
<rect x="505.0" y="368.3" width="1.6" height="2" fill="none" stroke="#555" stroke-width="0.45"/>
<line x1="508" y1="368.3" x2="508" y2="370.3" stroke="#555" stroke-width="0.45"/>
<line x1="527.6" y1="369.3" x2="533.7" y2="369.3" stroke="#666" stroke-width="0.45"/>
<rect x="528.2" y="368.3" width="1.6" height="2" fill="none" stroke="#555" stroke-width="0.45"/>
<line x1="533.7" y1="368.3" x2="533.7" y2="370.3" stroke="#555" stroke-width="0.45"/>
<line x1="544.4" y1="369.3" x2="549" y2="369.3" stroke="#666" stroke-width="0.45"/>
<rect x="545.0" y="368.3" width="1.6" height="2" fill="none" stroke="#555" stroke-width="0.45"/>
<line x1="549" y1="368.3" x2="549" y2="370.3" stroke="#555" stroke-width="0.45"/>
<line x1="557.3" y1="369.3" x2="561.6" y2="369.3" stroke="#666" stroke-width="0.45"/>
<rect x="557.9" y="368.3" width="1.6" height="2" fill="none" stroke="#555" stroke-width="0.45"/>
<line x1="561.6" y1="368.3" x2="561.6" y2="370.3" stroke="#555" stroke-width="0.45"/>
<line x1="582.3" y1="369.3" x2="586.6" y2="369.3" stroke="#666" stroke-width="0.45"/>
<rect x="582.9" y="368.3" width="1.6" height="2" fill="none" stroke="#555" stroke-width="0.45"/>
<line x1="586.6" y1="368.3" x2="586.6" y2="370.3" stroke="#555" stroke-width="0.45"/>
<line x1="593" y1="369.3" x2="597.4" y2="369.3" stroke="#666" stroke-width="0.45"/>
<rect x="593.6" y="368.3" width="1.6" height="2" fill="none" stroke="#555" stroke-width="0.45"/>
<line x1="597.4" y1="368.3" x2="597.4" y2="370.3" stroke="#555" stroke-width="0.45"/>
<line x1="614.5" y1="369.3" x2="618" y2="369.3" stroke="#666" stroke-width="0.45"/>
<rect x="615.1" y="368.3" width="1.6" height="2" fill="none" stroke="#555" stroke-width="0.45"/>
<line x1="618" y1="368.3" x2="618" y2="370.3" stroke="#555" stroke-width="0.45"/>
<line x1="628.8" y1="369.3" x2="640.3" y2="369.3" stroke="#666" stroke-width="0.45"/>
<rect x="632" y="368.2" width="1.3" height="2.2" fill="#333"/>
<rect x="634" y="368.2" width="1.3" height="2.2" fill="#333"/>
<rect x="636" y="368.2" width="1.3" height="2.2" fill="#333"/>
<rect x="638" y="368.2" width="1.3" height="2.2" fill="#333"/>
<line x1="646.7" y1="369.3" x2="651.7" y2="369.3" stroke="#666" stroke-width="0.45"/>
<rect x="648.5" y="368.2" width="2.2" height="2.2" fill="#333"/>
<line x1="504.40" y1="374.60" x2="655.10" y2="374.60" stroke="#333" stroke-width="0.6"/>
<line x1="515.10" y1="374.60" x2="515.10" y2="376.20" stroke="#333" stroke-width="0.5"/>
<text x="515.10" y="386.10" class="tk" text-anchor="middle">80.7</text>
<line x1="553.70" y1="374.60" x2="553.70" y2="376.20" stroke="#333" stroke-width="0.5"/>
<text x="553.70" y="386.10" class="tk" text-anchor="middle">80.8</text>
<line x1="591.00" y1="374.60" x2="591.00" y2="376.20" stroke="#333" stroke-width="0.5"/>
<text x="591.00" y="386.10" class="tk" text-anchor="middle">80.9</text>
<line x1="628.80" y1="374.60" x2="628.80" y2="376.20" stroke="#333" stroke-width="0.5"/>
<text x="628.80" y="386.10" class="tk" text-anchor="middle">81.0</text>
<text x="656.00" y="265.10" class="lg">Identity</text>
<rect x="656.00" y="267.00" width="5.10" height="5.24" fill="#B5D8DC"/>
<text x="664.90" y="272.15" class="lg" style="font-size:6.6px">99.3</text>
<rect x="656.00" y="272.54" width="5.10" height="5.24" fill="#CCDFD2"/>
<text x="664.90" y="277.69" class="lg" style="font-size:6.6px">99.6</text>
<rect x="656.00" y="278.08" width="5.10" height="5.24" fill="#E0E2B8"/>
<text x="664.90" y="283.23" class="lg" style="font-size:6.6px">99.7</text>
<rect x="656.00" y="283.62" width="5.10" height="5.24" fill="#EFD98A"/>
<text x="664.90" y="288.77" class="lg" style="font-size:6.6px">99.8</text>
<rect x="656.00" y="289.16" width="5.10" height="5.24" fill="#F5AE7E"/>
<text x="664.90" y="294.31" class="lg" style="font-size:6.6px">100</text>
<text x="220.60" y="412.30" class="pl">f</text>
<text x="482.50" y="411.60" class="ttl" text-anchor="middle">Genomic position (Mb)</text>
<text x="391.10" y="416.80" class="tl" text-anchor="end">chr19</text>
<line x1="394.7" y1="415.4" x2="570.3" y2="415.4" stroke="#444" stroke-width="0.5"/>
<line x1="394.7" y1="415.4" x2="394.7" y2="417.6" stroke="#444" stroke-width="0.5"/>
<text x="395.50" y="427.20" class="tl" text-anchor="middle">21.66</text>
<line x1="430.6" y1="415.4" x2="430.6" y2="417.6" stroke="#444" stroke-width="0.5"/>
<text x="431.40" y="427.20" class="tl" text-anchor="middle">21.68</text>
<line x1="463.4" y1="415.4" x2="463.4" y2="417.6" stroke="#444" stroke-width="0.5"/>
<text x="464.20" y="427.20" class="tl" text-anchor="middle">21.70</text>
<line x1="498.1" y1="415.4" x2="498.1" y2="417.6" stroke="#444" stroke-width="0.5"/>
<text x="498.90" y="427.20" class="tl" text-anchor="middle">21.72</text>
<line x1="535.0" y1="415.4" x2="535.0" y2="417.6" stroke="#444" stroke-width="0.5"/>
<text x="535.80" y="427.20" class="tl" text-anchor="middle">21.74</text>
<line x1="570.3" y1="415.4" x2="570.3" y2="417.6" stroke="#444" stroke-width="0.5"/>
<text x="571.10" y="427.20" class="tl" text-anchor="middle">21.76</text>
<path d="M440.7,432.55 L570.6,432.55 C570.6,455.6 599,455.6 599,479.5 L458,479.5 C456.5,449.5 419.3,460.4 440.7,432.55 Z" fill="#EE9440"/>
<path d="M429.4,432.55 L440.7,432.55 C419.3,460.4 456.5,449.5 458,479.5 L445.3,479.5 C443.6,446.0 414.1,462.3 429.4,432.55 Z" fill="#EFCF7E"/>
<path d="M430.4,432.55 L440.7,432.55 C437,438 434,441 432,443.5 C430,440 430,436 430.4,432.55 Z" fill="#EEB53A"/>
<path d="M421.2,432.55 C419.2,461.8 445.8,450.0 444.7,479.5" fill="none" stroke="#A9CFDA" stroke-width="1.4"/>
<path d="M397,432.55 L422.8,432.55 C406,460 340.8,448.4 322.4,479.5 L288.5,479.5 C319.8,453 363.9,454.4 397,432.55 Z" fill="#F0533D"/>
<path d="M429.8,432.55 C413.8,460 357.5,448.4 339.5,479.5" fill="none" stroke="#F3E3B8" stroke-width="0.8"/>
<path d="M432.0,432.55 C416.0,460 359.8,448.4 341.8,479.5" fill="none" stroke="#E9CF88" stroke-width="0.7"/>
<path d="M434.2,432.55 C418.2,460 362.1,448.4 344.1,479.5" fill="none" stroke="#F5E8C4" stroke-width="0.8"/>
<path d="M436.40000000000003,432.55 C420.40000000000003,460 364.4,448.4 346.4,479.5" fill="none" stroke="#EBD28E" stroke-width="0.7"/>
<path d="M438.6,432.55 C422.6,460 366.7,448.4 348.7,479.5" fill="none" stroke="#F0DCA8" stroke-width="0.8"/>
<path d="M422.5,432.55 L429.6,432.55 C428,437 421,441 410,445.8 C415,441 420,437 422.5,432.55 Z" fill="#F0533D"/>
<path d="M417.5,432.55 C416,437 413,440 410,442.5" fill="none" stroke="#fff" stroke-width="0.5"/>
<path d="M420,432.55 C419,437 416,440 413,442" fill="none" stroke="#fff" stroke-width="0.5"/>
<text x="402.40" y="463.10" class="ttl" text-anchor="middle" style="font-style:italic;font-size:8.6px">novel <tspan font-style="italic">ZNF</tspan></text>
<text x="405.50" y="471.90" class="lg" text-anchor="middle" style="font-size:6.8px">Brain, ovary, cartilage, granuloma, iPSC, TSC</text>
<path d="M289.20,480.90L347.80,480.90C347.80,504.47 350.40,504.47 350.40,528.05L289.20,528.05C289.20,504.47 289.20,504.47 289.20,480.90Z" fill="#E8B545"/>
<path d="M347.80,480.90L357.50,480.90C357.50,504.47 361.50,504.47 361.50,528.05L352.30,528.05C352.30,504.47 347.80,504.47 347.80,480.90Z" fill="#8EC3D0"/>
<path d="M357.50,480.90L372.00,480.90C372.00,504.47 378.50,504.47 378.50,528.05L361.50,528.05C361.50,504.47 357.50,504.47 357.50,480.90Z" fill="#DDD57A"/>
<path d="M372.00,480.90L399.50,480.90C399.50,504.47 400.00,504.47 400.00,528.05L378.50,528.05C378.50,504.47 372.00,504.47 372.00,480.90Z" fill="#EBCB55"/>
<path d="M403.50,480.90L448.70,480.90C448.70,504.47 448.70,504.47 448.70,528.05L404.00,528.05C404.00,504.47 403.50,504.47 403.50,480.90Z" fill="#E9C44A"/>
<path d="M448.70,480.90L468.60,480.90C468.60,504.47 466.00,504.47 466.00,528.05L446.00,528.05C446.00,504.47 448.70,504.47 448.70,480.90Z" fill="#EFD98A"/>
<path d="M481.00,480.90L505.80,480.90C505.80,504.47 505.80,504.47 505.80,528.05L481.00,528.05C481.00,504.47 481.00,504.47 481.00,480.90Z" fill="#EDD055"/>
<path d="M505.80,480.90L530.60,480.90C530.60,504.47 530.60,504.47 530.60,528.05L505.80,528.05C505.80,504.47 505.80,504.47 505.80,480.90Z" fill="#DCD47C"/>
<path d="M530.60,480.90L550.50,480.90C550.50,504.47 550.50,504.47 550.50,528.05L530.60,528.05C530.60,504.47 530.60,504.47 530.60,480.90Z" fill="#8EC3D0"/>
<path d="M553.00,480.90L575.30,480.90C575.30,504.47 575.30,504.47 575.30,528.05L553.00,528.05C553.00,504.47 553.00,504.47 553.00,480.90Z" fill="#E8C548"/>
<path d="M575.30,480.90L576.80,480.90C576.80,504.47 576.80,504.47 576.80,528.05L575.30,528.05C575.30,504.47 575.30,504.47 575.30,480.90Z" fill="#8EC3D0"/>
<path d="M576.80,480.90L599.30,480.90C599.30,504.47 596.70,504.47 596.70,528.05L576.80,528.05C576.80,504.47 576.80,504.47 576.80,480.90Z" fill="#B5CDA8"/>
<path d="M314.00,480.90L328.60,480.90C328.60,504.47 460.00,504.47 460.00,528.05L448.00,528.05C448.00,504.47 314.00,504.47 314.00,480.90Z" fill="#E3A919" fill-opacity="0.42"/>
<path d="M452.00,480.90L466.00,480.90C466.00,504.47 348.00,504.47 348.00,528.05L338.00,528.05C338.00,504.47 452.00,504.47 452.00,480.90Z" fill="#D9D2B0" fill-opacity="0.3"/>
<path d="M314,480.9 C314,504.47499999999997 448,504.47499999999997 448,528.05" fill="none" stroke="#c4c2b6" stroke-width="0.7"/>
<path d="M328.6,480.9 C328.6,504.47499999999997 460,504.47499999999997 460,528.05" fill="none" stroke="#c4c2b6" stroke-width="0.7"/>
<path d="M452,480.9 C452,504.47499999999997 338,504.47499999999997 338,528.05" fill="none" stroke="#c4c2b6" stroke-width="1.1"/>
<path d="M466,480.9 C466,504.47499999999997 348,504.47499999999997 348,528.05" fill="none" stroke="#c4c2b6" stroke-width="1.1"/>
<path d="M372,480.9 C372,504.47499999999997 372.5,504.47499999999997 372.5,528.05" fill="none" stroke="#d0c8a0" stroke-width="0.4"/>
<path d="M385,480.9 C385,504.47499999999997 385.5,504.47499999999997 385.5,528.05" fill="none" stroke="#d0c8a0" stroke-width="0.4"/>
<path d="M399.5,480.9 C399.5,504.47499999999997 400.0,504.47499999999997 400.0,528.05" fill="none" stroke="#d0c8a0" stroke-width="0.4"/>
<path d="M448.7,480.9 C448.7,504.47499999999997 449.2,504.47499999999997 449.2,528.05" fill="none" stroke="#d0c8a0" stroke-width="0.4"/>
<path d="M289.20,529.45L349.50,529.45C349.50,552.98 349.50,552.98 349.50,576.50L289.20,576.50C289.20,552.98 289.20,552.98 289.20,529.45Z" fill="#B5CDA8"/>
<path d="M349.50,529.45L379.30,529.45C379.30,552.98 379.30,552.98 379.30,576.50L349.50,576.50C349.50,552.98 349.50,552.98 349.50,529.45Z" fill="#EDCF55"/>
<path d="M379.30,529.45L401.60,529.45C401.60,552.98 401.60,552.98 401.60,576.50L379.30,576.50C379.30,552.98 379.30,552.98 379.30,529.45Z" fill="#D9C96F"/>
<path d="M401.60,529.45L437.70,529.45C437.70,552.98 437.70,552.98 437.70,576.50L401.60,576.50C401.60,552.98 401.60,552.98 401.60,529.45Z" fill="#E8C548"/>
<path d="M437.70,529.45L465.30,529.45C465.30,552.98 479.00,552.98 479.00,576.50L437.70,576.50C437.70,552.98 437.70,552.98 437.70,529.45Z" fill="#F0DC8E"/>
<path d="M482.00,529.45L488.00,529.45C488.00,552.98 506.60,552.98 506.60,576.50L502.00,576.50C502.00,552.98 482.00,552.98 482.00,529.45Z" fill="#E9C44A"/>
<path d="M488.00,529.45L531.00,529.45C531.00,552.98 551.00,552.98 551.00,576.50L506.60,576.50C506.60,552.98 488.00,552.98 488.00,529.45Z" fill="#DCD47C"/>
<path d="M531.00,529.45L551.00,529.45C551.00,552.98 571.00,552.98 571.00,576.50L551.00,576.50C551.00,552.98 531.00,552.98 531.00,529.45Z" fill="#8EC3D0"/>
<path d="M551.00,529.45L572.50,529.45C572.50,552.98 592.50,552.98 592.50,576.50L574.00,576.50C574.00,552.98 551.00,552.98 551.00,529.45Z" fill="#DCD47C"/>
<path d="M574.00,529.45L597.00,529.45C597.00,552.98 619.50,552.98 619.50,576.50L592.50,576.50C592.50,552.98 574.00,552.98 574.00,529.45Z" fill="#B5CDA8"/>
<path d="M349.5,529.45 C349.5,552.975 349.8,552.975 349.8,576.5" fill="none" stroke="#d4cca0" stroke-width="0.4"/>
<path d="M379.3,529.45 C379.3,552.975 379.6,552.975 379.6,576.5" fill="none" stroke="#d4cca0" stroke-width="0.4"/>
<path d="M401.6,529.45 C401.6,552.975 401.90000000000003,552.975 401.90000000000003,576.5" fill="none" stroke="#d4cca0" stroke-width="0.4"/>
<path d="M437.7,529.45 C437.7,552.975 438.0,552.975 438.0,576.5" fill="none" stroke="#d4cca0" stroke-width="0.4"/>
<path d="M289.20,577.90L477.50,577.90C477.50,601.55 477.50,601.55 477.50,625.20L289.20,625.20C289.20,601.55 289.20,601.55 289.20,577.90Z" fill="#E8B540"/>
<path d="M477.50,577.90L508.20,577.90C508.20,601.55 508.20,601.55 508.20,625.20L477.50,625.20C477.50,601.55 477.50,601.55 477.50,577.90Z" fill="#ECC94E"/>
<path d="M511.00,577.90L618.50,577.90C618.50,601.55 628.60,601.55 628.60,625.20L517.40,625.20C517.40,601.55 511.00,601.55 511.00,577.90Z" fill="#ECC94E"/>
<path d="M477.5,577.9000000000001 C477.5,601.55 477.5,601.55 477.5,625.1999999999999" fill="none" stroke="#d8c890" stroke-width="0.4"/>
<path d="M545,577.9000000000001 C545,601.55 560,601.55 560,625.1999999999999" fill="none" stroke="#d8c890" stroke-width="0.4"/>
<path d="M580,577.9000000000001 C580,601.55 600,601.55 600,625.1999999999999" fill="none" stroke="#d8c890" stroke-width="0.4"/>
<path d="M289.20,626.60L306.80,626.60C306.80,650.05 306.80,650.05 306.80,673.50L289.20,673.50C289.20,650.05 289.20,650.05 289.20,626.60Z" fill="#6AB1C8"/>
<path d="M306.80,626.60L458.40,626.60C458.40,650.05 458.40,650.05 458.40,673.50L306.80,673.50C306.80,650.05 306.80,650.05 306.80,626.60Z" fill="#84BED0"/>
<path d="M306.80,626.60L309.30,626.60C309.30,650.05 307.90,650.05 307.90,673.50L307.30,673.50C307.30,650.05 306.80,650.05 306.80,626.60Z" fill="#ffffff"/>
<path d="M346.90,626.60L351.80,626.60C351.80,650.05 347.00,650.05 347.00,673.50L345.00,673.50C345.00,650.05 346.90,650.05 346.90,626.60Z" fill="#ffffff"/>
<path d="M385.00,626.60L387.70,626.60C387.70,650.05 386.50,650.05 386.50,673.50L384.00,673.50C384.00,650.05 385.00,650.05 385.00,626.60Z" fill="#ffffff"/>
<path d="M368.10,626.60L377.10,626.60C377.10,650.05 369.80,650.05 369.80,673.50L360.80,673.50C360.80,650.05 368.10,650.05 368.10,626.60Z" fill="#CFCB76"/>
<path d="M377.10,626.60L385.00,626.60C385.00,650.05 384.00,650.05 384.00,673.50L369.80,673.50C369.80,650.05 377.10,650.05 377.10,626.60Z" fill="#A8D2DE" fill-opacity="0.9"/>
<path d="M352.6,626.6 C352.6,650.05 350.5,650.05 350.5,673.5" fill="none" stroke="#d0d0d0" stroke-width="0.6"/>
<path d="M354.2,626.6 C354.2,650.05 352,650.05 352,673.5" fill="none" stroke="#d8d8d8" stroke-width="0.6"/>
<path d="M377.1,626.6 C377.1,650.05 373,650.05 373,673.5" fill="none" stroke="#e0e0e0" stroke-width="0.6"/>
<path d="M379.5,626.6 C379.5,650.05 375.5,650.05 375.5,673.5" fill="none" stroke="#d0d0d0" stroke-width="0.6"/>
<path d="M383,626.6 C383,650.05 380,650.05 380,673.5" fill="none" stroke="#e8e8e8" stroke-width="0.6"/>
<path d="M387.7,626.6 C387.7,650.05 386.5,650.05 386.5,673.5" fill="none" stroke="#d0d0d0" stroke-width="0.6"/>
<path d="M458.40,626.60L478.00,626.60C478.00,650.05 328.90,650.05 328.90,673.50L315.80,673.50C315.80,650.05 458.40,650.05 458.40,626.60Z" fill="#C9C97A" fill-opacity="0.9"/>
<path d="M472.00,626.60L484.00,626.60C484.00,650.05 346.00,650.05 346.00,673.50L337.00,673.50C337.00,650.05 472.00,650.05 472.00,626.60Z" fill="#C9C97A" fill-opacity="0.7"/>
<path d="M458.4,626.6 C458.4,650.05 315.8,650.05 315.8,673.5" fill="none" stroke="#c8c8c0" stroke-width="0.6"/>
<path d="M478,626.6 C478,650.05 328.9,650.05 328.9,673.5" fill="none" stroke="#c8c8c0" stroke-width="0.6"/>
<path d="M472,626.6 C472,650.05 337,650.05 337,673.5" fill="none" stroke="#c8c8c0" stroke-width="0.6"/>
<path d="M484,626.6 C484,650.05 346,650.05 346,673.5" fill="none" stroke="#c8c8c0" stroke-width="0.6"/>
<rect x="289.2" y="431.0" width="281.4" height="1.7" fill="#0a0a0a"/>
<rect x="289.2" y="479.34999999999997" width="309.8" height="1.7" fill="#0a0a0a"/>
<rect x="289.2" y="527.9" width="307.8" height="1.7" fill="#0a0a0a"/>
<rect x="289.2" y="576.35" width="330.3" height="1.7" fill="#0a0a0a"/>
<rect x="289.2" y="625.05" width="340.1" height="1.7" fill="#0a0a0a"/>
<rect x="289.2" y="673.35" width="207.6" height="1.7" fill="#0a0a0a"/>
<text x="284.20" y="433.25" class="fl" text-anchor="end">T2T-CHM13</text>
<text x="284.20" y="482.30" class="fl" text-anchor="end">HG002</text>
<text x="284.20" y="530.85" class="fl" text-anchor="end">Ggo</text>
<text x="284.20" y="579.30" class="fl" text-anchor="end">Ppa</text>
<text x="284.20" y="628.00" class="fl" text-anchor="end">Ptr</text>
<text x="284.20" y="676.30" class="fl" text-anchor="end">Pab</text>
<line x1="373.3" y1="477.9" x2="444.2" y2="477.9" stroke="#333" stroke-width="0.5"/>
<rect x="373.3" y="476.59999999999997" width="3.6" height="2.6" fill="#aaa" stroke="#333" stroke-width="0.5"/>
<line x1="406.1" y1="476.59999999999997" x2="406.1" y2="479.2" stroke="#333" stroke-width="0.6"/>
<line x1="407.1" y1="476.59999999999997" x2="407.1" y2="479.2" stroke="#333" stroke-width="0.6"/>
<line x1="444.2" y1="476.59999999999997" x2="444.2" y2="479.2" stroke="#333" stroke-width="0.5"/>
<line x1="376.7" y1="526.45" x2="453.4" y2="526.45" stroke="#333" stroke-width="0.5"/>
<rect x="376.7" y="525.1500000000001" width="3.6" height="2.6" fill="#aaa" stroke="#333" stroke-width="0.5"/>
<line x1="414.5" y1="525.1500000000001" x2="414.5" y2="527.75" stroke="#333" stroke-width="0.6"/>
<line x1="415.5" y1="525.1500000000001" x2="415.5" y2="527.75" stroke="#333" stroke-width="0.6"/>
<line x1="453.4" y1="525.1500000000001" x2="453.4" y2="527.75" stroke="#333" stroke-width="0.5"/>
<line x1="377.2" y1="574.9000000000001" x2="449.2" y2="574.9000000000001" stroke="#333" stroke-width="0.5"/>
<rect x="377.2" y="573.6000000000001" width="3.6" height="2.6" fill="#aaa" stroke="#333" stroke-width="0.5"/>
<line x1="410.3" y1="573.6000000000001" x2="410.3" y2="576.2" stroke="#333" stroke-width="0.6"/>
<line x1="411.3" y1="573.6000000000001" x2="411.3" y2="576.2" stroke="#333" stroke-width="0.6"/>
<line x1="449.2" y1="573.6000000000001" x2="449.2" y2="576.2" stroke="#333" stroke-width="0.5"/>
<line x1="377.2" y1="623.6" x2="449.2" y2="623.6" stroke="#333" stroke-width="0.5"/>
<rect x="377.2" y="622.3000000000001" width="3.6" height="2.6" fill="#aaa" stroke="#333" stroke-width="0.5"/>
<line x1="410.3" y1="622.3000000000001" x2="410.3" y2="624.9" stroke="#333" stroke-width="0.6"/>
<line x1="411.3" y1="622.3000000000001" x2="411.3" y2="624.9" stroke="#333" stroke-width="0.6"/>
<line x1="449.2" y1="622.3000000000001" x2="449.2" y2="624.9" stroke="#333" stroke-width="0.5"/>
<line x1="369.3" y1="671.9000000000001" x2="408.7" y2="671.9000000000001" stroke="#333" stroke-width="0.5"/>
<rect x="369.3" y="670.6000000000001" width="3.6" height="2.6" fill="#aaa" stroke="#333" stroke-width="0.5"/>
<line x1="375.6" y1="670.6000000000001" x2="375.6" y2="673.2" stroke="#333" stroke-width="0.6"/>
<line x1="376.6" y1="670.6000000000001" x2="376.6" y2="673.2" stroke="#333" stroke-width="0.6"/>
<line x1="408.7" y1="670.6000000000001" x2="408.7" y2="673.2" stroke="#333" stroke-width="0.5"/>
<line x1="289.50" y1="687.30" x2="627.50" y2="687.30" stroke="#333" stroke-width="0.6"/>
<line x1="289.50" y1="687.30" x2="289.50" y2="688.90" stroke="#333" stroke-width="0.5"/>
<line x1="373.70" y1="687.30" x2="373.70" y2="688.90" stroke="#333" stroke-width="0.5"/>
<line x1="458.20" y1="687.30" x2="458.20" y2="688.90" stroke="#333" stroke-width="0.5"/>
<line x1="542.70" y1="687.30" x2="542.70" y2="688.90" stroke="#333" stroke-width="0.5"/>
<line x1="627.00" y1="687.30" x2="627.00" y2="688.90" stroke="#333" stroke-width="0.5"/>
<text x="289.50" y="700.00" class="tk" text-anchor="middle" style="font-size:7.6px">0</text>
<text x="373.70" y="700.00" class="tk" text-anchor="middle" style="font-size:7.6px">30</text>
<text x="458.20" y="700.00" class="tk" text-anchor="middle" style="font-size:7.6px">60</text>
<text x="542.70" y="700.00" class="tk" text-anchor="middle" style="font-size:7.6px">90</text>
<text x="627.00" y="700.00" class="tk" text-anchor="middle" style="font-size:7.6px">120</text>
<text x="458.50" y="713.00" class="ttl" text-anchor="middle">kb</text>
<text x="636.60" y="512.20" class="lg">Identity</text>
<rect x="636.60" y="516.10" width="7.60" height="7.84" fill="#86BED0"/>
<text x="648.40" y="522.64" class="lg" style="font-size:6.85px">&lt;94.6</text>
<rect x="636.60" y="524.24" width="7.60" height="7.84" fill="#9CCAD8"/>
<text x="648.40" y="530.78" class="lg" style="font-size:6.85px">95.6</text>
<rect x="636.60" y="532.38" width="7.60" height="7.84" fill="#AED0DA"/>
<text x="648.40" y="538.92" class="lg" style="font-size:6.85px">96.6</text>
<rect x="636.60" y="540.52" width="7.60" height="7.84" fill="#BFD5BE"/>
<text x="648.40" y="547.06" class="lg" style="font-size:6.85px">97.1</text>
<rect x="636.60" y="548.66" width="7.60" height="7.84" fill="#DCD898"/>
<text x="648.40" y="555.20" class="lg" style="font-size:6.85px">97.6</text>
<rect x="636.60" y="556.80" width="7.60" height="7.84" fill="#EAD87F"/>
<text x="648.40" y="563.34" class="lg" style="font-size:6.85px">98.1</text>
<rect x="636.60" y="564.94" width="7.60" height="7.84" fill="#E9CC6A"/>
<text x="648.40" y="571.48" class="lg" style="font-size:6.85px">99.2</text>
<rect x="636.60" y="573.08" width="7.60" height="7.84" fill="#E8BE60"/>
<text x="648.40" y="579.62" class="lg" style="font-size:6.85px">99.5</text>
<rect x="636.60" y="581.22" width="7.60" height="7.84" fill="#EEA06A"/>
<text x="648.40" y="587.76" class="lg" style="font-size:6.85px">99.8</text>
<rect x="636.60" y="589.36" width="7.60" height="7.84" fill="#F07D72"/>
<text x="648.40" y="595.90" class="lg" style="font-size:6.85px">&gt;99.8</text>
<text transform="translate(501.28,662.79) scale(0.660,0.163)" style="font-size:10px;font-weight:bold;fill:#F4A01F">G</text>
<text transform="translate(501.27,661.64) scale(0.681,0.163)" style="font-size:10px;font-weight:bold;fill:#2130F0">C</text>
<text transform="translate(501.47,660.50) scale(0.757,0.251)" style="font-size:10px;font-weight:bold;fill:#E8262B">T</text>
<text transform="translate(505.99,662.52) scale(0.681,3.091)" style="font-size:10px;font-weight:bold;fill:#2130F0">C</text>
<text transform="translate(510.91,662.80) scale(0.757,3.343)" style="font-size:10px;font-weight:bold;fill:#E8262B">T</text>
<text transform="translate(515.44,662.77) scale(0.660,0.325)" style="font-size:10px;font-weight:bold;fill:#F4A01F">G</text>
<text transform="translate(515.44,660.31) scale(0.660,2.115)" style="font-size:10px;font-weight:bold;fill:#F4A01F">G</text>
<text transform="translate(520.35,662.80) scale(0.757,0.334)" style="font-size:10px;font-weight:bold;fill:#E8262B">T</text>
<text transform="translate(520.16,660.32) scale(0.660,1.952)" style="font-size:10px;font-weight:bold;fill:#F4A01F">G</text>
<text transform="translate(525.07,662.80) scale(0.757,3.343)" style="font-size:10px;font-weight:bold;fill:#E8262B">T</text>
<text transform="translate(529.79,662.80) scale(0.757,0.334)" style="font-size:10px;font-weight:bold;fill:#E8262B">T</text>
<text transform="translate(529.60,660.30) scale(0.660,2.277)" style="font-size:10px;font-weight:bold;fill:#F4A01F">G</text>
<text transform="translate(534.51,662.80) scale(0.757,0.334)" style="font-size:10px;font-weight:bold;fill:#E8262B">T</text>
<text transform="translate(534.31,660.37) scale(0.681,1.464)" style="font-size:10px;font-weight:bold;fill:#2130F0">C</text>
<text transform="translate(539.23,662.80) scale(0.757,3.343)" style="font-size:10px;font-weight:bold;fill:#E8262B">T</text>
<text transform="translate(543.75,662.79) scale(0.681,0.163)" style="font-size:10px;font-weight:bold;fill:#2130F0">C</text>
<text transform="translate(543.95,661.65) scale(0.757,0.752)" style="font-size:10px;font-weight:bold;fill:#E8262B">T</text>
<text transform="translate(548.47,662.52) scale(0.681,3.091)" style="font-size:10px;font-weight:bold;fill:#2130F0">C</text>
<text transform="translate(553.39,662.80) scale(0.757,3.343)" style="font-size:10px;font-weight:bold;fill:#E8262B">T</text>
<text transform="translate(557.91,662.79) scale(0.681,0.163)" style="font-size:10px;font-weight:bold;fill:#2130F0">C</text>
<text transform="translate(558.11,661.65) scale(0.757,0.752)" style="font-size:10px;font-weight:bold;fill:#E8262B">T</text>
<text transform="translate(562.63,662.52) scale(0.681,3.091)" style="font-size:10px;font-weight:bold;fill:#2130F0">C</text>
<text transform="translate(567.55,662.80) scale(0.757,3.343)" style="font-size:10px;font-weight:bold;fill:#E8262B">T</text>
<text transform="translate(572.08,662.52) scale(0.660,3.091)" style="font-size:10px;font-weight:bold;fill:#F4A01F">G</text>
<text transform="translate(576.99,662.80) scale(0.757,3.343)" style="font-size:10px;font-weight:bold;fill:#E8262B">T</text>
<text transform="translate(581.71,662.80) scale(0.757,3.343)" style="font-size:10px;font-weight:bold;fill:#E8262B">T</text>
<text transform="translate(586.43,662.80) scale(0.757,0.251)" style="font-size:10px;font-weight:bold;fill:#E8262B">T</text>
<text transform="translate(586.24,660.88) scale(0.660,2.115)" style="font-size:10px;font-weight:bold;fill:#F4A01F">G</text>
<text transform="translate(590.96,662.60) scale(0.660,2.277)" style="font-size:10px;font-weight:bold;fill:#F4A01F">G</text>
<text transform="translate(595.87,662.80) scale(0.757,3.176)" style="font-size:10px;font-weight:bold;fill:#E8262B">T</text>
<text transform="translate(600.50,662.80) scale(0.664,0.167)" style="font-size:10px;font-weight:bold;fill:#1FA94A">A</text>
<text transform="translate(600.40,661.53) scale(0.660,1.301)" style="font-size:10px;font-weight:bold;fill:#F4A01F">G</text>
<text transform="translate(605.31,662.80) scale(0.757,0.167)" style="font-size:10px;font-weight:bold;fill:#E8262B">T</text>
<text transform="translate(605.12,661.46) scale(0.660,2.115)" style="font-size:10px;font-weight:bold;fill:#F4A01F">G</text>
<text transform="translate(609.84,662.61) scale(0.660,2.115)" style="font-size:10px;font-weight:bold;fill:#F4A01F">G</text>
<text transform="translate(614.55,662.79) scale(0.681,0.163)" style="font-size:10px;font-weight:bold;fill:#2130F0">C</text>
<text transform="translate(614.56,661.55) scale(0.660,1.139)" style="font-size:10px;font-weight:bold;fill:#F4A01F">G</text>
<text transform="translate(619.27,662.52) scale(0.681,3.091)" style="font-size:10px;font-weight:bold;fill:#2130F0">C</text>
<text transform="translate(624.19,662.80) scale(0.757,0.167)" style="font-size:10px;font-weight:bold;fill:#E8262B">T</text>
<text transform="translate(624.00,661.50) scale(0.660,1.627)" style="font-size:10px;font-weight:bold;fill:#F4A01F">G</text>
<text transform="translate(628.72,662.61) scale(0.660,2.115)" style="font-size:10px;font-weight:bold;fill:#F4A01F">G</text>
<text transform="translate(633.63,662.80) scale(0.757,0.167)" style="font-size:10px;font-weight:bold;fill:#E8262B">T</text>
<text transform="translate(633.44,661.43) scale(0.660,2.440)" style="font-size:10px;font-weight:bold;fill:#F4A01F">G</text>
<text transform="translate(638.35,662.80) scale(0.757,3.343)" style="font-size:10px;font-weight:bold;fill:#E8262B">T</text>
<text transform="translate(642.88,662.57) scale(0.660,2.603)" style="font-size:10px;font-weight:bold;fill:#F4A01F">G</text>
<text transform="translate(647.70,662.80) scale(0.664,0.167)" style="font-size:10px;font-weight:bold;fill:#1FA94A">A</text>
<text transform="translate(647.60,661.47) scale(0.660,1.952)" style="font-size:10px;font-weight:bold;fill:#F4A01F">G</text>
<text transform="translate(652.31,662.79) scale(0.681,0.163)" style="font-size:10px;font-weight:bold;fill:#2130F0">C</text>
<text transform="translate(652.51,661.65) scale(0.757,1.504)" style="font-size:10px;font-weight:bold;fill:#E8262B">T</text>
<text transform="translate(657.23,662.80) scale(0.757,2.842)" style="font-size:10px;font-weight:bold;fill:#E8262B">T</text>
<text transform="translate(661.86,662.80) scale(0.664,3.343)" style="font-size:10px;font-weight:bold;fill:#1FA94A">A</text>
<text transform="translate(666.67,662.80) scale(0.757,3.343)" style="font-size:10px;font-weight:bold;fill:#E8262B">T</text>
<text transform="translate(671.20,662.79) scale(0.660,0.163)" style="font-size:10px;font-weight:bold;fill:#F4A01F">G</text>
<text transform="translate(671.39,661.65) scale(0.757,1.504)" style="font-size:10px;font-weight:bold;fill:#E8262B">T</text>
<line x1="500" y1="639.5" x2="500" y2="663.3" stroke="#333" stroke-width="0.5"/>
<line x1="498.5" y1="639.8" x2="500" y2="639.8" stroke="#333" stroke-width="0.5"/>
<text x="497.80" y="642.00" class="lg" text-anchor="end" style="font-size:6.6px">2.0</text>
<line x1="498.5" y1="651.3" x2="500" y2="651.3" stroke="#333" stroke-width="0.5"/>
<text x="497.80" y="653.50" class="lg" text-anchor="end" style="font-size:6.6px">1.0</text>
<line x1="498.5" y1="662.8" x2="500" y2="662.8" stroke="#333" stroke-width="0.5"/>
<text x="497.80" y="665.00" class="lg" text-anchor="end" style="font-size:6.6px">0</text>
<line x1="499.2" y1="661.65" x2="500" y2="661.65" stroke="#666" stroke-width="0.3"/>
<line x1="499.2" y1="660.50" x2="500" y2="660.50" stroke="#666" stroke-width="0.3"/>
<line x1="499.2" y1="659.35" x2="500" y2="659.35" stroke="#666" stroke-width="0.3"/>
<line x1="499.2" y1="658.20" x2="500" y2="658.20" stroke="#666" stroke-width="0.3"/>
<line x1="499.2" y1="657.05" x2="500" y2="657.05" stroke="#666" stroke-width="0.3"/>
<line x1="499.2" y1="655.90" x2="500" y2="655.90" stroke="#666" stroke-width="0.3"/>
<line x1="499.2" y1="654.75" x2="500" y2="654.75" stroke="#666" stroke-width="0.3"/>
<line x1="499.2" y1="653.60" x2="500" y2="653.60" stroke="#666" stroke-width="0.3"/>
<line x1="499.2" y1="652.45" x2="500" y2="652.45" stroke="#666" stroke-width="0.3"/>
<line x1="499.2" y1="651.30" x2="500" y2="651.30" stroke="#666" stroke-width="0.3"/>
<line x1="499.2" y1="650.15" x2="500" y2="650.15" stroke="#666" stroke-width="0.3"/>
<line x1="499.2" y1="649.00" x2="500" y2="649.00" stroke="#666" stroke-width="0.3"/>
<line x1="499.2" y1="647.85" x2="500" y2="647.85" stroke="#666" stroke-width="0.3"/>
<line x1="499.2" y1="646.70" x2="500" y2="646.70" stroke="#666" stroke-width="0.3"/>
<line x1="499.2" y1="645.55" x2="500" y2="645.55" stroke="#666" stroke-width="0.3"/>
<line x1="499.2" y1="644.40" x2="500" y2="644.40" stroke="#666" stroke-width="0.3"/>
<line x1="499.2" y1="643.25" x2="500" y2="643.25" stroke="#666" stroke-width="0.3"/>
<line x1="499.2" y1="642.10" x2="500" y2="642.10" stroke="#666" stroke-width="0.3"/>
<line x1="499.2" y1="640.95" x2="500" y2="640.95" stroke="#666" stroke-width="0.3"/>
<text transform="translate(481.5,649.6) rotate(-90)" class="lg" text-anchor="middle" style="font-size:7.6px">Bits</text>
<line x1="500" y1="663.3" x2="677" y2="663.3" stroke="#333" stroke-width="0.5"/>
<text x="522.64" y="672.60" class="lg" text-anchor="middle" style="font-size:6.4px">5</text>
<text x="546.24" y="672.60" class="lg" text-anchor="middle" style="font-size:6.4px">10</text>
<text x="569.84" y="672.60" class="lg" text-anchor="middle" style="font-size:6.4px">15</text>
<text x="593.44" y="672.60" class="lg" text-anchor="middle" style="font-size:6.4px">20</text>
<text x="617.04" y="672.60" class="lg" text-anchor="middle" style="font-size:6.4px">25</text>
<text x="640.64" y="672.60" class="lg" text-anchor="middle" style="font-size:6.4px">30</text>
<text x="664.24" y="672.60" class="lg" text-anchor="middle" style="font-size:6.4px">35</text>
<text x="588.20" y="682.20" class="lg" text-anchor="middle" style="font-size:7.7px">Predicted recognition site</text>
<text x="-0.3" y="734.2" class="pl">g</text>
<rect x="124.0" y="729.1" width="340.3" height="10.8" rx="5.4" fill="#C0504D" stroke="#7a3b3b" stroke-width="0.5" clip-path="url(#gclip)"/>
<text x="294.1" y="737.1" class="bl" text-anchor="middle">KRAB</text>
<text x="63.8" y="745.2" class="gl" text-anchor="end">Novel human <tspan font-style="italic">ZNF</tspan></text>
<text x="69.5" y="745.2" class="sq" textLength="615" lengthAdjust="spacing">MPGPPGSLEMRPLIFRDVAIEFSLEEWQCLNTAQQNLYRNVMLENYRNLVFLGIAVSKPDLITCLEKEKYPWNMKRHKMVDESPVICSHFAKDLCPEQDRKCYFPEVILRRYDKCEHENLQLRKVCKSVD</text>
<text x="63.8" y="752.3" class="gl" text-anchor="end">Gorilla <tspan font-style="italic">ZNF24</tspan>-like</text>
<text x="69.5" y="752.3" class="sq" textLength="615" lengthAdjust="spacing">.............T.............................................................................E...L...I.D...K........................</text>
<text x="63.8" y="758.4" class="gl" text-anchor="end">Human <tspan font-style="italic">ZNF98</tspan></text>
<text x="69.5" y="758.4" class="sq" textLength="615" lengthAdjust="spacing">....L.....GV.T.....L..........D....................V...A..........QG.E...V...E..T.P..VY.Y..Q..W.K.GK.N..QK....T.K..GR.......Y...M.</text>
<rect x="177.0" y="760.6" width="129.0" height="10.8" rx="5.4" fill="#4F87D6" stroke="#7a4848" stroke-width="0.5" clip-path="url(#gclip)"/>
<text x="241.5" y="768.6" class="bl" text-anchor="middle">C2H2</text>
<rect x="308.3" y="760.6" width="130.7" height="10.8" rx="5.4" fill="#4F87D6" stroke="#7a4848" stroke-width="0.5" clip-path="url(#gclip)"/>
<text x="373.6" y="768.6" class="bl" text-anchor="middle">C2H2</text>
<rect x="440.3" y="760.6" width="131.1" height="10.8" rx="5.4" fill="#4F87D6" stroke="#7a4848" stroke-width="0.5" clip-path="url(#gclip)"/>
<text x="505.9" y="768.6" class="bl" text-anchor="middle">C2H2</text>
<rect x="572.3" y="760.6" width="127.7" height="10.8" rx="5.4" fill="#4F87D6" stroke="#7a4848" stroke-width="0.5" clip-path="url(#gclip)"/>
<text x="636.1" y="768.6" class="bl" text-anchor="middle">C2H2</text>
<text x="63.8" y="777.6" class="gl" text-anchor="end">Novel human <tspan font-style="italic">ZNF</tspan></text>
<text x="69.5" y="777.6" class="sq" textLength="615" lengthAdjust="spacing">ECKVHKQGYNGLNQHLTTTQSKLHQCNEDGKVFHKFSNLNTHKTRHTGKKPFKCKECGKSFCILSHLTRHKVINIEKKPHKSEECRKACSVSSNLTKCRRIHPGEKPYKCEQCGKAFNSSSHLTQHKIIH</text>
<text x="63.8" y="784.7" class="gl" text-anchor="end">Gorilla <tspan font-style="italic">ZNF24</tspan>-like</text>
<text x="69.5" y="784.7" class="sq" textLength="615" lengthAdjust="spacing">..............R.......I........................................................Y........F.......ERK............E......C.....W....R</text>
<text x="63.8" y="790.8" class="gl" text-anchor="end">Human <tspan font-style="italic">ZNF98</tspan></text>
<text x="69.5" y="790.8" class="sq" textLength="615" lengthAdjust="spacing">......EC......C.....N.IF.YDKYV........S.R..IG.....S......E....M....AQ..----------------------------...S.......KE....Y.EA.N--------</text>
<rect x="60.0" y="791.5" width="31.3" height="10.8" rx="5.4" fill="#4F87D6" stroke="#7a4848" stroke-width="0.5" clip-path="url(#gclip)"/>
<rect x="93.1" y="791.5" width="130.1" height="10.8" rx="5.4" fill="#4F87D6" stroke="#7a4848" stroke-width="0.5" clip-path="url(#gclip)"/>
<text x="158.1" y="799.5" class="bl" text-anchor="middle">C2H2</text>
<rect x="224.6" y="791.5" width="129.7" height="10.8" rx="5.4" fill="#4F87D6" stroke="#7a4848" stroke-width="0.5" clip-path="url(#gclip)"/>
<text x="289.4" y="799.5" class="bl" text-anchor="middle">C2H2</text>
<rect x="356.6" y="791.5" width="130.6" height="10.8" rx="5.4" fill="#4F87D6" stroke="#7a4848" stroke-width="0.5" clip-path="url(#gclip)"/>
<text x="421.9" y="799.5" class="bl" text-anchor="middle">C2H2</text>
<rect x="489.5" y="791.5" width="131.1" height="10.8" rx="5.4" fill="#4F87D6" stroke="#7a4848" stroke-width="0.5" clip-path="url(#gclip)"/>
<text x="555.0" y="799.5" class="bl" text-anchor="middle">C2H2</text>
<rect x="622.0" y="791.5" width="128.0" height="10.8" rx="5.4" fill="#4F87D6" stroke="#7a4848" stroke-width="0.5" clip-path="url(#gclip)"/>
<text x="686.0" y="799.5" class="bl" text-anchor="middle">C2H2</text>
<text x="63.8" y="809.8" class="gl" text-anchor="end">Novel human <tspan font-style="italic">ZNF</tspan></text>
<text x="69.5" y="809.8" class="sq" textLength="615" lengthAdjust="spacing">TKKKPYGSQECRKAFSVSSTVTQHKRVHTGEKPYKCKECGKSFRKSSHLTAHKRIHTGEKPYKCEECGKSFRKSSHLAAHKRIHTGEKPYQCEECGKAYKCSSALTRHRRIHTGEKPYKCEECGKAYICS</text>
<text x="63.8" y="816.9" class="gl" text-anchor="end">Gorilla <tspan font-style="italic">ZNF24</tspan>-like</text>
<text x="69.5" y="816.9" class="sq" textLength="615" lengthAdjust="spacing">..........................................................................................K..................................T....</text>
<text x="63.8" y="823.0" class="gl" text-anchor="end">Human <tspan font-style="italic">ZNF98</tspan></text>
<text x="69.5" y="823.0" class="sq" textLength="615" lengthAdjust="spacing">--------------------LST...I...K.....E....AN.L.....T..I....K..........A.NQ.AN.TT...........K.....RFSQ...T..A.KI..A.............FSQ.</text>
<rect x="60.0" y="823.3" width="75.9" height="10.8" rx="5.4" fill="#4F87D6" stroke="#7a4848" stroke-width="0.5" clip-path="url(#gclip)"/>
<rect x="139.1" y="823.3" width="130.1" height="10.8" rx="5.4" fill="#4F87D6" stroke="#7a4848" stroke-width="0.5" clip-path="url(#gclip)"/>
<text x="204.1" y="831.3" class="bl" text-anchor="middle">C2H2</text>
<rect x="271.5" y="823.3" width="128.4" height="10.8" rx="5.4" fill="#4F87D6" stroke="#7a4848" stroke-width="0.5" clip-path="url(#gclip)"/>
<text x="335.7" y="831.3" class="bl" text-anchor="middle">C2H2</text>
<rect x="404.5" y="823.3" width="128.7" height="10.8" rx="5.4" fill="#4F87D6" stroke="#7a4848" stroke-width="0.5" clip-path="url(#gclip)"/>
<text x="468.9" y="831.3" class="bl" text-anchor="middle">C2H2</text>
<text x="63.8" y="841.9" class="gl" text-anchor="end">Novel human <tspan font-style="italic">ZNF</tspan></text>
<text x="69.5" y="841.9" class="sq" textLength="615" lengthAdjust="spacing">STLNKHKRIHTGEKPYKCEECGKAYKCSSTLSKHKRLHTGEKPYKCEECGKAYKCSSSLTRHKRIHTGEKPYKCEECGKAFYCSSHLTRHKRIHTGEKPYKFEECGKAYNWSSTFAKHEKSCWKETRQT*</text>
<text x="63.8" y="849.0" class="gl" text-anchor="end">Gorilla <tspan font-style="italic">ZNF24</tspan>-like</text>
<text x="69.5" y="849.0" class="sq" textLength="615" lengthAdjust="spacing">...............................N....I.................S..........................................................................X</text>
<text x="63.8" y="855.1" class="gl" text-anchor="end">Human <tspan font-style="italic">ZNF98</tspan></text>
<text x="69.5" y="855.1" class="sq" textLength="615" lengthAdjust="spacing">...TT..I......F.........FSRL.H.TT...I.S.............F.Q..T..T.....A...F....V.S...SRF....T...........-----------------------------.</text>
</svg></body></html>
